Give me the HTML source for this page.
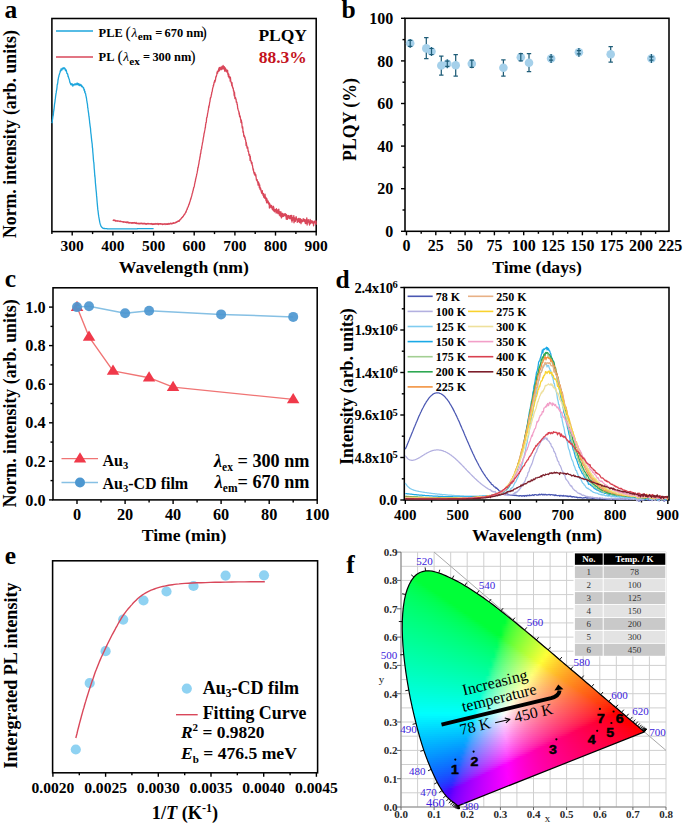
<!DOCTYPE html>
<html><head><meta charset="utf-8"><style>
html,body{margin:0;padding:0;background:#fff}
body{width:685px;height:823px;position:relative;overflow:hidden}
svg{position:absolute;left:0;top:0}
#cie{position:absolute}
#cie div{position:absolute}
</style></head><body>
<svg width="685" height="823" viewBox="0 0 685 823"><line x1="401" y1="552.1" x2="401" y2="807" stroke="#cfcfcf" stroke-width="1"/><line x1="417.6" y1="552.1" x2="417.6" y2="807" stroke="#cfcfcf" stroke-width="1"/><line x1="434.1" y1="552.1" x2="434.1" y2="807" stroke="#cfcfcf" stroke-width="1"/><line x1="450.7" y1="552.1" x2="450.7" y2="807" stroke="#cfcfcf" stroke-width="1"/><line x1="467.2" y1="552.1" x2="467.2" y2="807" stroke="#cfcfcf" stroke-width="1"/><line x1="483.8" y1="552.1" x2="483.8" y2="807" stroke="#cfcfcf" stroke-width="1"/><line x1="500.4" y1="552.1" x2="500.4" y2="807" stroke="#cfcfcf" stroke-width="1"/><line x1="516.9" y1="552.1" x2="516.9" y2="807" stroke="#cfcfcf" stroke-width="1"/><line x1="533.5" y1="552.1" x2="533.5" y2="807" stroke="#cfcfcf" stroke-width="1"/><line x1="550.1" y1="552.1" x2="550.1" y2="807" stroke="#cfcfcf" stroke-width="1"/><line x1="566.6" y1="552.1" x2="566.6" y2="807" stroke="#cfcfcf" stroke-width="1"/><line x1="583.2" y1="552.1" x2="583.2" y2="807" stroke="#cfcfcf" stroke-width="1"/><line x1="599.8" y1="552.1" x2="599.8" y2="807" stroke="#cfcfcf" stroke-width="1"/><line x1="616.3" y1="552.1" x2="616.3" y2="807" stroke="#cfcfcf" stroke-width="1"/><line x1="632.9" y1="552.1" x2="632.9" y2="807" stroke="#cfcfcf" stroke-width="1"/><line x1="649.4" y1="552.1" x2="649.4" y2="807" stroke="#cfcfcf" stroke-width="1"/><line x1="666" y1="552.1" x2="666" y2="807" stroke="#cfcfcf" stroke-width="1"/><line x1="401" y1="807" x2="666" y2="807" stroke="#cfcfcf" stroke-width="1"/><line x1="401" y1="792.8" x2="666" y2="792.8" stroke="#cfcfcf" stroke-width="1"/><line x1="401" y1="778.7" x2="666" y2="778.7" stroke="#cfcfcf" stroke-width="1"/><line x1="401" y1="764.5" x2="666" y2="764.5" stroke="#cfcfcf" stroke-width="1"/><line x1="401" y1="750.4" x2="666" y2="750.4" stroke="#cfcfcf" stroke-width="1"/><line x1="401" y1="736.2" x2="666" y2="736.2" stroke="#cfcfcf" stroke-width="1"/><line x1="401" y1="722" x2="666" y2="722" stroke="#cfcfcf" stroke-width="1"/><line x1="401" y1="707.9" x2="666" y2="707.9" stroke="#cfcfcf" stroke-width="1"/><line x1="401" y1="693.7" x2="666" y2="693.7" stroke="#cfcfcf" stroke-width="1"/><line x1="401" y1="679.6" x2="666" y2="679.6" stroke="#cfcfcf" stroke-width="1"/><line x1="401" y1="665.4" x2="666" y2="665.4" stroke="#cfcfcf" stroke-width="1"/><line x1="401" y1="651.2" x2="666" y2="651.2" stroke="#cfcfcf" stroke-width="1"/><line x1="401" y1="637.1" x2="666" y2="637.1" stroke="#cfcfcf" stroke-width="1"/><line x1="401" y1="622.9" x2="666" y2="622.9" stroke="#cfcfcf" stroke-width="1"/><line x1="401" y1="608.8" x2="666" y2="608.8" stroke="#cfcfcf" stroke-width="1"/><line x1="401" y1="594.6" x2="666" y2="594.6" stroke="#cfcfcf" stroke-width="1"/><line x1="401" y1="580.4" x2="666" y2="580.4" stroke="#cfcfcf" stroke-width="1"/><line x1="401" y1="566.3" x2="666" y2="566.3" stroke="#cfcfcf" stroke-width="1"/><line x1="401" y1="552.1" x2="666" y2="552.1" stroke="#cfcfcf" stroke-width="1"/><line x1="401" y1="552.1" x2="401" y2="807" stroke="#8a8a8a" stroke-width="1.1"/><line x1="401" y1="807" x2="666" y2="807" stroke="#8a8a8a" stroke-width="1.1"/><line x1="397" y1="807" x2="401" y2="807" stroke="#666" stroke-width="1"/><line x1="397" y1="778.7" x2="401" y2="778.7" stroke="#666" stroke-width="1"/><line x1="397" y1="750.4" x2="401" y2="750.4" stroke="#666" stroke-width="1"/><line x1="397" y1="722" x2="401" y2="722" stroke="#666" stroke-width="1"/><line x1="397" y1="693.7" x2="401" y2="693.7" stroke="#666" stroke-width="1"/><line x1="397" y1="665.4" x2="401" y2="665.4" stroke="#666" stroke-width="1"/><line x1="397" y1="637.1" x2="401" y2="637.1" stroke="#666" stroke-width="1"/><line x1="397" y1="608.8" x2="401" y2="608.8" stroke="#666" stroke-width="1"/><line x1="397" y1="580.4" x2="401" y2="580.4" stroke="#666" stroke-width="1"/><line x1="397" y1="552.1" x2="401" y2="552.1" stroke="#666" stroke-width="1"/><line x1="401" y1="807" x2="401" y2="810" stroke="#666" stroke-width="1"/><line x1="434.1" y1="807" x2="434.1" y2="810" stroke="#666" stroke-width="1"/><line x1="467.2" y1="807" x2="467.2" y2="810" stroke="#666" stroke-width="1"/><line x1="500.4" y1="807" x2="500.4" y2="810" stroke="#666" stroke-width="1"/><line x1="533.5" y1="807" x2="533.5" y2="810" stroke="#666" stroke-width="1"/><line x1="566.6" y1="807" x2="566.6" y2="810" stroke="#666" stroke-width="1"/><line x1="599.8" y1="807" x2="599.8" y2="810" stroke="#666" stroke-width="1"/><line x1="632.9" y1="807" x2="632.9" y2="810" stroke="#666" stroke-width="1"/><line x1="666" y1="807" x2="666" y2="810" stroke="#666" stroke-width="1"/><line x1="434.1" y1="552.1" x2="666" y2="750.4" stroke="#a8a8a8" stroke-width="1"/><text x="397.5" y="810.8" font-size="11" text-anchor="end" font-weight="bold" fill="#2a2a2a" font-family='"Liberation Serif", serif'>0.0</text><text x="397.5" y="782.5" font-size="11" text-anchor="end" font-weight="bold" fill="#2a2a2a" font-family='"Liberation Serif", serif'>0.1</text><text x="397.5" y="754.2" font-size="11" text-anchor="end" font-weight="bold" fill="#2a2a2a" font-family='"Liberation Serif", serif'>0.2</text><text x="397.5" y="725.8" font-size="11" text-anchor="end" font-weight="bold" fill="#2a2a2a" font-family='"Liberation Serif", serif'>0.3</text><text x="397.5" y="697.5" font-size="11" text-anchor="end" font-weight="bold" fill="#2a2a2a" font-family='"Liberation Serif", serif'>0.4</text><text x="397.5" y="669.2" font-size="11" text-anchor="end" font-weight="bold" fill="#2a2a2a" font-family='"Liberation Serif", serif'>0.5</text><text x="397.5" y="640.9" font-size="11" text-anchor="end" font-weight="bold" fill="#2a2a2a" font-family='"Liberation Serif", serif'>0.6</text><text x="397.5" y="612.6" font-size="11" text-anchor="end" font-weight="bold" fill="#2a2a2a" font-family='"Liberation Serif", serif'>0.7</text><text x="397.5" y="584.2" font-size="11" text-anchor="end" font-weight="bold" fill="#2a2a2a" font-family='"Liberation Serif", serif'>0.8</text><text x="397.5" y="555.9" font-size="11" text-anchor="end" font-weight="bold" fill="#2a2a2a" font-family='"Liberation Serif", serif'>0.9</text><text x="401" y="818.2" font-size="11" text-anchor="middle" font-weight="bold" fill="#2a2a2a" font-family='"Liberation Serif", serif'>0.0</text><text x="434.1" y="818.2" font-size="11" text-anchor="middle" font-weight="bold" fill="#2a2a2a" font-family='"Liberation Serif", serif'>0.1</text><text x="467.2" y="818.2" font-size="11" text-anchor="middle" font-weight="bold" fill="#2a2a2a" font-family='"Liberation Serif", serif'>0.2</text><text x="500.4" y="818.2" font-size="11" text-anchor="middle" font-weight="bold" fill="#2a2a2a" font-family='"Liberation Serif", serif'>0.3</text><text x="533.5" y="818.2" font-size="11" text-anchor="middle" font-weight="bold" fill="#2a2a2a" font-family='"Liberation Serif", serif'>0.4</text><text x="566.6" y="818.2" font-size="11" text-anchor="middle" font-weight="bold" fill="#2a2a2a" font-family='"Liberation Serif", serif'>0.5</text><text x="599.8" y="818.2" font-size="11" text-anchor="middle" font-weight="bold" fill="#2a2a2a" font-family='"Liberation Serif", serif'>0.6</text><text x="632.9" y="818.2" font-size="11" text-anchor="middle" font-weight="bold" fill="#2a2a2a" font-family='"Liberation Serif", serif'>0.7</text><text x="666" y="818.2" font-size="11" text-anchor="middle" font-weight="bold" fill="#2a2a2a" font-family='"Liberation Serif", serif'>0.8</text><text x="547.5" y="822" font-size="11" text-anchor="middle" font-weight="normal" fill="#222" font-family='"Liberation Serif", serif'>x</text><text x="381.6" y="682.5" font-size="11" text-anchor="middle" font-weight="normal" fill="#222" font-family='"Liberation Serif", serif'>y</text></svg>
<div id="cie" style="left:400px;top:568px;width:247px;height:240px;clip-path:path('M58.67 237.58 L58.67 237.58 L58.66 237.58 L58.65 237.58 L58.64 237.58 L58.62 237.59 L58.61 237.60 L58.59 237.61 L58.57 237.61 L58.56 237.61 L58.54 237.61 L58.52 237.61 L58.50 237.61 L58.48 237.62 L58.46 237.63 L58.43 237.63 L58.41 237.64 L58.38 237.64 L58.36 237.64 L58.33 237.64 L58.31 237.64 L58.28 237.64 L58.24 237.64 L58.21 237.64 L58.17 237.64 L58.14 237.64 L58.10 237.65 L58.05 237.65 L58.01 237.64 L57.96 237.63 L57.90 237.61 L57.85 237.59 L57.78 237.56 L57.70 237.52 L57.61 237.47 L57.51 237.42 L57.41 237.36 L57.31 237.29 L57.20 237.22 L57.08 237.14 L56.95 237.05 L56.80 236.94 L56.64 236.83 L56.47 236.70 L56.29 236.56 L56.10 236.42 L55.90 236.26 L55.69 236.09 L55.46 235.91 L55.21 235.73 L54.95 235.53 L54.67 235.32 L54.36 235.09 L54.03 234.84 L53.67 234.58 L53.28 234.29 L52.87 233.99 L52.45 233.67 L52.00 233.33 L51.52 232.97 L51.02 232.57 L50.48 232.14 L49.92 231.67 L49.33 231.16 L48.70 230.59 L48.05 229.98 L47.38 229.34 L46.67 228.60 L45.88 227.70 L45.03 226.66 L44.12 225.50 L43.15 224.17 L42.11 222.63 L41.01 220.91 L39.85 219.02 L38.62 216.88 L37.31 214.42 L35.91 211.65 L34.44 208.61 L32.89 205.22 L31.24 201.42 L29.48 197.22 L27.60 192.65 L25.68 187.65 L23.76 182.16 L21.83 176.16 L19.88 169.69 L17.94 162.77 L16.04 155.46 L14.14 147.64 L12.25 139.35 L10.43 130.77 L8.78 122.12 L7.28 113.32 L5.89 104.30 L4.68 95.29 L3.72 86.53 L2.99 77.96 L2.48 69.51 L2.23 61.32 L2.29 53.56 L2.67 46.17 L3.34 39.09 L4.32 32.49 L5.60 26.54 L7.24 21.23 L9.22 16.49 L11.46 12.40 L13.89 9.04 L16.54 6.51 L19.44 4.73 L22.49 3.56 L25.61 2.87 L28.81 2.74 L32.11 3.20 L35.48 4.03 L38.83 5.02 L42.19 6.18 L45.57 7.60 L48.94 9.17 L52.24 10.77 L55.47 12.39 L58.65 14.09 L61.79 15.84 L64.90 17.65 L67.98 19.51 L71.02 21.42 L74.04 23.38 L77.06 25.38 L80.07 27.44 L83.07 29.55 L86.06 31.70 L89.05 33.88 L92.02 36.09 L94.99 38.35 L97.95 40.63 L100.90 42.94 L103.86 45.27 L106.82 47.63 L109.77 50.01 L112.73 52.40 L115.69 54.81 L118.66 57.24 L121.63 59.69 L124.59 62.14 L127.54 64.60 L130.49 67.07 L133.44 69.55 L136.38 72.03 L139.32 74.50 L142.26 76.97 L145.19 79.45 L148.11 81.91 L151.01 84.37 L153.89 86.82 L156.76 89.26 L159.60 91.68 L162.43 94.09 L165.23 96.48 L168.02 98.85 L170.77 101.19 L173.49 103.52 L176.18 105.81 L178.85 108.08 L181.46 110.31 L184.05 112.51 L186.60 114.67 L189.10 116.79 L191.54 118.87 L193.92 120.90 L196.25 122.90 L198.52 124.84 L200.71 126.71 L202.81 128.50 L204.84 130.23 L206.79 131.89 L208.69 133.51 L210.54 135.08 L212.34 136.61 L214.07 138.08 L215.72 139.48 L217.28 140.81 L218.77 142.07 L220.19 143.27 L221.55 144.41 L222.83 145.50 L224.04 146.54 L225.19 147.53 L226.28 148.46 L227.31 149.34 L228.28 150.17 L229.19 150.95 L230.06 151.69 L230.88 152.39 L231.65 153.04 L232.38 153.65 L233.07 154.24 L233.73 154.80 L234.34 155.32 L234.93 155.82 L235.49 156.31 L236.03 156.77 L236.55 157.21 L237.04 157.63 L237.51 158.03 L237.96 158.42 L238.38 158.78 L238.79 159.12 L239.17 159.45 L239.53 159.75 L239.87 160.04 L240.19 160.30 L240.49 160.55 L240.77 160.79 L241.03 161.01 L241.26 161.21 L241.49 161.40 L241.70 161.58 L241.90 161.75 L242.08 161.91 L242.25 162.05 L242.41 162.19 L242.56 162.32 L242.69 162.43 L242.81 162.54 L242.92 162.63 L243.01 162.71 L243.10 162.78 L243.18 162.85 L243.26 162.92 L243.33 162.98 L243.41 163.04 L243.48 163.10 L243.54 163.16 L243.60 163.21 L243.65 163.25 L243.71 163.30 L243.77 163.35 L243.82 163.40 L243.88 163.45 L243.94 163.50 L243.99 163.54 L244.04 163.59 L244.09 163.63 L244.14 163.67 L244.18 163.70 L244.21 163.73 L244.24 163.76 L244.27 163.78 L244.29 163.80 L244.31 163.82 L244.32 163.83 L244.34 163.84 L244.35 163.85 L244.36 163.86 L244.36 163.86 L244.37 163.87Z')"><div style="top:0px;left:18px;width:25px;height:2px;background:linear-gradient(90deg,#00ff38 0px,#00ff38 4px,#00ff38 8px,#00ff38 12px,#00ff38 16px,#00ff38 20px,#00ff38 24px)"></div><div style="top:2px;left:14px;width:35px;height:2px;background:linear-gradient(90deg,#00ff38 0px,#00ff38 4px,#00ff38 8px,#00ff38 12px,#00ff38 16px,#00ff38 20px,#00ff38 24px,#00ff38 28px,#00ff38 32px)"></div><div style="top:4px;left:11px;width:43px;height:2px;background:linear-gradient(90deg,#00ff38 0px,#00ff38 4px,#00ff38 8px,#00ff38 12px,#00ff38 16px,#00ff38 20px,#00ff38 24px,#00ff38 28px,#00ff38 32px,#00ff38 36px,#00ff38 40px)"></div><div style="top:6px;left:9px;width:49px;height:2px;background:linear-gradient(90deg,#00ff38 0px,#00ff38 4px,#00ff38 8px,#00ff38 12px,#00ff38 16px,#00ff38 20px,#00ff38 24px,#00ff38 28px,#00ff38 32px,#00ff38 36px,#00ff38 40px,#00ff38 44px,#00ff38 48px)"></div><div style="top:8px;left:7px;width:55px;height:2px;background:linear-gradient(90deg,#00ff43 0px,#00ff3a 4px,#00ff38 8px,#00ff38 12px,#00ff38 16px,#00ff38 20px,#00ff38 24px,#00ff38 28px,#00ff38 32px,#00ff38 36px,#00ff38 40px,#00ff38 44px,#00ff38 48px,#00ff38 52px)"></div><div style="top:10px;left:6px;width:60px;height:2px;background:linear-gradient(90deg,#00ff49 0px,#00ff43 4px,#00ff3a 8px,#00ff38 12px,#00ff38 16px,#00ff38 20px,#00ff38 24px,#00ff38 28px,#00ff38 32px,#00ff38 36px,#00ff38 40px,#00ff38 44px,#00ff38 48px,#00ff38 52px,#00ff38 56px)"></div><div style="top:12px;left:5px;width:65px;height:2px;background:linear-gradient(90deg,#00ff4f 0px,#00ff49 4px,#00ff43 8px,#00ff3a 12px,#00ff38 16px,#00ff38 20px,#00ff38 24px,#00ff38 28px,#00ff38 32px,#00ff38 36px,#00ff38 40px,#00ff38 44px,#00ff38 48px,#00ff38 52px,#00ff38 56px,#00ff38 60px,#00ff38 64px)"></div><div style="top:14px;left:4px;width:69px;height:2px;background:linear-gradient(90deg,#00ff53 0px,#00ff4f 4px,#00ff4a 8px,#00ff43 12px,#00ff3a 16px,#00ff38 20px,#00ff38 24px,#00ff38 28px,#00ff38 32px,#00ff38 36px,#00ff38 40px,#00ff38 44px,#00ff38 48px,#00ff38 52px,#00ff38 56px,#00ff38 60px,#00ff38 64px,#00ff38 68px)"></div><div style="top:16px;left:3px;width:74px;height:2px;background:linear-gradient(90deg,#00ff57 0px,#00ff53 4px,#00ff4f 8px,#00ff4a 12px,#00ff43 16px,#00ff39 20px,#00ff38 24px,#00ff38 28px,#00ff38 32px,#00ff38 36px,#00ff38 40px,#00ff38 44px,#00ff38 48px,#00ff38 52px,#00ff38 56px,#00ff38 60px,#00ff38 64px,#00ff38 68px,#00ff38 72px)"></div><div style="top:18px;left:2px;width:78px;height:2px;background:linear-gradient(90deg,#00ff5b 0px,#00ff58 4px,#00ff54 8px,#00ff4f 12px,#00ff4a 16px,#00ff43 20px,#00ff39 24px,#00ff38 28px,#00ff38 32px,#00ff38 36px,#00ff38 40px,#00ff38 44px,#00ff38 48px,#00ff38 52px,#00ff38 56px,#00ff38 60px,#00ff38 64px,#00ff38 68px,#00ff38 72px,#00ff38 76px)"></div><div style="top:20px;left:1px;width:82px;height:2px;background:linear-gradient(90deg,#00ff5f 0px,#00ff5c 4px,#00ff58 8px,#00ff54 12px,#00ff4f 16px,#00ff4a 20px,#00ff43 24px,#00ff39 28px,#00ff38 32px,#00ff38 36px,#00ff38 40px,#00ff38 44px,#00ff38 48px,#00ff38 52px,#00ff38 56px,#00ff38 60px,#00ff38 64px,#00ff38 68px,#00ff38 72px,#00ff38 76px,#00ff38 80px)"></div><div style="top:22px;left:1px;width:85px;height:2px;background:linear-gradient(90deg,#00ff62 0px,#00ff5e 4px,#00ff5b 8px,#00ff57 12px,#00ff53 16px,#00ff4e 20px,#00ff49 24px,#00ff41 28px,#00ff38 32px,#00ff38 36px,#00ff38 40px,#00ff38 44px,#00ff38 48px,#00ff38 52px,#00ff38 56px,#00ff38 60px,#00ff38 64px,#00ff38 68px,#00ff38 72px,#00ff38 76px,#00ff38 80px,#00ff38 84px)"></div><div style="top:24px;left:0px;width:89px;height:2px;background:linear-gradient(90deg,#00ff65 0px,#00ff62 4px,#00ff5f 8px,#00ff5b 12px,#00ff57 16px,#00ff53 20px,#00ff4e 24px,#00ff49 28px,#00ff41 32px,#00ff38 36px,#00ff38 40px,#00ff38 44px,#00ff38 48px,#00ff38 52px,#00ff38 56px,#00ff38 60px,#00ff38 64px,#00ff38 68px,#00ff38 72px,#00ff38 76px,#00ff38 80px,#00ff38 84px,#00ff38 88px)"></div><div style="top:26px;left:-1px;width:93px;height:2px;background:linear-gradient(90deg,#00ff68 0px,#00ff65 4px,#00ff62 8px,#00ff5f 12px,#00ff5c 16px,#00ff58 20px,#00ff53 24px,#00ff4f 28px,#00ff49 32px,#00ff41 36px,#00ff38 40px,#00ff38 44px,#00ff38 48px,#00ff38 52px,#00ff38 56px,#00ff38 60px,#00ff38 64px,#00ff38 68px,#00ff38 72px,#00ff38 76px,#00ff38 80px,#00ff38 84px,#00ff38 88px,#00ff38 92px)"></div><div style="top:28px;left:-1px;width:95px;height:2px;background:linear-gradient(90deg,#00ff6b 0px,#00ff68 4px,#00ff65 8px,#00ff62 12px,#00ff5f 16px,#00ff5b 20px,#00ff57 24px,#00ff53 28px,#00ff4d 32px,#00ff47 36px,#00ff3f 40px,#00ff38 44px,#00ff38 48px,#00ff38 52px,#00ff38 56px,#00ff38 60px,#00ff38 64px,#00ff38 68px,#00ff38 72px,#00ff38 76px,#00ff38 80px,#00ff38 84px,#00ff38 88px,#00ff38 92px)"></div><div style="top:30px;left:-1px;width:98px;height:2px;background:linear-gradient(90deg,#00ff6d 0px,#00ff6a 4px,#00ff68 8px,#00ff65 12px,#00ff61 16px,#00ff5e 20px,#00ff5a 24px,#00ff56 28px,#00ff52 32px,#00ff4c 36px,#00ff45 40px,#00ff3c 44px,#00ff38 48px,#00ff38 52px,#00ff38 56px,#00ff38 60px,#00ff38 64px,#00ff38 68px,#00ff38 72px,#00ff38 76px,#00ff38 80px,#00ff38 84px,#00ff38 88px,#00ff38 92px,#00ff38 96px)"></div><div style="top:32px;left:-2px;width:102px;height:2px;background:linear-gradient(90deg,#00ff70 0px,#00ff6d 4px,#00ff6b 8px,#00ff68 12px,#00ff65 16px,#00ff62 20px,#00ff5e 24px,#00ff5b 28px,#00ff56 32px,#00ff52 36px,#00ff4c 40px,#00ff46 44px,#00ff3c 48px,#00ff38 52px,#00ff38 56px,#00ff38 60px,#00ff38 64px,#00ff38 68px,#00ff38 72px,#00ff38 76px,#00ff38 80px,#00ff38 84px,#00ff38 88px,#00ff38 92px,#00ff38 96px,#00ff38 100px)"></div><div style="top:34px;left:-2px;width:105px;height:2px;background:linear-gradient(90deg,#00ff72 0px,#00ff70 4px,#00ff6d 8px,#00ff6b 12px,#00ff68 16px,#00ff65 20px,#00ff61 24px,#00ff5e 28px,#00ff5a 32px,#00ff56 36px,#00ff51 40px,#00ff4b 44px,#00ff44 48px,#00ff38 52px,#00ff38 56px,#00ff38 60px,#00ff38 64px,#00ff38 68px,#00ff38 72px,#00ff38 76px,#00ff38 80px,#00ff38 84px,#00ff38 88px,#00ff38 92px,#00ff38 96px,#00ff38 100px,#00ff38 104px)"></div><div style="top:36px;left:-2px;width:107px;height:2px;background:linear-gradient(90deg,#00ff74 0px,#00ff72 4px,#00ff70 8px,#00ff6d 12px,#00ff6a 16px,#00ff67 20px,#00ff64 24px,#00ff61 28px,#00ff5d 32px,#00ff59 36px,#00ff55 40px,#00ff50 44px,#00ff49 48px,#00ff41 52px,#00ff38 56px,#00ff38 60px,#00ff38 64px,#00ff38 68px,#00ff38 72px,#00ff38 76px,#00ff38 80px,#00ff38 84px,#00ff38 88px,#00ff38 92px,#00ff38 96px,#00ff38 100px,#00ff38 104px)"></div><div style="top:38px;left:-3px;width:111px;height:2px;background:linear-gradient(90deg,#00ff77 0px,#00ff75 4px,#00ff73 8px,#00ff70 12px,#00ff6e 16px,#00ff6b 20px,#00ff68 24px,#00ff65 28px,#00ff61 32px,#00ff5e 36px,#00ff5a 40px,#00ff55 44px,#00ff50 48px,#00ff4a 52px,#00ff41 56px,#00ff38 60px,#00ff38 64px,#00ff38 68px,#00ff38 72px,#00ff38 76px,#00ff38 80px,#00ff38 84px,#00ff38 88px,#00ff38 92px,#00ff38 96px,#00ff38 100px,#00ff38 104px,#00ff38 108px)"></div><div style="top:40px;left:-3px;width:113px;height:2px;background:linear-gradient(90deg,#00ff79 0px,#00ff77 4px,#00ff75 8px,#00ff73 12px,#00ff70 16px,#00ff6d 20px,#00ff6b 24px,#00ff68 28px,#00ff64 32px,#00ff61 36px,#00ff5d 40px,#00ff59 44px,#00ff54 48px,#00ff4f 52px,#00ff48 56px,#00ff3e 60px,#00ff38 64px,#00ff38 68px,#00ff38 72px,#00ff38 76px,#00ff38 80px,#00ff38 84px,#00ff38 88px,#00ff38 92px,#00ff38 96px,#00ff38 100px,#00ff38 104px,#00ff38 108px,#00ff38 112px)"></div><div style="top:42px;left:-3px;width:116px;height:2px;background:linear-gradient(90deg,#00ff7c 0px,#00ff7a 4px,#00ff77 8px,#00ff75 12px,#00ff73 16px,#00ff70 20px,#00ff6d 24px,#00ff6a 28px,#00ff67 32px,#00ff64 36px,#00ff60 40px,#00ff5c 44px,#00ff58 48px,#00ff53 52px,#00ff4d 56px,#00ff46 60px,#00ff3b 64px,#00ff38 68px,#00ff38 72px,#00ff38 76px,#00ff38 80px,#00ff38 84px,#00ff38 88px,#00ff38 92px,#00ff38 96px,#00ff38 100px,#00ff38 104px,#00ff38 108px,#02ff38 112px)"></div><div style="top:44px;left:-3px;width:118px;height:2px;background:linear-gradient(90deg,#00ff7e 0px,#00ff7c 4px,#00ff7a 8px,#00ff77 12px,#00ff75 16px,#00ff72 20px,#00ff70 24px,#00ff6d 28px,#00ff6a 32px,#00ff67 36px,#00ff63 40px,#00ff60 44px,#00ff5c 48px,#00ff57 52px,#00ff52 56px,#00ff4c 60px,#00ff44 64px,#00ff38 68px,#00ff38 72px,#00ff38 76px,#00ff38 80px,#00ff38 84px,#00ff38 88px,#00ff38 92px,#00ff38 96px,#00ff38 100px,#00ff38 104px,#00ff38 108px,#0eff38 112px,#30ff38 116px)"></div><div style="top:46px;left:-3px;width:121px;height:2px;background:linear-gradient(90deg,#00ff80 0px,#00ff7e 4px,#00ff7c 8px,#00ff7a 12px,#00ff77 16px,#00ff75 20px,#00ff72 24px,#00ff70 28px,#00ff6d 32px,#00ff6a 36px,#00ff66 40px,#00ff63 44px,#00ff5f 48px,#00ff5b 52px,#00ff56 56px,#00ff51 60px,#00ff4a 64px,#00ff41 68px,#00ff38 72px,#00ff38 76px,#00ff38 80px,#00ff38 84px,#00ff38 88px,#00ff38 92px,#00ff38 96px,#00ff38 100px,#00ff38 104px,#00ff38 108px,#16ff38 112px,#35ff38 116px,#4aff38 120px)"></div><div style="top:48px;left:-3px;width:123px;height:2px;background:linear-gradient(90deg,#00ff82 0px,#00ff80 4px,#00ff7e 8px,#00ff7c 12px,#00ff7a 16px,#00ff77 20px,#00ff75 24px,#00ff72 28px,#00ff70 32px,#00ff6d 36px,#00ff69 40px,#00ff66 44px,#00ff62 48px,#00ff5f 52px,#00ff5a 56px,#00ff55 60px,#00ff4f 64px,#00ff48 68px,#00ff3e 72px,#00ff38 76px,#00ff38 80px,#00ff38 84px,#00ff38 88px,#00ff38 92px,#00ff38 96px,#00ff38 100px,#00ff38 104px,#00ff38 108px,#1cff38 112px,#39ff38 116px,#4eff38 120px)"></div><div style="top:50px;left:-3px;width:126px;height:2px;background:linear-gradient(90deg,#00ff84 0px,#00ff82 4px,#00ff80 8px,#00ff7e 12px,#00ff7c 16px,#00ff7a 20px,#00ff77 24px,#00ff75 28px,#00ff72 32px,#00ff6f 36px,#00ff6c 40px,#00ff69 44px,#00ff66 48px,#00ff62 52px,#00ff5e 56px,#00ff59 60px,#00ff54 64px,#00ff4e 68px,#00ff46 72px,#00ff3a 76px,#00ff38 80px,#00ff38 84px,#00ff38 88px,#00ff38 92px,#00ff38 96px,#00ff38 100px,#00ff38 104px,#00ff38 108px,#22ff38 112px,#3dff38 116px,#52ff38 120px,#63ff38 124px)"></div><div style="top:52px;left:-3px;width:128px;height:2px;background:linear-gradient(90deg,#00ff86 0px,#00ff85 4px,#00ff83 8px,#00ff81 12px,#00ff7e 16px,#00ff7c 20px,#00ff7a 24px,#00ff77 28px,#00ff75 32px,#00ff72 36px,#00ff6f 40px,#00ff6c 44px,#00ff69 48px,#00ff65 52px,#00ff61 56px,#00ff5d 60px,#00ff58 64px,#00ff53 68px,#00ff4c 72px,#00ff44 76px,#00ff38 80px,#00ff38 84px,#00ff38 88px,#00ff38 92px,#00ff38 96px,#00ff38 100px,#00ff38 104px,#00ff38 108px,#28ff38 112px,#41ff38 116px,#55ff38 120px,#66ff38 124px)"></div><div style="top:54px;left:-3px;width:131px;height:2px;background:linear-gradient(90deg,#00ff89 0px,#00ff87 4px,#00ff85 8px,#00ff83 12px,#00ff81 16px,#00ff7f 20px,#00ff7c 24px,#00ff7a 28px,#00ff78 32px,#00ff75 36px,#00ff72 40px,#00ff6f 44px,#00ff6c 48px,#00ff69 52px,#00ff65 56px,#00ff61 60px,#00ff5c 64px,#00ff57 68px,#00ff52 72px,#00ff4b 76px,#00ff41 80px,#00ff38 84px,#00ff38 88px,#00ff38 92px,#00ff38 96px,#00ff38 100px,#00ff38 104px,#01ff38 108px,#2dff38 112px,#45ff38 116px,#59ff38 120px,#6aff38 124px,#79ff38 128px)"></div><div style="top:56px;left:-3px;width:133px;height:2px;background:linear-gradient(90deg,#00ff8b 0px,#00ff89 4px,#00ff87 8px,#00ff85 12px,#00ff83 16px,#00ff81 20px,#00ff7f 24px,#00ff7d 28px,#00ff7a 32px,#00ff78 36px,#00ff75 40px,#00ff72 44px,#00ff6f 48px,#00ff6c 52px,#00ff68 56px,#00ff64 60px,#00ff60 64px,#00ff5c 68px,#00ff56 72px,#00ff50 76px,#00ff49 80px,#00ff3e 84px,#00ff38 88px,#00ff38 92px,#00ff38 96px,#00ff38 100px,#00ff38 104px,#0dff38 108px,#32ff38 112px,#49ff38 116px,#5cff38 120px,#6dff38 124px,#7cff38 128px,#8bff38 132px)"></div><div style="top:58px;left:-3px;width:135px;height:2px;background:linear-gradient(90deg,#00ff8d 0px,#00ff8b 4px,#00ff89 8px,#00ff87 12px,#00ff85 16px,#00ff83 20px,#00ff81 24px,#00ff7f 28px,#00ff7d 32px,#00ff7a 36px,#00ff78 40px,#00ff75 44px,#00ff72 48px,#00ff6f 52px,#00ff6b 56px,#00ff68 60px,#00ff64 64px,#00ff60 68px,#00ff5b 72px,#00ff55 76px,#00ff4f 80px,#00ff47 84px,#00ff3a 88px,#00ff38 92px,#00ff38 96px,#00ff38 100px,#00ff38 104px,#16ff38 108px,#36ff38 112px,#4dff38 116px,#60ff38 120px,#71ff38 124px,#80ff38 128px,#8eff38 132px)"></div><div style="top:60px;left:-3px;width:138px;height:2px;background:linear-gradient(90deg,#00ff8f 0px,#00ff8d 4px,#00ff8c 8px,#00ff8a 12px,#00ff88 16px,#00ff86 20px,#00ff84 24px,#00ff82 28px,#00ff7f 32px,#00ff7d 36px,#00ff7a 40px,#00ff78 44px,#00ff75 48px,#00ff72 52px,#00ff6f 56px,#00ff6b 60px,#00ff67 64px,#00ff63 68px,#00ff5f 72px,#00ff5a 76px,#00ff54 80px,#00ff4d 84px,#00ff44 88px,#00ff38 92px,#00ff38 96px,#00ff38 100px,#00ff38 104px,#1dff38 108px,#3bff38 112px,#51ff38 116px,#63ff38 120px,#74ff38 124px,#83ff38 128px,#91ff38 132px,#9fff38 136px)"></div><div style="top:62px;left:-3px;width:140px;height:2px;background:linear-gradient(90deg,#00ff91 0px,#00ff90 4px,#00ff8e 8px,#00ff8c 12px,#00ff8a 16px,#00ff88 20px,#00ff86 24px,#00ff84 28px,#00ff82 32px,#00ff7f 36px,#00ff7d 40px,#00ff7a 44px,#00ff78 48px,#00ff75 52px,#00ff72 56px,#00ff6e 60px,#00ff6b 64px,#00ff67 68px,#00ff63 72px,#00ff5e 76px,#00ff59 80px,#00ff53 84px,#00ff4c 88px,#00ff41 92px,#00ff38 96px,#00ff38 100px,#00ff38 104px,#23ff38 108px,#3fff38 112px,#55ff38 116px,#67ff38 120px,#77ff38 124px,#87ff38 128px,#95ff38 132px,#a3ff38 136px)"></div><div style="top:64px;left:-3px;width:143px;height:2px;background:linear-gradient(90deg,#00ff93 0px,#00ff92 4px,#00ff90 8px,#00ff8e 12px,#00ff8c 16px,#00ff8b 20px,#00ff89 24px,#00ff86 28px,#00ff84 32px,#00ff82 36px,#00ff80 40px,#00ff7d 44px,#00ff7b 48px,#00ff78 52px,#00ff75 56px,#00ff72 60px,#00ff6e 64px,#00ff6b 68px,#00ff67 72px,#00ff62 76px,#00ff5d 80px,#00ff58 84px,#00ff52 88px,#00ff4a 92px,#00ff3e 96px,#00ff38 100px,#00ff38 104px,#29ff38 108px,#44ff38 112px,#59ff38 116px,#6bff38 120px,#7bff38 124px,#8aff38 128px,#98ff38 132px,#a6ff38 136px,#b3ff38 140px)"></div><div style="top:66px;left:-3px;width:145px;height:2px;background:linear-gradient(90deg,#00ff96 0px,#00ff94 4px,#00ff92 8px,#00ff91 12px,#00ff8f 16px,#00ff8d 20px,#00ff8b 24px,#00ff89 28px,#00ff87 32px,#00ff85 36px,#00ff82 40px,#00ff80 44px,#00ff7d 48px,#00ff7b 52px,#00ff78 56px,#00ff75 60px,#00ff72 64px,#00ff6e 68px,#00ff6a 72px,#00ff66 76px,#00ff62 80px,#00ff5d 84px,#00ff57 88px,#00ff50 92px,#00ff47 96px,#00ff39 100px,#00ff38 104px,#2eff38 108px,#48ff38 112px,#5cff38 116px,#6eff38 120px,#7eff38 124px,#8eff38 128px,#9cff38 132px,#aaff38 136px,#b7ff38 140px,#c4ff38 144px)"></div><div style="top:68px;left:-3px;width:147px;height:2px;background:linear-gradient(90deg,#00ff98 0px,#00ff96 4px,#00ff95 8px,#00ff93 12px,#00ff91 16px,#00ff8f 20px,#00ff8d 24px,#00ff8b 28px,#00ff89 32px,#00ff87 36px,#00ff85 40px,#00ff83 44px,#00ff80 48px,#00ff7e 52px,#00ff7b 56px,#00ff78 60px,#00ff75 64px,#00ff71 68px,#00ff6e 72px,#00ff6a 76px,#00ff66 80px,#00ff61 84px,#00ff5c 88px,#00ff56 92px,#00ff4e 96px,#00ff45 100px,#0cff38 104px,#34ff38 108px,#4cff38 112px,#60ff38 116px,#72ff38 120px,#82ff38 124px,#91ff38 128px,#9fff38 132px,#adff38 136px,#baff38 140px,#c7ff38 144px)"></div><div style="top:70px;left:-3px;width:150px;height:2px;background:linear-gradient(90deg,#00ff9a 0px,#00ff98 4px,#00ff97 8px,#00ff95 12px,#00ff93 16px,#00ff92 20px,#00ff90 24px,#00ff8e 28px,#00ff8c 32px,#00ff8a 36px,#00ff88 40px,#00ff85 44px,#00ff83 48px,#00ff80 52px,#00ff7e 56px,#00ff7b 60px,#00ff78 64px,#00ff75 68px,#00ff71 72px,#00ff6e 76px,#00ff6a 80px,#00ff65 84px,#00ff60 88px,#00ff5b 92px,#00ff54 96px,#00ff4d 100px,#16ff41 104px,#38ff38 108px,#50ff38 112px,#64ff38 116px,#76ff38 120px,#86ff38 124px,#95ff38 128px,#a3ff38 132px,#b1ff38 136px,#beff38 140px,#cbff38 144px,#d8ff38 148px)"></div><div style="top:72px;left:-3px;width:152px;height:2px;background:linear-gradient(90deg,#00ff9c 0px,#00ff9b 4px,#00ff99 8px,#00ff97 12px,#00ff96 16px,#00ff94 20px,#00ff92 24px,#00ff90 28px,#00ff8e 32px,#00ff8c 36px,#00ff8a 40px,#00ff88 44px,#00ff86 48px,#00ff83 52px,#00ff81 56px,#00ff7e 60px,#00ff7b 64px,#00ff78 68px,#00ff75 72px,#00ff71 76px,#00ff6d 80px,#00ff69 84px,#00ff65 88px,#00ff60 92px,#00ff5a 96px,#00ff53 100px,#1dff4a 104px,#3dff3d 108px,#54ff38 112px,#68ff38 116px,#79ff38 120px,#89ff38 124px,#98ff38 128px,#a7ff38 132px,#b5ff38 136px,#c2ff38 140px,#cfff38 144px,#dcff38 148px)"></div><div style="top:74px;left:-3px;width:155px;height:2px;background:linear-gradient(90deg,#00ff9e 0px,#00ff9d 4px,#00ff9b 8px,#00ff9a 12px,#00ff98 16px,#00ff96 20px,#00ff95 24px,#00ff93 28px,#00ff91 32px,#00ff8f 36px,#00ff8d 40px,#00ff8b 44px,#00ff88 48px,#00ff86 52px,#00ff84 56px,#00ff81 60px,#00ff7e 64px,#00ff7b 68px,#00ff78 72px,#00ff75 76px,#00ff71 80px,#00ff6d 84px,#00ff69 88px,#00ff64 92px,#00ff5f 96px,#00ff59 100px,#24ff51 104px,#42ff48 108px,#58ff38 112px,#6cff38 116px,#7dff38 120px,#8dff38 124px,#9cff38 128px,#aaff38 132px,#b8ff38 136px,#c6ff38 140px,#d3ff38 144px,#e0ff38 148px,#edff38 152px)"></div><div style="top:76px;left:-3px;width:157px;height:2px;background:linear-gradient(90deg,#00ffa1 0px,#00ff9f 4px,#00ff9e 8px,#00ff9c 12px,#00ff9a 16px,#00ff99 20px,#00ff97 24px,#00ff95 28px,#00ff93 32px,#00ff92 36px,#00ff90 40px,#00ff8d 44px,#00ff8b 48px,#00ff89 52px,#00ff86 56px,#00ff84 60px,#00ff81 64px,#00ff7e 68px,#00ff7b 72px,#00ff78 76px,#00ff75 80px,#00ff71 84px,#00ff6d 88px,#00ff68 92px,#00ff63 96px,#00ff5e 100px,#2aff57 104px,#47ff50 108px,#5cff45 112px,#6fff38 116px,#81ff38 120px,#91ff38 124px,#a0ff38 128px,#aeff38 132px,#bcff38 136px,#caff38 140px,#d7ff38 144px,#e4ff38 148px,#f1ff38 152px,#feff38 156px)"></div><div style="top:78px;left:-3px;width:159px;height:2px;background:linear-gradient(90deg,#00ffa3 0px,#00ffa1 4px,#00ffa0 8px,#00ff9e 12px,#00ff9d 16px,#00ff9b 20px,#00ff9a 24px,#00ff98 28px,#00ff96 32px,#00ff94 36px,#00ff92 40px,#00ff90 44px,#00ff8e 48px,#00ff8c 52px,#00ff89 56px,#00ff87 60px,#00ff84 64px,#00ff82 68px,#00ff7f 72px,#00ff7c 76px,#00ff78 80px,#00ff75 84px,#00ff71 88px,#00ff6d 92px,#00ff68 96px,#00ff63 100px,#30ff5d 104px,#4bff56 108px,#61ff4e 112px,#73ff42 116px,#84ff38 120px,#94ff38 124px,#a4ff38 128px,#b2ff38 132px,#c0ff38 136px,#ceff38 140px,#dbff38 144px,#e9ff38 148px,#f6ff38 152px,#fffb37 156px)"></div><div style="top:80px;left:-3px;width:162px;height:2px;background:linear-gradient(90deg,#00ffa5 0px,#00ffa4 4px,#00ffa2 8px,#00ffa1 12px,#00ff9f 16px,#00ff9e 20px,#00ff9c 24px,#00ff9a 28px,#00ff99 32px,#00ff97 36px,#00ff95 40px,#00ff93 44px,#00ff91 48px,#00ff8f 52px,#00ff8c 56px,#00ff8a 60px,#00ff87 64px,#00ff85 68px,#00ff82 72px,#00ff7f 76px,#00ff7c 80px,#00ff78 84px,#00ff75 88px,#00ff71 92px,#00ff6c 96px,#0bff67 100px,#35ff62 104px,#4fff5c 108px,#65ff55 112px,#77ff4b 116px,#88ff3d 120px,#98ff38 124px,#a7ff38 128px,#b6ff38 132px,#c4ff38 136px,#d2ff38 140px,#e0ff38 144px,#edff38 148px,#faff38 152px,#fff736 156px,#ffeb34 160px)"></div><div style="top:82px;left:-3px;width:164px;height:2px;background:linear-gradient(90deg,#00ffa7 0px,#00ffa6 4px,#00ffa5 8px,#00ffa3 12px,#00ffa2 16px,#00ffa0 20px,#00ff9f 24px,#00ff9d 28px,#00ff9b 32px,#00ff99 36px,#00ff98 40px,#00ff96 44px,#00ff94 48px,#00ff91 52px,#00ff8f 56px,#00ff8d 60px,#00ff8a 64px,#00ff88 68px,#00ff85 72px,#00ff82 76px,#00ff7f 80px,#00ff7c 84px,#00ff78 88px,#00ff75 92px,#00ff70 96px,#16ff6c 100px,#3bff67 104px,#54ff61 108px,#69ff5b 112px,#7bff53 116px,#8cff49 120px,#9cff38 124px,#abff38 128px,#baff38 132px,#c8ff38 136px,#d6ff38 140px,#e4ff38 144px,#f1ff38 148px,#ffff38 152px,#fff235 156px,#ffe733 160px)"></div><div style="top:84px;left:-2px;width:165px;height:2px;background:linear-gradient(90deg,#00ffa9 0px,#00ffa8 4px,#00ffa7 8px,#00ffa5 12px,#00ffa4 16px,#00ffa2 20px,#00ffa1 24px,#00ff9f 28px,#00ff9d 32px,#00ff9c 36px,#00ff9a 40px,#00ff98 44px,#00ff96 48px,#00ff94 52px,#00ff92 56px,#00ff8f 60px,#00ff8d 64px,#00ff8a 68px,#00ff88 72px,#00ff85 76px,#00ff82 80px,#00ff7f 84px,#00ff7b 88px,#00ff77 92px,#00ff73 96px,#28ff6f 100px,#46ff6a 104px,#5eff65 108px,#72ff5f 112px,#84ff58 116px,#94ff4f 120px,#a4ff42 124px,#b3ff38 128px,#c2ff38 132px,#d0ff38 136px,#deff38 140px,#ecff38 144px,#f9ff38 148px,#fff736 152px,#ffeb34 156px,#ffe031 160px,#ffd62f 164px)"></div><div style="top:86px;left:-2px;width:168px;height:2px;background:linear-gradient(90deg,#00ffab 0px,#00ffaa 4px,#00ffa9 8px,#00ffa8 12px,#00ffa6 16px,#00ffa5 20px,#00ffa3 24px,#00ffa2 28px,#00ffa0 32px,#00ff9e 36px,#00ff9c 40px,#00ff9b 44px,#00ff99 48px,#00ff97 52px,#00ff94 56px,#00ff92 60px,#00ff90 64px,#00ff8d 68px,#00ff8b 72px,#00ff88 76px,#00ff85 80px,#00ff82 84px,#00ff7f 88px,#00ff7b 92px,#00ff78 96px,#2eff73 100px,#4bff6f 104px,#62ff6a 108px,#76ff64 112px,#88ff5e 116px,#98ff56 120px,#a8ff4c 124px,#b7ff3c 128px,#c6ff38 132px,#d4ff38 136px,#e3ff38 140px,#f0ff38 144px,#feff38 148px,#fff335 152px,#ffe733 156px,#ffdc30 160px,#ffd22e 164px)"></div><div style="top:88px;left:-2px;width:170px;height:2px;background:linear-gradient(90deg,#00ffae 0px,#00ffad 4px,#00ffab 8px,#00ffaa 12px,#00ffa9 16px,#00ffa7 20px,#00ffa6 24px,#00ffa4 28px,#00ffa3 32px,#00ffa1 36px,#00ff9f 40px,#00ff9d 44px,#00ff9b 48px,#00ff99 52px,#00ff97 56px,#00ff95 60px,#00ff93 64px,#00ff91 68px,#00ff8e 72px,#00ff8c 76px,#00ff89 80px,#00ff86 84px,#00ff83 88px,#00ff7f 92px,#02ff7c 96px,#34ff78 100px,#50ff73 104px,#66ff6f 108px,#7aff69 112px,#8cff63 116px,#9cff5d 120px,#acff54 124px,#bbff49 128px,#caff38 132px,#d9ff38 136px,#e7ff38 140px,#f5ff38 144px,#fffb37 148px,#ffee34 152px,#ffe232 156px,#ffd82f 160px,#ffce2d 164px,#ffc52b 168px)"></div><div style="top:90px;left:-2px;width:172px;height:2px;background:linear-gradient(90deg,#00ffb0 0px,#00ffaf 4px,#00ffae 8px,#00ffac 12px,#00ffab 16px,#00ffaa 20px,#00ffa8 24px,#00ffa7 28px,#00ffa5 32px,#00ffa4 36px,#00ffa2 40px,#00ffa0 44px,#00ff9e 48px,#00ff9c 52px,#00ff9a 56px,#00ff98 60px,#00ff96 64px,#00ff94 68px,#00ff91 72px,#00ff8f 76px,#00ff8c 80px,#00ff89 84px,#00ff86 88px,#00ff83 92px,#10ff80 96px,#3aff7c 100px,#55ff78 104px,#6bff73 108px,#7eff6e 112px,#90ff69 116px,#a0ff63 120px,#b0ff5b 124px,#c0ff52 128px,#cfff46 132px,#ddff38 136px,#ecff38 140px,#faff38 144px,#fff636 148px,#ffe933 152px,#ffde31 156px,#ffd42f 160px,#ffca2c 164px,#ffc12a 168px)"></div><div style="top:92px;left:-2px;width:175px;height:2px;background:linear-gradient(90deg,#00ffb3 0px,#00ffb1 4px,#00ffb0 8px,#00ffaf 12px,#00ffae 16px,#00ffac 20px,#00ffab 24px,#00ffa9 28px,#00ffa8 32px,#00ffa6 36px,#00ffa5 40px,#00ffa3 44px,#00ffa1 48px,#00ff9f 52px,#00ff9d 56px,#00ff9b 60px,#00ff99 64px,#00ff97 68px,#00ff95 72px,#00ff92 76px,#00ff90 80px,#00ff8d 84px,#00ff8a 88px,#00ff87 92px,#1aff83 96px,#3fff80 100px,#59ff7c 104px,#6fff78 108px,#82ff73 112px,#94ff6e 116px,#a5ff68 120px,#b5ff62 124px,#c4ff5a 128px,#d3ff50 132px,#e2ff42 136px,#f1ff38 140px,#ffff38 144px,#fff135 148px,#ffe532 152px,#ffda30 156px,#ffd02e 160px,#ffc62c 164px,#ffbd2a 168px,#ffb528 172px)"></div><div style="top:94px;left:-1px;width:176px;height:2px;background:linear-gradient(90deg,#00ffb5 0px,#00ffb3 4px,#00ffb2 8px,#00ffb1 12px,#00ffb0 16px,#00ffae 20px,#00ffad 24px,#00ffac 28px,#00ffaa 32px,#00ffa9 36px,#00ffa7 40px,#00ffa5 44px,#00ffa4 48px,#00ffa2 52px,#00ffa0 56px,#00ff9e 60px,#00ff9c 64px,#00ff9a 68px,#00ff97 72px,#00ff95 76px,#00ff92 80px,#00ff90 84px,#00ff8d 88px,#00ff8a 92px,#2dff87 96px,#4cff83 100px,#63ff7f 104px,#78ff7b 108px,#8bff77 112px,#9cff72 116px,#adff6c 120px,#bdff66 124px,#cdff5f 128px,#dcff56 132px,#ebff4a 136px,#f9ff38 140px,#fff636 144px,#ffe933 148px,#ffde31 152px,#ffd32e 156px,#ffc92c 160px,#ffc02a 164px,#ffb828 168px,#ffb027 172px)"></div><div style="top:96px;left:-1px;width:178px;height:2px;background:linear-gradient(90deg,#00ffb7 0px,#00ffb6 4px,#00ffb5 8px,#00ffb4 12px,#00ffb2 16px,#00ffb1 20px,#00ffb0 24px,#00ffae 28px,#00ffad 32px,#00ffab 36px,#00ffaa 40px,#00ffa8 44px,#00ffa7 48px,#00ffa5 52px,#00ffa3 56px,#00ffa1 60px,#00ff9f 64px,#00ff9d 68px,#00ff9b 72px,#00ff98 76px,#00ff96 80px,#00ff93 84px,#00ff91 88px,#00ff8e 92px,#33ff8a 96px,#50ff87 100px,#68ff83 104px,#7dff80 108px,#8fff7b 112px,#a1ff77 116px,#b1ff72 120px,#c2ff6c 124px,#d1ff65 128px,#e0ff5e 132px,#f0ff54 136px,#ffff47 140px,#fff135 144px,#ffe532 148px,#ffd930 152px,#ffcf2d 156px,#ffc52b 160px,#ffbc29 164px,#ffb428 168px,#ffac26 172px,#ffa524 176px)"></div><div style="top:98px;left:-1px;width:181px;height:2px;background:linear-gradient(90deg,#00ffb9 0px,#00ffb8 4px,#00ffb7 8px,#00ffb6 12px,#00ffb5 16px,#00ffb4 20px,#00ffb2 24px,#00ffb1 28px,#00ffb0 32px,#00ffae 36px,#00ffad 40px,#00ffab 44px,#00ffa9 48px,#00ffa8 52px,#00ffa6 56px,#00ffa4 60px,#00ffa2 64px,#00ffa0 68px,#00ff9e 72px,#00ff9c 76px,#00ff99 80px,#00ff97 84px,#00ff94 88px,#09ff91 92px,#39ff8e 96px,#55ff8b 100px,#6dff88 104px,#81ff84 108px,#94ff80 112px,#a5ff7c 116px,#b6ff77 120px,#c6ff71 124px,#d6ff6b 128px,#e5ff64 132px,#f5ff5c 136px,#fffa50 140px,#ffec3d 144px,#ffe031 148px,#ffd52f 152px,#ffcb2d 156px,#ffc12a 160px,#ffb829 164px,#ffb027 168px,#ffa825 172px,#ffa123 176px,#ff9b22 180px)"></div><div style="top:100px;left:-1px;width:183px;height:2px;background:linear-gradient(90deg,#00ffbc 0px,#00ffbb 4px,#00ffba 8px,#00ffb9 12px,#00ffb8 16px,#00ffb6 20px,#00ffb5 24px,#00ffb4 28px,#00ffb2 32px,#00ffb1 36px,#00ffb0 40px,#00ffae 44px,#00ffac 48px,#00ffab 52px,#00ffa9 56px,#00ffa7 60px,#00ffa5 64px,#00ffa3 68px,#00ffa1 72px,#00ff9f 76px,#00ff9d 80px,#00ff9a 84px,#00ff98 88px,#15ff95 92px,#3fff92 96px,#5aff8f 100px,#71ff8c 104px,#85ff88 108px,#98ff85 112px,#aaff80 116px,#bbff7c 120px,#cbff77 124px,#dbff71 128px,#ebff6b 132px,#faff63 136px,#fff557 140px,#ffe848 144px,#ffdb32 148px,#ffd02e 152px,#ffc62c 156px,#ffbd2a 160px,#ffb428 164px,#ffac26 168px,#ffa524 172px,#ff9e23 176px,#ff9721 180px)"></div><div style="top:102px;left:0px;width:185px;height:2px;background:linear-gradient(90deg,#00ffbe 0px,#00ffbd 4px,#00ffbc 8px,#00ffbb 12px,#00ffba 16px,#00ffb9 20px,#00ffb7 24px,#00ffb6 28px,#00ffb5 32px,#00ffb4 36px,#00ffb2 40px,#00ffb1 44px,#00ffaf 48px,#00ffad 52px,#00ffac 56px,#00ffaa 60px,#00ffa8 64px,#00ffa6 68px,#00ffa4 72px,#00ffa2 76px,#00ffa0 80px,#00ff9e 84px,#00ff9b 88px,#2aff98 92px,#4cff96 96px,#65ff93 100px,#7bff8f 104px,#8fff8c 108px,#a1ff88 112px,#b3ff84 116px,#c4ff80 120px,#d4ff7b 124px,#e4ff75 128px,#f4ff6f 132px,#fffb67 136px,#ffec5a 140px,#ffe04c 144px,#ffd43b 148px,#ffca2c 152px,#ffc02a 156px,#ffb728 160px,#ffaf26 164px,#ffa725 168px,#ff9f23 172px,#ff9922 176px,#ff9220 180px,#ff8c1f 184px)"></div><div style="top:104px;left:0px;width:187px;height:2px;background:linear-gradient(90deg,#00ffc1 0px,#00ffc0 4px,#00ffbf 8px,#00ffbe 12px,#00ffbd 16px,#00ffbb 20px,#00ffba 24px,#00ffb9 28px,#00ffb8 32px,#00ffb6 36px,#00ffb5 40px,#00ffb4 44px,#00ffb2 48px,#00ffb1 52px,#00ffaf 56px,#00ffad 60px,#00ffac 64px,#00ffaa 68px,#00ffa8 72px,#00ffa6 76px,#00ffa4 80px,#00ffa1 84px,#00ff9f 88px,#31ff9c 92px,#51ff9a 96px,#6aff97 100px,#80ff94 104px,#93ff90 108px,#a6ff8d 112px,#b7ff89 116px,#c8ff85 120px,#d9ff80 124px,#e9ff7b 128px,#f9ff75 132px,#fff56b 136px,#ffe75f 140px,#ffdb52 144px,#ffd044 148px,#ffc532 152px,#ffbc29 156px,#ffb327 160px,#ffab26 164px,#ffa324 168px,#ff9c22 172px,#ff9521 176px,#ff8f1f 180px,#ff891e 184px)"></div><div style="top:106px;left:0px;width:189px;height:2px;background:linear-gradient(90deg,#00ffc3 0px,#00ffc2 4px,#00ffc1 8px,#00ffc0 12px,#00ffbf 16px,#00ffbe 20px,#00ffbd 24px,#00ffbc 28px,#00ffbb 32px,#00ffb9 36px,#00ffb8 40px,#00ffb7 44px,#00ffb5 48px,#00ffb4 52px,#00ffb2 56px,#00ffb1 60px,#00ffaf 64px,#00ffad 68px,#00ffab 72px,#00ffa9 76px,#00ffa7 80px,#00ffa5 84px,#00ffa3 88px,#38ffa0 92px,#56ff9e 96px,#6fff9b 100px,#84ff98 104px,#98ff95 108px,#abff91 112px,#bcff8e 116px,#cdff8a 120px,#deff85 124px,#efff81 128px,#ffff7b 132px,#fff06f 136px,#ffe263 140px,#ffd657 144px,#ffcb4b 148px,#ffc13d 152px,#ffb829 156px,#ffaf26 160px,#ffa725 164px,#ff9f23 168px,#ff9821 172px,#ff9220 176px,#ff8b1f 180px,#ff851d 184px,#ff7f1c 188px)"></div><div style="top:108px;left:1px;width:191px;height:2px;background:linear-gradient(90deg,#00ffc6 0px,#00ffc5 4px,#00ffc4 8px,#00ffc3 12px,#00ffc2 16px,#00ffc1 20px,#00ffc0 24px,#00ffbe 28px,#00ffbd 32px,#00ffbc 36px,#00ffbb 40px,#00ffb9 44px,#00ffb8 48px,#00ffb7 52px,#00ffb5 56px,#00ffb4 60px,#00ffb2 64px,#00ffb0 68px,#00ffae 72px,#00ffac 76px,#00ffaa 80px,#00ffa8 84px,#1fffa6 88px,#46ffa4 92px,#62ffa1 96px,#79ff9e 100px,#8eff9c 104px,#a2ff98 108px,#b4ff95 112px,#c6ff92 116px,#d7ff8e 120px,#e8ff8a 124px,#f8ff85 128px,#fff67c 132px,#ffe770 136px,#ffda64 140px,#ffcf59 144px,#ffc44d 148px,#ffba41 152px,#ffb132 156px,#ffa925 160px,#ffa123 164px,#ff9a22 168px,#ff9320 172px,#ff8c1f 176px,#ff861e 180px,#ff801c 184px,#ff7b1b 188px)"></div><div style="top:110px;left:1px;width:193px;height:2px;background:linear-gradient(90deg,#00ffc8 0px,#00ffc7 4px,#00ffc7 8px,#00ffc6 12px,#00ffc5 16px,#00ffc4 20px,#00ffc3 24px,#00ffc1 28px,#00ffc0 32px,#00ffbf 36px,#00ffbe 40px,#00ffbd 44px,#00ffbb 48px,#00ffba 52px,#00ffb8 56px,#00ffb7 60px,#00ffb5 64px,#00ffb4 68px,#00ffb2 72px,#00ffb0 76px,#00ffae 80px,#00ffac 84px,#28ffaa 88px,#4cffa8 92px,#67ffa5 96px,#7effa3 100px,#93ffa0 104px,#a7ff9d 108px,#b9ff9a 112px,#cbff96 116px,#dcff93 120px,#edff8f 124px,#feff8a 128px,#fff07f 132px,#ffe273 136px,#ffd568 140px,#ffca5d 144px,#ffc052 148px,#ffb647 152px,#ffad3a 156px,#ffa52a 160px,#ff9d23 164px,#ff9621 168px,#ff8f20 172px,#ff891e 176px,#ff831d 180px,#ff7d1b 184px,#ff771a 188px,#ff7219 192px)"></div><div style="top:112px;left:1px;width:195px;height:2px;background:linear-gradient(90deg,#00ffcb 0px,#00ffca 4px,#00ffc9 8px,#00ffc8 12px,#00ffc7 16px,#00ffc6 20px,#00ffc5 24px,#00ffc4 28px,#00ffc3 32px,#00ffc2 36px,#00ffc1 40px,#00ffc0 44px,#00ffbf 48px,#00ffbd 52px,#00ffbc 56px,#00ffba 60px,#00ffb9 64px,#00ffb7 68px,#00ffb6 72px,#00ffb4 76px,#00ffb2 80px,#00ffb0 84px,#30ffae 88px,#52ffac 92px,#6cffa9 96px,#83ffa7 100px,#98ffa4 104px,#acffa2 108px,#beff9f 112px,#d0ff9b 116px,#e2ff98 120px,#f3ff94 124px,#fffa8e 128px,#ffeb82 132px,#ffdd76 136px,#ffd16c 140px,#ffc561 144px,#ffbb57 148px,#ffb24c 152px,#ffa941 156px,#ffa134 160px,#ff9922 164px,#ff9220 168px,#ff8c1f 172px,#ff851d 176px,#ff7f1c 180px,#ff791b 184px,#ff7419 188px,#ff6e18 192px)"></div><div style="top:114px;left:2px;width:197px;height:2px;background:linear-gradient(90deg,#00ffce 0px,#00ffcd 4px,#00ffcc 8px,#00ffcb 12px,#00ffca 16px,#00ffc9 20px,#00ffc8 24px,#00ffc7 28px,#00ffc6 32px,#00ffc5 36px,#00ffc4 40px,#00ffc3 44px,#00ffc2 48px,#00ffc0 52px,#00ffbf 56px,#00ffbe 60px,#00ffbc 64px,#00ffba 68px,#00ffb9 72px,#00ffb7 76px,#00ffb5 80px,#0fffb3 84px,#40ffb2 88px,#5effaf 92px,#77ffad 96px,#8effab 100px,#a2ffa8 104px,#b5ffa6 108px,#c8ffa3 112px,#daffa0 116px,#ecff9c 120px,#fdff99 124px,#fff08d 128px,#ffe282 132px,#ffd577 136px,#ffc96c 140px,#ffbe62 144px,#ffb458 148px,#ffab4e 152px,#ffa343 156px,#ff9b38 160px,#ff9429 164px,#ff8d1f 168px,#ff861e 172px,#ff801c 176px,#ff7a1b 180px,#ff741a 184px,#ff6f18 188px,#ff6a17 192px,#ff6516 196px)"></div><div style="top:116px;left:2px;width:199px;height:2px;background:linear-gradient(90deg,#00ffd0 0px,#00ffd0 4px,#00ffcf 8px,#00ffce 12px,#00ffcd 16px,#00ffcc 20px,#00ffcb 24px,#00ffca 28px,#00ffc9 32px,#00ffc8 36px,#00ffc7 40px,#00ffc6 44px,#00ffc5 48px,#00ffc4 52px,#00ffc2 56px,#00ffc1 60px,#00ffc0 64px,#00ffbe 68px,#00ffbd 72px,#00ffbb 76px,#00ffb9 80px,#1bffb8 84px,#46ffb6 88px,#64ffb4 92px,#7dffb2 96px,#93ffaf 100px,#a7ffad 104px,#bbffaa 108px,#ceffa8 112px,#e0ffa5 116px,#f2ffa1 120px,#fffb9c 124px,#ffeb90 128px,#ffdc84 132px,#ffd07a 136px,#ffc46f 140px,#ffba65 144px,#ffb05c 148px,#ffa752 152px,#ff9f48 156px,#ff973e 160px,#ff9032 164px,#ff8922 168px,#ff831d 172px,#ff7c1b 176px,#ff771a 180px,#ff7119 184px,#ff6b18 188px,#ff6616 192px,#ff6115 196px)"></div><div style="top:118px;left:2px;width:201px;height:2px;background:linear-gradient(90deg,#00ffd3 0px,#00ffd2 4px,#00ffd2 8px,#00ffd1 12px,#00ffd0 16px,#00ffcf 20px,#00ffce 24px,#00ffcd 28px,#00ffcd 32px,#00ffcc 36px,#00ffcb 40px,#00ffc9 44px,#00ffc8 48px,#00ffc7 52px,#00ffc6 56px,#00ffc5 60px,#00ffc3 64px,#00ffc2 68px,#00ffc1 72px,#00ffbf 76px,#00ffbd 80px,#25ffbc 84px,#4dffba 88px,#69ffb8 92px,#82ffb6 96px,#98ffb4 100px,#adffb2 104px,#c0ffaf 108px,#d3ffad 112px,#e6ffaa 116px,#f8ffa7 120px,#fff49e 124px,#ffe592 128px,#ffd787 132px,#ffcb7c 136px,#ffbf72 140px,#ffb569 144px,#ffac5f 148px,#ffa356 152px,#ff9b4c 156px,#ff9343 160px,#ff8c38 164px,#ff852c 168px,#ff7f1c 172px,#ff791b 176px,#ff7319 180px,#ff6d18 184px,#ff6817 188px,#ff6316 192px,#ff5e15 196px,#ff5914 200px)"></div><div style="top:120px;left:3px;width:203px;height:2px;background:linear-gradient(90deg,#00ffd6 0px,#00ffd5 4px,#00ffd4 8px,#00ffd4 12px,#00ffd3 16px,#00ffd2 20px,#00ffd1 24px,#00ffd0 28px,#00ffd0 32px,#00ffcf 36px,#00ffce 40px,#00ffcd 44px,#00ffcc 48px,#00ffca 52px,#00ffc9 56px,#00ffc8 60px,#00ffc7 64px,#00ffc6 68px,#00ffc4 72px,#00ffc3 76px,#00ffc1 80px,#38ffc0 84px,#5affbe 88px,#75ffbc 92px,#8dffba 96px,#a3ffb8 100px,#b7ffb6 104px,#cbffb3 108px,#deffb1 112px,#f0ffae 116px,#fffba9 120px,#ffea9d 124px,#ffdc91 128px,#ffcf86 132px,#ffc37c 136px,#ffb872 140px,#ffae69 144px,#ffa560 148px,#ff9d57 152px,#ff954e 156px,#ff8d45 160px,#ff863b 164px,#ff8030 168px,#ff7a22 172px,#ff7419 176px,#ff6e18 180px,#ff6817 184px,#ff6316 188px,#ff5e15 192px,#ff5914 196px,#ff5412 200px)"></div><div style="top:122px;left:3px;width:205px;height:2px;background:linear-gradient(90deg,#00ffd9 0px,#00ffd8 4px,#00ffd7 8px,#00ffd7 12px,#00ffd6 16px,#00ffd5 20px,#00ffd5 24px,#00ffd4 28px,#00ffd3 32px,#00ffd2 36px,#00ffd1 40px,#00ffd0 44px,#00ffcf 48px,#00ffce 52px,#00ffcd 56px,#00ffcc 60px,#00ffcb 64px,#00ffca 68px,#00ffc8 72px,#00ffc7 76px,#04ffc5 80px,#3fffc4 84px,#60ffc2 88px,#7bffc1 92px,#92ffbf 96px,#a8ffbd 100px,#bdffbb 104px,#d1ffb9 108px,#e4ffb6 112px,#f7ffb4 116px,#fff5ab 120px,#ffe59f 124px,#ffd693 128px,#ffc989 132px,#ffbe7f 136px,#ffb375 140px,#ffaa6c 144px,#ffa163 148px,#ff985a 152px,#ff9151 156px,#ff8949 160px,#ff833f 164px,#ff7c36 168px,#ff762b 172px,#ff701b 176px,#ff6a17 180px,#ff6516 184px,#ff5f15 188px,#ff5a14 192px,#ff5513 196px,#ff5012 200px,#ff4b11 204px)"></div><div style="top:124px;left:3px;width:207px;height:2px;background:linear-gradient(90deg,#00ffdc 0px,#00ffdb 4px,#00ffdb 8px,#00ffda 12px,#00ffd9 16px,#00ffd9 20px,#00ffd8 24px,#00ffd7 28px,#00ffd6 32px,#00ffd5 36px,#00ffd5 40px,#00ffd4 44px,#00ffd3 48px,#00ffd2 52px,#00ffd1 56px,#00ffd0 60px,#00ffcf 64px,#00ffce 68px,#00ffcc 72px,#00ffcb 76px,#15ffca 80px,#46ffc8 84px,#66ffc7 88px,#80ffc5 92px,#98ffc3 96px,#aeffc2 100px,#c3ffc0 104px,#d7ffbe 108px,#eaffbc 112px,#fdffb9 116px,#ffeead 120px,#ffdfa1 124px,#ffd195 128px,#ffc48b 132px,#ffb981 136px,#ffaf77 140px,#ffa56e 144px,#ff9c66 148px,#ff945d 152px,#ff8d55 156px,#ff854c 160px,#ff7f43 164px,#ff783a 168px,#ff7231 172px,#ff6c25 176px,#ff6617 180px,#ff6115 184px,#ff5c14 188px,#ff5613 192px,#ff5112 196px,#ff4c11 200px,#ff4810 204px)"></div><div style="top:126px;left:4px;width:209px;height:2px;background:linear-gradient(90deg,#00ffdf 0px,#00ffde 4px,#00ffde 8px,#00ffdd 12px,#00ffdc 16px,#00ffdc 20px,#00ffdb 24px,#00ffda 28px,#00ffda 32px,#00ffd9 36px,#00ffd8 40px,#00ffd7 44px,#00ffd6 48px,#00ffd5 52px,#00ffd5 56px,#00ffd4 60px,#00ffd3 64px,#00ffd1 68px,#00ffd0 72px,#00ffcf 76px,#2fffce 80px,#55ffcc 84px,#73ffcb 88px,#8cffca 92px,#a3ffc8 96px,#b9ffc6 100px,#ceffc4 104px,#e2ffc3 108px,#f6ffc0 112px,#fff5b8 116px,#ffe4ab 120px,#ffd5a0 124px,#ffc895 128px,#ffbc8a 132px,#ffb181 136px,#ffa877 140px,#ff9e6f 144px,#ff9666 148px,#ff8e5e 152px,#ff8756 156px,#ff804d 160px,#ff7945 164px,#ff733c 168px,#ff6d33 172px,#ff6729 176px,#ff611c 180px,#ff5c14 184px,#ff5613 188px,#ff5112 192px,#ff4c11 196px,#ff4710 200px,#ff420f 204px,#ff3d0e 208px)"></div><div style="top:128px;left:4px;width:211px;height:2px;background:linear-gradient(90deg,#00ffe2 0px,#00ffe1 4px,#00ffe1 8px,#00ffe0 12px,#00ffe0 16px,#00ffdf 20px,#00ffde 24px,#00ffde 28px,#00ffdd 32px,#00ffdc 36px,#00ffdc 40px,#00ffdb 44px,#00ffda 48px,#00ffd9 52px,#00ffd9 56px,#00ffd8 60px,#00ffd7 64px,#00ffd6 68px,#00ffd5 72px,#00ffd4 76px,#37ffd2 80px,#5cffd1 84px,#79ffd0 88px,#92ffcf 92px,#a9ffcd 96px,#bfffcb 100px,#d4ffca 104px,#e8ffc8 108px,#fdffc6 112px,#ffefba 116px,#ffdead 120px,#ffd0a1 124px,#ffc396 128px,#ffb78c 132px,#ffad83 136px,#ffa37a 140px,#ff9a71 144px,#ff9269 148px,#ff8a60 152px,#ff8258 156px,#ff7c50 160px,#ff7548 164px,#ff6f40 168px,#ff6938 172px,#ff632e 176px,#ff5d24 180px,#ff5815 184px,#ff5212 188px,#ff4d11 192px,#ff4810 196px,#ff430f 200px,#ff3e0e 204px,#ff390d 208px)"></div><div style="top:130px;left:4px;width:213px;height:2px;background:linear-gradient(90deg,#00ffe5 0px,#00ffe4 4px,#00ffe4 8px,#00ffe3 12px,#00ffe3 16px,#00ffe2 20px,#00ffe2 24px,#00ffe1 28px,#00ffe1 32px,#00ffe0 36px,#00ffdf 40px,#00ffdf 44px,#00ffde 48px,#00ffdd 52px,#00ffdd 56px,#00ffdc 60px,#00ffdb 64px,#00ffda 68px,#00ffd9 72px,#00ffd8 76px,#3fffd7 80px,#62ffd6 84px,#7fffd5 88px,#98ffd4 92px,#afffd2 96px,#c5ffd1 100px,#daffcf 104px,#efffce 108px,#fffac9 112px,#ffe8bb 116px,#ffd8af 120px,#ffcaa3 124px,#ffbd98 128px,#ffb28e 132px,#ffa885 136px,#ff9e7c 140px,#ff9573 144px,#ff8d6b 148px,#ff8563 152px,#ff7e5b 156px,#ff7753 160px,#ff714b 164px,#ff6b44 168px,#ff653b 172px,#ff5f33 176px,#ff592a 180px,#ff541f 184px,#ff4e11 188px,#ff4910 192px,#ff440f 196px,#ff3f0e 200px,#ff3a0d 204px,#ff350c 208px,#ff300a 212px)"></div><div style="top:132px;left:5px;width:215px;height:2px;background:linear-gradient(90deg,#00ffe8 0px,#00ffe8 4px,#00ffe7 8px,#00ffe7 12px,#00ffe6 16px,#00ffe6 20px,#00ffe5 24px,#00ffe5 28px,#00ffe4 32px,#00ffe4 36px,#00ffe3 40px,#00ffe3 44px,#00ffe2 48px,#00ffe1 52px,#00ffe1 56px,#00ffe0 60px,#00ffdf 64px,#00ffde 68px,#00ffde 72px,#22ffdd 76px,#50ffdc 80px,#70ffdb 84px,#8bffda 88px,#a4ffd9 92px,#bbffd7 96px,#d1ffd6 100px,#e6ffd5 104px,#fcffd3 108px,#ffefc7 112px,#ffdeb9 116px,#ffcfad 120px,#ffc1a2 124px,#ffb597 128px,#ffaa8e 132px,#ffa084 136px,#ff977c 140px,#ff8f73 144px,#ff876b 148px,#ff7f63 152px,#ff785c 156px,#ff7254 160px,#ff6b4c 164px,#ff6545 168px,#ff5f3d 172px,#ff5935 176px,#ff542c 180px,#ff4e22 184px,#ff4915 188px,#ff440f 192px,#ff3f0e 196px,#ff390d 200px,#ff340b 204px,#ff2f0a 208px,#ff2909 212px)"></div><div style="top:134px;left:5px;width:217px;height:2px;background:linear-gradient(90deg,#00ffeb 0px,#00ffeb 4px,#00ffeb 8px,#00ffea 12px,#00ffea 16px,#00ffe9 20px,#00ffe9 24px,#00ffe9 28px,#00ffe8 32px,#00ffe8 36px,#00ffe7 40px,#00ffe7 44px,#00ffe6 48px,#00ffe6 52px,#00ffe5 56px,#00ffe4 60px,#00ffe4 64px,#00ffe3 68px,#00ffe2 72px,#2cffe2 76px,#57ffe1 80px,#76ffe0 84px,#91ffdf 88px,#aaffde 92px,#c1ffdd 96px,#d8ffdc 100px,#eeffdb 104px,#fffbd7 108px,#ffe8c8 112px,#ffd7bb 116px,#ffc9af 120px,#ffbca3 124px,#ffb099 128px,#ffa58f 132px,#ff9c86 136px,#ff937e 140px,#ff8a75 144px,#ff826d 148px,#ff7b65 152px,#ff745e 156px,#ff6d56 160px,#ff674f 164px,#ff6148 168px,#ff5b40 172px,#ff5538 176px,#ff5030 180px,#ff4a27 184px,#ff451d 188px,#ff3f0f 192px,#ff3a0d 196px,#ff350c 200px,#ff2f0a 204px,#ff2a09 208px,#ff2408 212px,#ff1e07 216px)"></div><div style="top:136px;left:6px;width:218px;height:2px;background:linear-gradient(90deg,#00ffef 0px,#00ffee 4px,#00ffee 8px,#00ffee 12px,#00ffed 16px,#00ffed 20px,#00ffed 24px,#00ffec 28px,#00ffec 32px,#00ffec 36px,#00ffeb 40px,#00ffeb 44px,#00ffea 48px,#00ffea 52px,#00ffe9 56px,#00ffe9 60px,#00ffe8 64px,#00ffe8 68px,#00ffe7 72px,#41ffe6 76px,#66ffe6 80px,#84ffe5 84px,#9effe4 88px,#b7ffe3 92px,#ceffe2 96px,#e4ffe2 100px,#faffe0 104px,#ffefd4 108px,#ffddc6 112px,#ffcdb9 116px,#ffc0ad 120px,#ffb3a2 124px,#ffa898 128px,#ff9e8f 132px,#ff9486 136px,#ff8c7d 140px,#ff8475 144px,#ff7c6d 148px,#ff7566 152px,#ff6e5e 156px,#ff6757 160px,#ff6150 164px,#ff5b49 168px,#ff5541 172px,#ff4f3a 176px,#ff4a32 180px,#ff442a 184px,#ff3f20 188px,#ff3915 192px,#ff340b 196px,#ff2e0a 200px,#ff2909 204px,#ff2308 208px,#ff1d06 212px,#ff1605 216px)"></div><div style="top:138px;left:6px;width:221px;height:2px;background:linear-gradient(90deg,#00fff2 0px,#00fff2 4px,#00fff2 8px,#00fff1 12px,#00fff1 16px,#00fff1 20px,#00fff1 24px,#00fff0 28px,#00fff0 32px,#00fff0 36px,#00ffef 40px,#00ffef 44px,#00ffef 48px,#00ffee 52px,#00ffee 56px,#00ffed 60px,#00ffed 64px,#00ffed 68px,#0cffec 72px,#49ffec 76px,#6dffeb 80px,#8affea 84px,#a5ffea 88px,#bdffe9 92px,#d5ffe8 96px,#ecffe8 100px,#fffce5 104px,#ffe8d5 108px,#ffd6c7 112px,#ffc7ba 116px,#ffbaaf 120px,#ffaea4 124px,#ffa39a 128px,#ff9990 132px,#ff9088 136px,#ff877f 140px,#ff7f77 144px,#ff776f 148px,#ff7068 152px,#ff6960 156px,#ff6359 160px,#ff5d52 164px,#ff574b 168px,#ff5144 172px,#ff4b3d 176px,#ff4535 180px,#ff402d 184px,#ff3a25 188px,#ff351b 192px,#ff2f0e 196px,#ff2909 200px,#ff2308 204px,#ff1d06 208px,#ff1605 212px,#ff0d03 216px,#ff0200 220px)"></div><div style="top:140px;left:7px;width:222px;height:2px;background:linear-gradient(90deg,#00fff6 0px,#00fff5 4px,#00fff5 8px,#00fff5 12px,#00fff5 16px,#00fff5 20px,#00fff5 24px,#00fff4 28px,#00fff4 32px,#00fff4 36px,#00fff4 40px,#00fff3 44px,#00fff3 48px,#00fff3 52px,#00fff3 56px,#00fff2 60px,#00fff2 64px,#00fff2 68px,#2dfff1 72px,#5afff1 76px,#7bfff0 80px,#98fff0 84px,#b2fff0 88px,#caffef 92px,#e2ffef 96px,#f9ffee 100px,#ffefe1 104px,#ffdcd2 108px,#ffccc5 112px,#ffbeb9 116px,#ffb1ad 120px,#ffa6a3 124px,#ff9b99 128px,#ff9190 132px,#ff8987 136px,#ff807f 140px,#ff7877 144px,#ff716f 148px,#ff6a68 152px,#ff6361 156px,#ff5d5a 160px,#ff5753 164px,#ff514c 168px,#ff4b45 172px,#ff453e 176px,#ff3f36 180px,#ff3a2f 184px,#ff3427 188px,#ff2e1e 192px,#ff2813 196px,#ff2207 200px,#ff1b06 204px,#ff1404 208px,#ff0b02 212px,#ff0000 216px,#ff0000 220px)"></div><div style="top:142px;left:7px;width:225px;height:2px;background:linear-gradient(90deg,#00fff9 0px,#00fff9 4px,#00fff9 8px,#00fff9 12px,#00fff9 16px,#00fff9 20px,#00fff9 24px,#00fff8 28px,#00fff8 32px,#00fff8 36px,#00fff8 40px,#00fff8 44px,#00fff8 48px,#00fff8 52px,#00fff7 56px,#00fff7 60px,#00fff7 64px,#00fff7 68px,#37fff7 72px,#61fff7 76px,#82fff6 80px,#9ffff6 84px,#b9fff6 88px,#d2fff5 92px,#eafff5 96px,#fffdf3 100px,#ffe7e2 104px,#ffd5d3 108px,#ffc6c6 112px,#ffb8ba 116px,#ffabaf 120px,#ffa0a4 124px,#ff969a 128px,#ff8c91 132px,#ff8489 136px,#ff7b81 140px,#ff7479 144px,#ff6c71 148px,#ff656a 152px,#ff5f63 156px,#ff585c 160px,#ff5255 164px,#ff4c4e 168px,#ff4647 172px,#ff4040 176px,#ff3a39 180px,#ff3432 184px,#ff2e2a 188px,#ff2822 192px,#ff2219 196px,#ff1b0d 200px,#ff1404 204px,#ff0a02 208px,#ff0000 212px,#ff0000 216px,#ff0000 220px,#ff0000 224px)"></div><div style="top:144px;left:7px;width:227px;height:2px;background:linear-gradient(90deg,#00fffd 0px,#00fffd 4px,#00fffd 8px,#00fffd 12px,#00fffd 16px,#00fffd 20px,#00fffd 24px,#00fffd 28px,#00fffd 32px,#00fffd 36px,#00fffd 40px,#00fffd 44px,#00fffd 48px,#00fffd 52px,#00fffd 56px,#00fffd 60px,#00fffc 64px,#00fffc 68px,#40fffc 72px,#69fffc 76px,#89fffc 80px,#a6fffc 84px,#c0fffc 88px,#d9fffc 92px,#f2fffc 96px,#fff4f4 100px,#ffe0e3 104px,#ffced4 108px,#ffbfc7 112px,#ffb2bb 116px,#ffa6b0 120px,#ff9ba6 124px,#ff919c 128px,#ff8793 132px,#ff7f8a 136px,#ff7782 140px,#ff6f7a 144px,#ff6873 148px,#ff616c 152px,#ff5a64 156px,#ff545e 160px,#ff4d57 164px,#ff4750 168px,#ff4149 172px,#ff3b43 176px,#ff353c 180px,#ff2f35 184px,#ff292d 188px,#ff2226 192px,#ff1b1d 196px,#ff1313 200px,#ff0a05 204px,#ff0000 208px,#ff0000 212px,#ff0000 216px,#ff0000 220px,#ff0000 224px)"></div><div style="top:146px;left:8px;width:228px;height:2px;background:linear-gradient(90deg,#00fdff 0px,#00fdff 4px,#00fdff 8px,#00fcff 12px,#00fcff 16px,#00fcff 20px,#00fcff 24px,#00fcff 28px,#00fcff 32px,#00fcff 36px,#00fcff 40px,#00fcff 44px,#00fcff 48px,#00fcff 52px,#00fbff 56px,#00fbff 60px,#00fbff 64px,#1cfbff 68px,#52fbff 72px,#76fbff 76px,#95faff 80px,#b0faff 84px,#cafaff 88px,#e3faff 92px,#fbfaff 96px,#ffe7f0 100px,#ffd4e0 104px,#ffc4d2 108px,#ffb5c5 112px,#ffa9b9 116px,#ff9dae 120px,#ff93a4 124px,#ff899b 128px,#ff8092 132px,#ff788a 136px,#ff7082 140px,#ff687a 144px,#ff6173 148px,#ff5a6b 152px,#ff5465 156px,#ff4d5e 160px,#ff4757 164px,#ff4150 168px,#ff3a4a 172px,#ff3443 176px,#ff2e3c 180px,#ff2835 184px,#ff212e 188px,#ff1927 192px,#ff111e 196px,#ff0614 200px,#ff0009 204px,#ff0000 208px,#ff0000 212px,#ff0000 216px,#ff0000 220px,#ff0000 224px)"></div><div style="top:148px;left:8px;width:231px;height:2px;background:linear-gradient(90deg,#00f8ff 0px,#00f8ff 4px,#00f8ff 8px,#00f7ff 12px,#00f7ff 16px,#00f7ff 20px,#00f7ff 24px,#00f7ff 28px,#00f6ff 32px,#00f6ff 36px,#00f6ff 40px,#00f6ff 44px,#00f5ff 48px,#00f5ff 52px,#00f5ff 56px,#00f4ff 60px,#00f4ff 64px,#28f4ff 68px,#58f3ff 72px,#7af3ff 76px,#97f3ff 80px,#b2f2ff 84px,#cbf2ff 88px,#e3f1ff 92px,#fbf1ff 96px,#ffdff1 100px,#ffcde1 104px,#ffbdd3 108px,#ffafc6 112px,#ffa3ba 116px,#ff97b0 120px,#ff8da6 124px,#ff849c 128px,#ff7b93 132px,#ff728b 136px,#ff6b83 140px,#ff637c 144px,#ff5c74 148px,#ff556d 152px,#ff4f66 156px,#ff485f 160px,#ff4259 164px,#ff3b52 168px,#ff354c 172px,#ff2f45 176px,#ff283e 180px,#ff2138 184px,#ff1930 188px,#ff1129 192px,#ff0520 196px,#ff0018 200px,#ff0010 204px,#ff0006 208px,#ff0000 212px,#ff0000 216px,#ff0000 220px,#ff0000 224px,#ff0000 228px)"></div><div style="top:150px;left:9px;width:232px;height:2px;background:linear-gradient(90deg,#00f3ff 0px,#00f3ff 4px,#00f2ff 8px,#00f2ff 12px,#00f2ff 16px,#00f2ff 20px,#00f1ff 24px,#00f1ff 28px,#00f1ff 32px,#00f0ff 36px,#00f0ff 40px,#00efff 44px,#00efff 48px,#00efff 52px,#00eeff 56px,#00eeff 60px,#00edff 64px,#3eecff 68px,#65ecff 72px,#84ebff 76px,#a0ebff 80px,#b9eaff 84px,#d1e9ff 88px,#e9e8ff 92px,#ffe7fe 96px,#ffd3ed 100px,#ffc2de 104px,#ffb3d1 108px,#ffa6c4 112px,#ff9ab9 116px,#ff8fae 120px,#ff85a5 124px,#ff7c9b 128px,#ff7393 132px,#ff6b8a 136px,#ff6483 140px,#ff5c7b 144px,#ff5574 148px,#ff4e6d 152px,#ff4866 156px,#ff415f 160px,#ff3b59 164px,#ff3452 168px,#ff2d4c 172px,#ff2745 176px,#ff1f3f 180px,#ff1738 184px,#ff0e30 188px,#ff0128 192px,#ff0022 196px,#ff001b 200px,#ff0014 204px,#ff000b 208px,#ff0000 212px,#ff0000 216px,#ff0000 220px,#ff0000 224px,#ff0000 228px)"></div><div style="top:152px;left:9px;width:234px;height:2px;background:linear-gradient(90deg,#00eeff 0px,#00eeff 4px,#00edff 8px,#00edff 12px,#00edff 16px,#00ecff 20px,#00ecff 24px,#00ebff 28px,#00ebff 32px,#00eaff 36px,#00eaff 40px,#00e9ff 44px,#00e9ff 48px,#00e8ff 52px,#00e8ff 56px,#00e7ff 60px,#00e6ff 64px,#44e5ff 68px,#69e5ff 72px,#87e4ff 76px,#a2e3ff 80px,#bae2ff 84px,#d2e1ff 88px,#e9e0ff 92px,#ffdfff 96px,#ffcbee 100px,#ffbbdf 104px,#ffacd1 108px,#ffa0c5 112px,#ff94ba 116px,#ff89af 120px,#ff80a6 124px,#ff779d 128px,#ff6e94 132px,#ff668c 136px,#ff5e84 140px,#ff577d 144px,#ff5075 148px,#ff496e 152px,#ff4268 156px,#ff3c61 160px,#ff355a 164px,#ff2e54 168px,#ff274d 172px,#ff2047 176px,#ff1740 180px,#ff0e39 184px,#ff0031 188px,#ff002c 192px,#ff0026 196px,#ff0020 200px,#ff0019 204px,#ff0012 208px,#ff0008 212px,#ff0000 216px,#ff0000 220px,#ff0000 224px,#ff0000 228px,#ff0000 232px)"></div><div style="top:154px;left:10px;width:236px;height:2px;background:linear-gradient(90deg,#00e9ff 0px,#00e9ff 4px,#00e8ff 8px,#00e8ff 12px,#00e7ff 16px,#00e7ff 20px,#00e6ff 24px,#00e6ff 28px,#00e5ff 32px,#00e5ff 36px,#00e4ff 40px,#00e3ff 44px,#00e2ff 48px,#00e2ff 52px,#00e1ff 56px,#00e0ff 60px,#25dfff 64px,#53deff 68px,#74ddff 72px,#90dcff 76px,#a9dbff 80px,#c1daff 84px,#d8d9ff 88px,#eed7ff 92px,#ffd2fb 96px,#ffc0eb 100px,#ffb0dc 104px,#ffa3cf 108px,#ff96c3 112px,#ff8bb8 116px,#ff81ae 120px,#ff78a5 124px,#ff6f9c 128px,#ff6793 132px,#ff5f8b 136px,#ff5783 140px,#ff507c 144px,#ff4975 148px,#ff426e 152px,#ff3b67 156px,#ff3461 160px,#ff2d5a 164px,#ff2654 168px,#ff1e4d 172px,#ff1546 176px,#ff0a3f 180px,#ff0038 184px,#ff0033 188px,#ff002d 192px,#ff0028 196px,#ff0022 200px,#ff001c 204px,#ff0015 208px,#ff000d 212px,#ff0002 216px,#ff0000 220px,#ff0000 224px,#ff0000 228px,#ff0000 232px)"></div><div style="top:156px;left:10px;width:238px;height:2px;background:linear-gradient(90deg,#00e5ff 0px,#00e4ff 4px,#00e4ff 8px,#00e3ff 12px,#00e2ff 16px,#00e2ff 20px,#00e1ff 24px,#00e0ff 28px,#00e0ff 32px,#00dfff 36px,#00deff 40px,#00ddff 44px,#00dcff 48px,#00dbff 52px,#00dbff 56px,#00d9ff 60px,#2ed8ff 64px,#58d7ff 68px,#77d6ff 72px,#92d5ff 76px,#abd3ff 80px,#c2d2ff 84px,#d8d0ff 88px,#eecfff 92px,#ffcafc 96px,#ffb8eb 100px,#ffa9dd 104px,#ff9cd0 108px,#ff90c4 112px,#ff85b9 116px,#ff7baf 120px,#ff72a6 124px,#ff699d 128px,#ff6194 132px,#ff598c 136px,#ff5185 140px,#ff4a7d 144px,#ff4376 148px,#ff3c6f 152px,#ff3569 156px,#ff2d62 160px,#ff265b 164px,#ff1e55 168px,#ff154e 172px,#ff0a47 176px,#ff0040 180px,#ff003b 184px,#ff0036 188px,#ff0031 192px,#ff002b 196px,#ff0026 200px,#ff0020 204px,#ff001a 208px,#ff0013 212px,#ff000a 216px,#ff0000 220px,#ff0000 224px,#ff0000 228px,#ff0000 232px,#ff0000 236px)"></div><div style="top:158px;left:11px;width:239px;height:2px;background:linear-gradient(90deg,#00e0ff 0px,#00dfff 4px,#00dfff 8px,#00deff 12px,#00ddff 16px,#00dcff 20px,#00dcff 24px,#00dbff 28px,#00daff 32px,#00d9ff 36px,#00d8ff 40px,#00d7ff 44px,#00d6ff 48px,#00d5ff 52px,#00d4ff 56px,#00d3ff 60px,#41d1ff 64px,#64d0ff 68px,#81cfff 72px,#9bcdff 76px,#b2ccff 80px,#c8caff 84px,#dec8ff 88px,#f3c6ff 92px,#ffbdf8 96px,#ffade8 100px,#ff9fdb 104px,#ff93ce 108px,#ff87c2 112px,#ff7db8 116px,#ff73ae 120px,#ff6aa5 124px,#ff619c 128px,#ff5993 132px,#ff518c 136px,#ff4a84 140px,#ff427d 144px,#ff3b76 148px,#ff346f 152px,#ff2c68 156px,#ff2462 160px,#ff1c5b 164px,#ff1254 168px,#ff054d 172px,#ff0047 176px,#ff0042 180px,#ff003d 184px,#ff0037 188px,#ff0032 192px,#ff002d 196px,#ff0028 200px,#ff0022 204px,#ff001c 208px,#ff0016 212px,#ff000e 216px,#ff0005 220px,#ff0000 224px,#ff0000 228px,#ff0000 232px,#ff0000 236px)"></div><div style="top:160px;left:11px;width:242px;height:2px;background:linear-gradient(90deg,#00dbff 0px,#00daff 4px,#00daff 8px,#00d9ff 12px,#00d8ff 16px,#00d7ff 20px,#00d6ff 24px,#00d5ff 28px,#00d4ff 32px,#00d3ff 36px,#00d2ff 40px,#00d1ff 44px,#00d0ff 48px,#01cfff 52px,#01ceff 56px,#10ccff 60px,#47cbff 64px,#68c9ff 68px,#84c8ff 72px,#9cc6ff 76px,#b3c4ff 80px,#c9c2ff 84px,#dec0ff 88px,#f3beff 92px,#ffb6f8 96px,#ffa6e9 100px,#ff98db 104px,#ff8ccf 108px,#ff81c3 112px,#ff76b9 116px,#ff6daf 120px,#ff64a6 124px,#ff5b9d 128px,#ff5395 132px,#ff4b8d 136px,#ff4485 140px,#ff3c7e 144px,#ff3577 148px,#ff2d70 152px,#ff2569 156px,#ff1c63 160px,#ff125c 164px,#ff0554 168px,#ff004e 172px,#ff0049 176px,#ff0044 180px,#ff003f 184px,#ff003a 188px,#ff0035 192px,#ff0030 196px,#ff002b 200px,#ff0026 204px,#ff0020 208px,#ff001a 212px,#ff0014 216px,#ff000c 220px,#ff0001 224px,#ff0000 228px,#ff0000 232px,#ff0000 236px,#ff0000 240px)"></div><div style="top:162px;left:12px;width:243px;height:2px;background:linear-gradient(90deg,#00d6ff 0px,#00d6ff 4px,#00d5ff 8px,#00d4ff 12px,#00d3ff 16px,#00d2ff 20px,#00d1ff 24px,#00d0ff 28px,#01cfff 32px,#01ceff 36px,#01ccff 40px,#01cbff 44px,#01caff 48px,#01c8ff 52px,#01c7ff 56px,#2cc5ff 60px,#55c4ff 64px,#73c2ff 68px,#8dc0ff 72px,#a4beff 76px,#babcff 80px,#cfbaff 84px,#e3b8ff 88px,#f7b5ff 92px,#ffaaf5 96px,#ff9be6 100px,#ff8ed9 104px,#ff83cd 108px,#ff78c1 112px,#ff6eb7 116px,#ff64ad 120px,#ff5ca4 124px,#ff539c 128px,#ff4b94 132px,#ff438c 136px,#ff3b84 140px,#ff337d 144px,#ff2b76 148px,#ff236f 152px,#ff1a68 156px,#ff0f61 160px,#ff005a 164px,#ff0055 168px,#ff004f 172px,#ff004a 176px,#ff0045 180px,#ff0041 184px,#ff003c 188px,#ff0037 192px,#ff0032 196px,#ff002d 200px,#ff0028 204px,#ff0022 208px,#ff001d 212px,#ff0017 216px,#ff0010 220px,#ff0007 224px,#ff0000 228px,#ff0000 232px,#ff0000 236px,#ff0000 240px)"></div><div style="top:164px;left:12px;width:243px;height:2px;background:linear-gradient(90deg,#00d2ff 0px,#00d1ff 4px,#00d0ff 8px,#01cfff 12px,#01ceff 16px,#01cdff 20px,#01ccff 24px,#01cbff 28px,#01c9ff 32px,#01c8ff 36px,#01c7ff 40px,#01c5ff 44px,#01c4ff 48px,#01c2ff 52px,#01c1ff 56px,#34bfff 60px,#59bdff 64px,#76bbff 68px,#8fb9ff 72px,#a6b7ff 76px,#bbb5ff 80px,#d0b2ff 84px,#e4b0ff 88px,#f7adff 92px,#ffa2f6 96px,#ff94e7 100px,#ff87da 104px,#ff7ccd 108px,#ff71c2 112px,#ff67b8 116px,#ff5eae 120px,#ff55a5 124px,#ff4d9d 128px,#ff4595 132px,#ff3c8d 136px,#ff3485 140px,#ff2c7e 144px,#ff2377 148px,#ff1a70 152px,#ff0f69 156px,#ff0061 160px,#ff005c 164px,#ff0057 168px,#ff0052 172px,#ff004d 176px,#ff0048 180px,#ff0043 184px,#ff003e 188px,#ff0039 192px,#ff0035 196px,#ff0030 200px,#ff002b 204px,#ff0026 208px,#ff0020 212px,#ff001b 216px,#ff0014 220px,#ff000d 224px,#ff0004 228px,#ff0000 232px,#ff0000 236px,#ff0000 240px)"></div><div style="top:166px;left:13px;width:239px;height:2px;background:linear-gradient(90deg,#01cdff 0px,#01ccff 4px,#01cbff 8px,#01caff 12px,#01c9ff 16px,#01c8ff 20px,#01c6ff 24px,#01c5ff 28px,#01c4ff 32px,#01c2ff 36px,#01c1ff 40px,#01bfff 44px,#01beff 48px,#01bcff 52px,#0fbaff 56px,#44b8ff 60px,#65b6ff 64px,#7fb4ff 68px,#97b2ff 72px,#adafff 76px,#c1adff 80px,#d5aaff 84px,#e8a7ff 88px,#fba4ff 92px,#ff97f2 96px,#ff8ae4 100px,#ff7ed7 104px,#ff72cb 108px,#ff68c1 112px,#ff5eb6 116px,#ff55ad 120px,#ff4da4 124px,#ff449c 128px,#ff3c94 132px,#ff338c 136px,#ff2a84 140px,#ff217d 144px,#ff1776 148px,#ff0b6f 152px,#ff0068 156px,#ff0062 160px,#ff005d 164px,#ff0058 168px,#ff0053 172px,#ff004e 176px,#ff0049 180px,#ff0044 184px,#ff003f 188px,#ff003b 192px,#ff0036 196px,#ff0031 200px,#ff002c 204px,#ff0028 208px,#ff0022 212px,#ff001d 216px,#ff0017 220px,#ff0011 224px,#ff0009 228px,#ff0000 232px,#ff0000 236px)"></div><div style="top:168px;left:14px;width:233px;height:2px;background:linear-gradient(90deg,#01c8ff 0px,#01c7ff 4px,#01c6ff 8px,#01c5ff 12px,#01c3ff 16px,#01c2ff 20px,#01c1ff 24px,#01bfff 28px,#01beff 32px,#01bcff 36px,#01bbff 40px,#02b9ff 44px,#02b7ff 48px,#02b5ff 52px,#2bb3ff 56px,#52b1ff 60px,#6fafff 64px,#88adff 68px,#9eaaff 72px,#b3a8ff 76px,#c7a5ff 80px,#daa2ff 84px,#ed9eff 88px,#ff9bfe 92px,#ff8cef 96px,#ff7fe1 100px,#ff74d5 104px,#ff69c9 108px,#ff5fbf 112px,#ff55b5 116px,#ff4cac 120px,#ff43a3 124px,#ff3b9b 128px,#ff3293 132px,#ff298b 136px,#ff1f83 140px,#ff147c 144px,#ff0574 148px,#ff006e 152px,#ff0068 156px,#ff0063 160px,#ff005e 164px,#ff0058 168px,#ff0054 172px,#ff004f 176px,#ff004a 180px,#ff0045 184px,#ff0041 188px,#ff003c 192px,#ff0037 196px,#ff0033 200px,#ff002e 204px,#ff0029 208px,#ff0024 212px,#ff001f 216px,#ff001a 220px,#ff0014 224px,#ff000d 228px,#ff0003 232px)"></div><div style="top:170px;left:14px;width:228px;height:2px;background:linear-gradient(90deg,#01c4ff 0px,#01c2ff 4px,#01c1ff 8px,#01c0ff 12px,#01bfff 16px,#01bdff 20px,#01bcff 24px,#02baff 28px,#02b9ff 32px,#02b7ff 36px,#02b5ff 40px,#02b3ff 44px,#02b1ff 48px,#02afff 52px,#32adff 56px,#56abff 60px,#72a8ff 64px,#8aa6ff 68px,#a0a3ff 72px,#b4a0ff 76px,#c89dff 80px,#db9aff 84px,#ed96ff 88px,#ff93ff 92px,#ff85f0 96px,#ff78e2 100px,#ff6cd6 104px,#ff62ca 108px,#ff58c0 112px,#ff4eb6 116px,#ff45ac 120px,#ff3ca4 124px,#ff339b 128px,#ff2993 132px,#ff1f8c 136px,#ff1484 140px,#ff047c 144px,#ff0075 148px,#ff0070 152px,#ff006a 156px,#ff0065 160px,#ff005f 164px,#ff005a 168px,#ff0056 172px,#ff0051 176px,#ff004c 180px,#ff0048 184px,#ff0043 188px,#ff003e 192px,#ff003a 196px,#ff0035 200px,#ff0031 204px,#ff002c 208px,#ff0027 212px,#ff0023 216px,#ff001d 220px,#ff0018 224px)"></div><div style="top:172px;left:15px;width:221px;height:2px;background:linear-gradient(90deg,#01bfff 0px,#01bdff 4px,#01bcff 8px,#01bbff 12px,#02b9ff 16px,#02b8ff 20px,#02b6ff 24px,#02b4ff 28px,#02b3ff 32px,#02b1ff 36px,#02afff 40px,#03adff 44px,#03abff 48px,#0ea9ff 52px,#43a6ff 56px,#62a4ff 60px,#7ba1ff 64px,#929eff 68px,#a79bff 72px,#ba98ff 76px,#cd95ff 80px,#e091ff 84px,#f18dff 88px,#ff87fb 92px,#ff7aed 96px,#ff6ddf 100px,#ff62d3 104px,#ff58c8 108px,#ff4ebe 112px,#ff44b4 116px,#ff3bab 120px,#ff31a2 124px,#ff289a 128px,#ff1d92 132px,#ff118a 136px,#ff0082 140px,#ff007c 144px,#ff0076 148px,#ff0070 152px,#ff006a 156px,#ff0065 160px,#ff0060 164px,#ff005b 168px,#ff0056 172px,#ff0052 176px,#ff004d 180px,#ff0049 184px,#ff0044 188px,#ff0040 192px,#ff003b 196px,#ff0037 200px,#ff0032 204px,#ff002e 208px,#ff0029 212px,#ff0024 216px,#ff001f 220px)"></div><div style="top:174px;left:15px;width:216px;height:2px;background:linear-gradient(90deg,#02baff 0px,#02b9ff 4px,#02b7ff 8px,#02b6ff 12px,#02b4ff 16px,#02b3ff 20px,#02b1ff 24px,#02afff 28px,#03adff 32px,#03abff 36px,#03a9ff 40px,#03a7ff 44px,#03a5ff 48px,#1ca3ff 52px,#48a0ff 56px,#659dff 60px,#7e9bff 64px,#9498ff 68px,#a894ff 72px,#bc91ff 76px,#ce8dff 80px,#e089ff 84px,#f185ff 88px,#ff7ffc 92px,#ff72ed 96px,#ff66e0 100px,#ff5bd4 104px,#ff50c9 108px,#ff46bf 112px,#ff3cb5 116px,#ff32ac 120px,#ff28a3 124px,#ff1d9b 128px,#ff1092 132px,#ff008a 136px,#ff0083 140px,#ff007d 144px,#ff0077 148px,#ff0072 152px,#ff006c 156px,#ff0067 160px,#ff0062 164px,#ff005d 168px,#ff0058 172px,#ff0054 176px,#ff004f 180px,#ff004b 184px,#ff0046 188px,#ff0042 192px,#ff003e 196px,#ff0039 200px,#ff0035 204px,#ff0030 208px,#ff002c 212px)"></div><div style="top:176px;left:16px;width:210px;height:2px;background:linear-gradient(90deg,#02b5ff 0px,#02b4ff 4px,#02b2ff 8px,#02b1ff 12px,#02afff 16px,#03adff 20px,#03abff 24px,#03aaff 28px,#03a8ff 32px,#03a5ff 36px,#04a3ff 40px,#04a1ff 44px,#049eff 48px,#329cff 52px,#5599ff 56px,#6f96ff 60px,#8693ff 64px,#9b90ff 68px,#af8cff 72px,#c189ff 76px,#d385ff 80px,#e580ff 84px,#f57cff 88px,#ff73f9 92px,#ff67ea 96px,#ff5bde 100px,#ff50d2 104px,#ff45c7 108px,#ff3bbd 112px,#ff31b3 116px,#ff26aa 120px,#ff1aa1 124px,#ff0c99 128px,#ff0090 132px,#ff008a 136px,#ff0083 140px,#ff007d 144px,#ff0078 148px,#ff0072 152px,#ff006d 156px,#ff0068 160px,#ff0063 164px,#ff005e 168px,#ff0059 172px,#ff0054 176px,#ff0050 180px,#ff004c 184px,#ff0047 188px,#ff0043 192px,#ff003f 196px,#ff003a 200px,#ff0036 204px,#ff0032 208px)"></div><div style="top:178px;left:17px;width:204px;height:2px;background:linear-gradient(90deg,#02b0ff 0px,#02afff 4px,#03adff 8px,#03abff 12px,#03aaff 16px,#03a8ff 20px,#03a6ff 24px,#04a4ff 28px,#04a2ff 32px,#049fff 36px,#049dff 40px,#059bff 44px,#0f98ff 48px,#4295ff 52px,#6092ff 56px,#788fff 60px,#8e8cff 64px,#a288ff 68px,#b584ff 72px,#c780ff 76px,#d87cff 80px,#e977ff 84px,#f972ff 88px,#ff67f5 92px,#ff5be8 96px,#ff50db 100px,#ff45d0 104px,#ff3ac5 108px,#ff2fbb 112px,#ff24b1 116px,#ff17a8 120px,#ff059f 124px,#ff0097 128px,#ff0090 132px,#ff008a 136px,#ff0083 140px,#ff007e 144px,#ff0078 148px,#ff0072 152px,#ff006d 156px,#ff0068 160px,#ff0063 164px,#ff005e 168px,#ff005a 172px,#ff0055 176px,#ff0051 180px,#ff004d 184px,#ff0048 188px,#ff0044 192px,#ff0040 196px,#ff003c 200px)"></div><div style="top:180px;left:17px;width:199px;height:2px;background:linear-gradient(90deg,#03acff 0px,#03aaff 4px,#03a8ff 8px,#03a7ff 12px,#03a5ff 16px,#04a3ff 20px,#04a1ff 24px,#049fff 28px,#049cff 32px,#059aff 36px,#0597ff 40px,#0695ff 44px,#1c92ff 48px,#478fff 52px,#648cff 56px,#7b88ff 60px,#9185ff 64px,#a481ff 68px,#b67dff 72px,#c879ff 76px,#d974ff 80px,#e96fff 84px,#f969ff 88px,#ff5ff6 92px,#ff52e8 96px,#ff47dc 100px,#ff3cd0 104px,#ff30c6 108px,#ff24bb 112px,#ff17b2 116px,#ff04a8 120px,#ff00a0 124px,#ff0099 128px,#ff0092 132px,#ff008b 136px,#ff0085 140px,#ff007f 144px,#ff0079 148px,#ff0074 152px,#ff006f 156px,#ff006a 160px,#ff0065 164px,#ff0060 168px,#ff005c 172px,#ff0057 176px,#ff0053 180px,#ff004e 184px,#ff004a 188px,#ff0046 192px,#ff0042 196px)"></div><div style="top:182px;left:18px;width:193px;height:2px;background:linear-gradient(90deg,#03a7ff 0px,#03a5ff 4px,#04a3ff 8px,#04a1ff 12px,#049fff 16px,#049dff 20px,#059bff 24px,#0599ff 28px,#0596ff 32px,#0694ff 36px,#0691ff 40px,#078eff 44px,#328bff 48px,#5488ff 52px,#6d84ff 56px,#8481ff 60px,#987dff 64px,#aa79ff 68px,#bc74ff 72px,#cd6fff 76px,#dd6aff 80px,#ed64ff 84px,#fd5eff 88px,#ff52f3 92px,#ff46e6 96px,#ff3ad9 100px,#ff2ece 104px,#ff22c3 108px,#ff13b9 112px,#ff00af 116px,#ff00a7 120px,#ff009f 124px,#ff0098 128px,#ff0092 132px,#ff008b 136px,#ff0085 140px,#ff007f 144px,#ff007a 148px,#ff0074 152px,#ff006f 156px,#ff006a 160px,#ff0065 164px,#ff0061 168px,#ff005c 172px,#ff0058 176px,#ff0054 180px,#ff004f 184px,#ff004b 188px,#ff0047 192px)"></div><div style="top:184px;left:19px;width:187px;height:2px;background:linear-gradient(90deg,#04a2ff 0px,#04a0ff 4px,#049eff 8px,#049cff 12px,#059aff 16px,#0598ff 20px,#0595ff 24px,#0693ff 28px,#0690ff 32px,#078dff 36px,#078aff 40px,#1087ff 44px,#4284ff 48px,#5f81ff 52px,#777dff 56px,#8b79ff 60px,#9f75ff 64px,#b170ff 68px,#c26bff 72px,#d266ff 76px,#e260ff 80px,#f15aff 84px,#ff52fe 88px,#ff45f0 92px,#ff39e3 96px,#ff2cd7 100px,#ff1fcc 104px,#ff0ec1 108px,#ff00b7 112px,#ff00ae 116px,#ff00a6 120px,#ff009f 124px,#ff0098 128px,#ff0091 132px,#ff008b 136px,#ff0085 140px,#ff007f 144px,#ff007a 148px,#ff0075 152px,#ff0070 156px,#ff006b 160px,#ff0066 164px,#ff0061 168px,#ff005d 172px,#ff0059 176px,#ff0054 180px,#ff0050 184px)"></div><div style="top:186px;left:19px;width:182px;height:2px;background:linear-gradient(90deg,#049dff 0px,#059bff 4px,#0599ff 8px,#0597ff 12px,#0695ff 16px,#0692ff 20px,#0690ff 24px,#078dff 28px,#078bff 32px,#0888ff 36px,#0885ff 40px,#1d81ff 44px,#477eff 48px,#637aff 52px,#7a76ff 56px,#8e72ff 60px,#a16dff 64px,#b269ff 68px,#c363ff 72px,#d35eff 76px,#e257ff 80px,#f150ff 84px,#ff48fe 88px,#ff3bf0 92px,#ff2de3 96px,#ff1fd7 100px,#ff0dcc 104px,#ff00c1 108px,#ff00b8 112px,#ff00b0 116px,#ff00a8 120px,#ff00a0 124px,#ff0099 128px,#ff0093 132px,#ff008c 136px,#ff0087 140px,#ff0081 144px,#ff007b 148px,#ff0076 152px,#ff0071 156px,#ff006c 160px,#ff0068 164px,#ff0063 168px,#ff005f 172px,#ff005a 176px,#ff0056 180px)"></div><div style="top:188px;left:20px;width:176px;height:2px;background:linear-gradient(90deg,#0598ff 0px,#0596ff 4px,#0694ff 8px,#0692ff 12px,#068fff 16px,#078dff 20px,#078aff 24px,#0887ff 28px,#0984ff 32px,#0981ff 36px,#0a7eff 40px,#337aff 44px,#5477ff 48px,#6d73ff 52px,#826eff 56px,#956aff 60px,#a765ff 64px,#b85fff 68px,#c859ff 72px,#d853ff 76px,#e74cff 80px,#f544ff 84px,#ff39fb 88px,#ff2bed 92px,#ff1be1 96px,#ff05d5 100px,#ff00ca 104px,#ff00c0 108px,#ff00b7 112px,#ff00af 116px,#ff00a7 120px,#ff00a0 124px,#ff0099 128px,#ff0092 132px,#ff008c 136px,#ff0086 140px,#ff0081 144px,#ff007c 148px,#ff0076 152px,#ff0071 156px,#ff006d 160px,#ff0068 164px,#ff0064 168px,#ff005f 172px)"></div><div style="top:190px;left:21px;width:170px;height:2px;background:linear-gradient(90deg,#0693ff 0px,#0691ff 4px,#078eff 8px,#078cff 12px,#0789ff 16px,#0887ff 20px,#0984ff 24px,#0981ff 28px,#0a7eff 32px,#0b7aff 36px,#1277ff 40px,#4373ff 44px,#5f6fff 48px,#766bff 52px,#8a66ff 56px,#9c61ff 60px,#ae5cff 64px,#be56ff 68px,#cd4fff 72px,#dc48ff 76px,#eb3fff 80px,#f835ff 84px,#ff28f8 88px,#ff17ea 92px,#ff00de 96px,#ff00d3 100px,#ff00c8 104px,#ff00bf 108px,#ff00b6 112px,#ff00ae 116px,#ff00a6 120px,#ff009f 124px,#ff0099 128px,#ff0092 132px,#ff008c 136px,#ff0086 140px,#ff0081 144px,#ff007c 148px,#ff0077 152px,#ff0072 156px,#ff006d 160px,#ff0068 164px,#ff0064 168px)"></div><div style="top:192px;left:22px;width:164px;height:2px;background:linear-gradient(90deg,#078eff 0px,#078bff 4px,#0889ff 8px,#0886ff 12px,#0984ff 16px,#0981ff 20px,#0a7eff 24px,#0b7aff 28px,#0c77ff 32px,#0d73ff 36px,#2d70ff 40px,#506cff 44px,#6967ff 48px,#7e62ff 52px,#915dff 56px,#a358ff 60px,#b452ff 64px,#c34bff 68px,#d243ff 72px,#e13bff 76px,#ee31ff 80px,#fb24ff 84px,#ff11f5 88px,#ff00e8 92px,#ff00dc 96px,#ff00d1 100px,#ff00c7 104px,#ff00be 108px,#ff00b5 112px,#ff00ad 116px,#ff00a6 120px,#ff009f 124px,#ff0098 128px,#ff0092 132px,#ff008c 136px,#ff0086 140px,#ff0081 144px,#ff007c 148px,#ff0077 152px,#ff0072 156px,#ff006d 160px)"></div><div style="top:194px;left:22px;width:159px;height:2px;background:linear-gradient(90deg,#0889ff 0px,#0887ff 4px,#0984ff 8px,#0981ff 12px,#0a7eff 16px,#0b7bff 20px,#0b78ff 24px,#0c75ff 28px,#0d71ff 32px,#0e6dff 36px,#3569ff 40px,#5565ff 44px,#6d60ff 48px,#825bff 52px,#9456ff 56px,#a650ff 60px,#b649ff 64px,#c541ff 68px,#d439ff 72px,#e22fff 76px,#ef22ff 80px,#fb10ff 84px,#ff00f5 88px,#ff00e8 92px,#ff00dc 96px,#ff00d2 100px,#ff00c8 104px,#ff00bf 108px,#ff00b6 112px,#ff00ae 116px,#ff00a7 120px,#ff00a0 124px,#ff009a 128px,#ff0093 132px,#ff008d 136px,#ff0088 140px,#ff0082 144px,#ff007d 148px,#ff0078 152px,#ff0074 156px)"></div><div style="top:196px;left:23px;width:153px;height:2px;background:linear-gradient(90deg,#0984ff 0px,#0981ff 4px,#0a7eff 8px,#0b7bff 12px,#0b78ff 16px,#0c75ff 20px,#0d72ff 24px,#0e6eff 28px,#0f6aff 32px,#1566ff 36px,#4562ff 40px,#605dff 44px,#7658ff 48px,#8a52ff 52px,#9c4cff 56px,#ac45ff 60px,#bc3eff 64px,#cb35ff 68px,#d92aff 72px,#e71dff 76px,#f307ff 80px,#fe00ff 84px,#ff00f2 88px,#ff00e6 92px,#ff00da 96px,#ff00d0 100px,#ff00c6 104px,#ff00be 108px,#ff00b5 112px,#ff00ae 116px,#ff00a6 120px,#ff00a0 124px,#ff0099 128px,#ff0093 132px,#ff008d 136px,#ff0088 140px,#ff0083 144px,#ff007d 148px,#ff0079 152px)"></div><div style="top:198px;left:24px;width:147px;height:2px;background:linear-gradient(90deg,#0a7eff 0px,#0a7bff 4px,#0b79ff 8px,#0c75ff 12px,#0d72ff 16px,#0e6fff 20px,#0f6bff 24px,#1067ff 28px,#1263ff 32px,#305eff 36px,#525aff 40px,#6b54ff 44px,#7f4fff 48px,#9249ff 52px,#a342ff 56px,#b33aff 60px,#c231ff 64px,#d125ff 68px,#df17ff 72px,#ec00ff 76px,#f600ff 80px,#ff00fd 84px,#ff00f0 88px,#ff00e4 92px,#ff00d9 96px,#ff00ce 100px,#ff00c5 104px,#ff00bd 108px,#ff00b5 112px,#ff00ad 116px,#ff00a6 120px,#ff009f 124px,#ff0099 128px,#ff0093 132px,#ff008d 136px,#ff0088 140px,#ff0083 144px)"></div><div style="top:200px;left:25px;width:141px;height:2px;background:linear-gradient(90deg,#0b79ff 0px,#0c76ff 4px,#0d73ff 8px,#0e6fff 12px,#0f6cff 16px,#1068ff 20px,#1164ff 24px,#1360ff 28px,#145bff 32px,#4256ff 36px,#5e51ff 40px,#744bff 44px,#8845ff 48px,#9a3eff 52px,#aa36ff 56px,#ba2cff 60px,#c921ff 64px,#d710ff 68px,#e400ff 72px,#ee00ff 76px,#f800ff 80px,#ff00fa 84px,#ff00ed 88px,#ff00e1 92px,#ff00d7 96px,#ff00cd 100px,#ff00c4 104px,#ff00bb 108px,#ff00b4 112px,#ff00ac 116px,#ff00a5 120px,#ff009f 124px,#ff0099 128px,#ff0093 132px,#ff008d 136px,#ff0088 140px)"></div><div style="top:202px;left:26px;width:135px;height:2px;background:linear-gradient(90deg,#0d73ff 0px,#0e70ff 4px,#0f6cff 8px,#1069ff 12px,#1165ff 16px,#1261ff 20px,#145dff 24px,#1558ff 28px,#2b53ff 32px,#504eff 36px,#6948ff 40px,#7e42ff 44px,#903aff 48px,#a132ff 52px,#b228ff 56px,#c11bff 60px,#d108ff 64px,#dd00ff 68px,#e700ff 72px,#f100ff 76px,#fb00ff 80px,#ff00f7 84px,#ff00eb 88px,#ff00df 92px,#ff00d5 96px,#ff00cc 100px,#ff00c3 104px,#ff00ba 108px,#ff00b3 112px,#ff00ac 116px,#ff00a5 120px,#ff009e 124px,#ff0098 128px,#ff0093 132px)"></div><div style="top:204px;left:27px;width:129px;height:2px;background:linear-gradient(90deg,#0e6dff 0px,#0f6aff 4px,#1066ff 8px,#1262ff 12px,#135eff 16px,#155aff 20px,#1755ff 24px,#1950ff 28px,#3f4bff 32px,#5d45ff 36px,#733eff 40px,#8737ff 44px,#992eff 48px,#aa24ff 52px,#ba16ff 56px,#cb00ff 60px,#d600ff 64px,#e000ff 68px,#ea00ff 72px,#f300ff 76px,#fd00ff 80px,#ff00f5 84px,#ff00e8 88px,#ff00de 92px,#ff00d3 96px,#ff00ca 100px,#ff00c2 104px,#ff00ba 108px,#ff00b2 112px,#ff00ab 116px,#ff00a4 120px,#ff009e 124px,#ff0098 128px)"></div><div style="top:206px;left:27px;width:124px;height:2px;background:linear-gradient(90deg,#1068ff 0px,#1164ff 4px,#1261ff 8px,#145dff 12px,#1558ff 16px,#1754ff 20px,#194fff 24px,#1c49ff 28px,#4743ff 32px,#633dff 36px,#7935ff 40px,#8c2dff 44px,#9e22ff 48px,#af15ff 52px,#c100ff 56px,#cc00ff 60px,#d600ff 64px,#e000ff 68px,#ea00ff 72px,#f300ff 76px,#fd00ff 80px,#ff00f5 84px,#ff00e9 88px,#ff00de 92px,#ff00d4 96px,#ff00cb 100px,#ff00c2 104px,#ff00ba 108px,#ff00b3 112px,#ff00ac 116px,#ff00a5 120px)"></div><div style="top:208px;left:28px;width:118px;height:2px;background:linear-gradient(90deg,#1262ff 0px,#135eff 4px,#155aff 8px,#1655ff 12px,#1851ff 16px,#1b4cff 20px,#1d46ff 24px,#3240ff 28px,#5639ff 32px,#6e32ff 36px,#8329ff 40px,#961eff 44px,#a90eff 48px,#ba00ff 52px,#c400ff 56px,#cf00ff 60px,#d900ff 64px,#e200ff 68px,#ec00ff 72px,#f500ff 76px,#ff00ff 80px,#ff00f2 84px,#ff00e7 88px,#ff00dc 92px,#ff00d3 96px,#ff00ca 100px,#ff00c1 104px,#ff00ba 108px,#ff00b2 112px,#ff00ab 116px)"></div><div style="top:210px;left:29px;width:112px;height:2px;background:linear-gradient(90deg,#145bff 0px,#1657ff 4px,#1853ff 8px,#1a4eff 12px,#1c49ff 16px,#1f43ff 20px,#223dff 24px,#4736ff 28px,#642eff 32px,#7a25ff 36px,#8f19ff 40px,#a407ff 44px,#b200ff 48px,#bd00ff 52px,#c800ff 56px,#d200ff 60px,#db00ff 64px,#e500ff 68px,#ee00ff 72px,#f800ff 76px,#ff00fc 80px,#ff00f0 84px,#ff00e5 88px,#ff00db 92px,#ff00d1 96px,#ff00c8 100px,#ff00c0 104px,#ff00b9 108px)"></div><div style="top:212px;left:30px;width:106px;height:2px;background:linear-gradient(90deg,#1754ff 0px,#1950ff 4px,#1b4bff 8px,#1d46ff 12px,#2040ff 16px,#233aff 20px,#2e33ff 24px,#572bff 28px,#7121ff 32px,#8814ff 36px,#9f00ff 40px,#ab00ff 44px,#b600ff 48px,#c100ff 52px,#cb00ff 56px,#d400ff 60px,#de00ff 64px,#e700ff 68px,#f100ff 72px,#fa00ff 76px,#ff00fa 80px,#ff00ee 84px,#ff00e3 88px,#ff00d9 92px,#ff00d0 96px,#ff00c7 100px,#ff00bf 104px)"></div><div style="top:214px;left:31px;width:100px;height:2px;background:linear-gradient(90deg,#1a4dff 0px,#1c48ff 4px,#1f43ff 8px,#213dff 12px,#2537ff 16px,#2930ff 20px,#4827ff 24px,#671dff 28px,#810fff 32px,#9700ff 36px,#a300ff 40px,#af00ff 44px,#b900ff 48px,#c400ff 52px,#ce00ff 56px,#d700ff 60px,#e100ff 64px,#ea00ff 68px,#f300ff 72px,#fc00ff 76px,#ff00f7 80px,#ff00eb 84px,#ff00e1 88px,#ff00d7 92px,#ff00ce 96px)"></div><div style="top:216px;left:32px;width:94px;height:2px;background:linear-gradient(90deg,#1d46ff 0px,#2040ff 4px,#233bff 8px,#2734ff 12px,#2b2cff 16px,#3124ff 20px,#5c19ff 24px,#7b08ff 28px,#8e00ff 32px,#9c00ff 36px,#a700ff 40px,#b200ff 44px,#bd00ff 48px,#c700ff 52px,#d000ff 56px,#da00ff 60px,#e300ff 64px,#ec00ff 68px,#f500ff 72px,#fe00ff 76px,#ff00f4 80px,#ff00e9 84px,#ff00df 88px,#ff00d6 92px)"></div><div style="top:218px;left:33px;width:88px;height:2px;background:linear-gradient(90deg,#213eff 0px,#2538ff 4px,#2831ff 8px,#2d29ff 12px,#3320ff 16px,#4d14ff 20px,#7500ff 24px,#8600ff 28px,#9300ff 32px,#a000ff 36px,#ab00ff 40px,#b600ff 44px,#c000ff 48px,#ca00ff 52px,#d300ff 56px,#dc00ff 60px,#e500ff 64px,#ee00ff 68px,#f700ff 72px,#ff00fe 76px,#ff00f2 80px,#ff00e7 84px)"></div><div style="top:220px;left:35px;width:81px;height:2px;background:linear-gradient(90deg,#2733ff 0px,#2b2cff 4px,#3124ff 8px,#3819ff 12px,#440aff 16px,#6e00ff 20px,#8000ff 24px,#8e00ff 28px,#9b00ff 32px,#a700ff 36px,#b100ff 40px,#bc00ff 44px,#c500ff 48px,#cf00ff 52px,#d800ff 56px,#e100ff 60px,#ea00ff 64px,#f300ff 68px,#fb00ff 72px,#ff00f8 76px,#ff00ed 80px)"></div><div style="top:222px;left:36px;width:75px;height:2px;background:linear-gradient(90deg,#2d29ff 0px,#3320ff 4px,#3b15ff 8px,#4a03ff 12px,#5f00ff 16px,#7600ff 20px,#8600ff 24px,#9300ff 28px,#9f00ff 32px,#aa00ff 36px,#b500ff 40px,#bf00ff 44px,#c800ff 48px,#d200ff 52px,#db00ff 56px,#e300ff 60px,#ec00ff 64px,#f500ff 68px,#fd00ff 72px)"></div><div style="top:224px;left:37px;width:69px;height:2px;background:linear-gradient(90deg,#361cff 0px,#3f10ff 4px,#4c00ff 8px,#4c00ff 12px,#6900ff 16px,#7c00ff 20px,#8b00ff 24px,#9800ff 28px,#a300ff 32px,#ae00ff 36px,#b800ff 40px,#c200ff 44px,#cb00ff 48px,#d400ff 52px,#dd00ff 56px,#e600ff 60px,#ee00ff 64px,#f700ff 68px)"></div><div style="top:226px;left:39px;width:61px;height:2px;background:linear-gradient(90deg,#4806ff 0px,#4c00ff 4px,#4c00ff 8px,#6100ff 12px,#7600ff 16px,#8600ff 20px,#9300ff 24px,#9f00ff 28px,#aa00ff 32px,#b400ff 36px,#be00ff 40px,#c700ff 44px,#d000ff 48px,#d900ff 52px,#e100ff 56px,#ea00ff 60px)"></div><div style="top:228px;left:40px;width:55px;height:2px;background:linear-gradient(90deg,#4c00ff 0px,#4c00ff 4px,#4c00ff 8px,#6b00ff 12px,#7d00ff 16px,#8b00ff 20px,#9800ff 24px,#a300ff 28px,#ad00ff 32px,#b700ff 36px,#c100ff 40px,#ca00ff 44px,#d300ff 48px,#db00ff 52px)"></div><div style="top:230px;left:42px;width:48px;height:2px;background:linear-gradient(90deg,#4c00ff 0px,#4c00ff 4px,#6200ff 8px,#7700ff 12px,#8600ff 16px,#9300ff 20px,#9e00ff 24px,#a900ff 28px,#b300ff 32px,#bd00ff 36px,#c600ff 40px,#cf00ff 44px)"></div><div style="top:232px;left:44px;width:41px;height:2px;background:linear-gradient(90deg,#4c00ff 0px,#5700ff 4px,#7100ff 8px,#8100ff 12px,#8e00ff 16px,#9a00ff 20px,#a500ff 24px,#af00ff 28px,#b900ff 32px,#c200ff 36px,#cb00ff 40px)"></div><div style="top:234px;left:46px;width:34px;height:2px;background:linear-gradient(90deg,#4c00ff 0px,#6a00ff 4px,#7b00ff 8px,#8a00ff 12px,#9600ff 16px,#a100ff 20px,#ab00ff 24px,#b500ff 28px,#be00ff 32px)"></div><div style="top:236px;left:49px;width:26px;height:2px;background:linear-gradient(90deg,#6700ff 0px,#7a00ff 4px,#8800ff 8px,#9400ff 12px,#9f00ff 16px,#a900ff 20px,#b300ff 24px)"></div><div style="top:238px;left:52px;width:18px;height:2px;background:linear-gradient(90deg,#7800ff 0px,#8600ff 4px,#9300ff 8px,#9e00ff 12px,#a800ff 16px)"></div></div>
<svg width="685" height="823" viewBox="0 0 685 823"><rect x="51.9" y="18.5" width="264.3" height="213.1" fill="none" stroke="#000" stroke-width="1.55"/><line x1="51.9" y1="231.6" x2="51.9" y2="234.1" stroke="#000" stroke-width="1.4" /><line x1="72.2" y1="231.6" x2="72.2" y2="235.6" stroke="#000" stroke-width="1.4" /><line x1="92.6" y1="231.6" x2="92.6" y2="234.1" stroke="#000" stroke-width="1.4" /><line x1="112.9" y1="231.6" x2="112.9" y2="235.6" stroke="#000" stroke-width="1.4" /><line x1="133.2" y1="231.6" x2="133.2" y2="234.1" stroke="#000" stroke-width="1.4" /><line x1="153.6" y1="231.6" x2="153.6" y2="235.6" stroke="#000" stroke-width="1.4" /><line x1="173.9" y1="231.6" x2="173.9" y2="234.1" stroke="#000" stroke-width="1.4" /><line x1="194.2" y1="231.6" x2="194.2" y2="235.6" stroke="#000" stroke-width="1.4" /><line x1="214.5" y1="231.6" x2="214.5" y2="234.1" stroke="#000" stroke-width="1.4" /><line x1="234.9" y1="231.6" x2="234.9" y2="235.6" stroke="#000" stroke-width="1.4" /><line x1="255.2" y1="231.6" x2="255.2" y2="234.1" stroke="#000" stroke-width="1.4" /><line x1="275.5" y1="231.6" x2="275.5" y2="235.6" stroke="#000" stroke-width="1.4" /><line x1="295.9" y1="231.6" x2="295.9" y2="234.1" stroke="#000" stroke-width="1.4" /><line x1="316.2" y1="231.6" x2="316.2" y2="235.6" stroke="#000" stroke-width="1.4" /><text x="72.2" y="251" font-size="15.5" text-anchor="middle" font-weight="bold" fill="#000" font-family='"Liberation Serif", serif' >300</text><text x="112.9" y="251" font-size="15.5" text-anchor="middle" font-weight="bold" fill="#000" font-family='"Liberation Serif", serif' >400</text><text x="153.6" y="251" font-size="15.5" text-anchor="middle" font-weight="bold" fill="#000" font-family='"Liberation Serif", serif' >500</text><text x="194.2" y="251" font-size="15.5" text-anchor="middle" font-weight="bold" fill="#000" font-family='"Liberation Serif", serif' >600</text><text x="234.9" y="251" font-size="15.5" text-anchor="middle" font-weight="bold" fill="#000" font-family='"Liberation Serif", serif' >700</text><text x="275.5" y="251" font-size="15.5" text-anchor="middle" font-weight="bold" fill="#000" font-family='"Liberation Serif", serif' >800</text><text x="316.2" y="251" font-size="15.5" text-anchor="middle" font-weight="bold" fill="#000" font-family='"Liberation Serif", serif' >900</text><text x="183.9" y="273" font-size="17.7" text-anchor="middle" font-weight="bold" fill="#000" font-family='"Liberation Serif", serif' >Wavelength (nm)</text><text x="0" y="0" font-size="17.8" text-anchor="middle" font-weight="bold" fill="#000" font-family='"Liberation Serif", serif' transform="translate(16.3,134.1) rotate(-90)">Norm. intensity (arb. units)</text><text x="4.5" y="18" font-size="25.5" text-anchor="start" font-weight="bold" fill="#000" font-family='"Liberation Serif", serif' >a</text><line x1="56" y1="31" x2="93" y2="31" stroke="#1ea6dc" stroke-width="1.5" /><line x1="56" y1="57" x2="93" y2="57" stroke="#d9475a" stroke-width="1.5" /><text x="98.6" y="36.6" font-size="12.4" font-style="normal" font-weight="bold" font-family='"Liberation Serif", serif'>PLE</text><text x="125.6" y="37.800000000000004" font-size="16" font-style="normal" font-weight="normal" font-family='"Liberation Serif", serif'>(</text><text x="131.6" y="36.6" font-size="13.5" font-style="italic" font-weight="normal" font-family='"Liberation Serif", serif'>λ</text><text x="137.8" y="39.9" font-size="11.2" font-style="normal" font-weight="bold" font-family='"Liberation Serif", serif'>em</text><text x="155.2" y="36.6" font-size="12.4" font-style="normal" font-weight="bold" font-family='"Liberation Serif", serif'>=</text><text x="164.6" y="36.6" font-size="12.4" font-style="normal" font-weight="bold" font-family='"Liberation Serif", serif'>670 nm</text><text x="201.5" y="37.800000000000004" font-size="16" font-style="normal" font-weight="normal" font-family='"Liberation Serif", serif'>)</text><text x="98.6" y="61.2" font-size="12.4" font-style="normal" font-weight="bold" font-family='"Liberation Serif", serif'>PL</text><text x="117.6" y="62.400000000000006" font-size="16" font-style="normal" font-weight="normal" font-family='"Liberation Serif", serif'>(</text><text x="123.2" y="61.2" font-size="13.5" font-style="italic" font-weight="normal" font-family='"Liberation Serif", serif'>λ</text><text x="129.2" y="64.5" font-size="11.2" font-style="normal" font-weight="bold" font-family='"Liberation Serif", serif'>ex</text><text x="143.0" y="61.2" font-size="12.4" font-style="normal" font-weight="bold" font-family='"Liberation Serif", serif'>=</text><text x="152.4" y="61.2" font-size="12.4" font-style="normal" font-weight="bold" font-family='"Liberation Serif", serif'>300 nm</text><text x="190.3" y="62.400000000000006" font-size="16" font-style="normal" font-weight="normal" font-family='"Liberation Serif", serif'>)</text><text x="282.7" y="41" font-size="17.5" text-anchor="middle" font-weight="bold" fill="#000" font-family='"Liberation Serif", serif' >PLQY</text><text x="282.7" y="62.5" font-size="17.5" text-anchor="middle" font-weight="bold" fill="#c4121c" font-family='"Liberation Serif", serif' >88.3%</text><path d="M51.9 123.2 52.1 122.5 52.3 121.1 52.5 119.4 52.7 118.2 52.9 116.6 53.1 115.8 53.3 115.1 53.5 112.6 53.7 111.0 53.9 110.0 54.1 108.3 54.3 106.6 54.5 104.4 54.7 103.2 54.9 102.1 55.2 99.4 55.4 98.4 55.6 96.2 55.8 95.1 56.0 93.4 56.2 92.9 56.4 90.9 56.6 90.3 56.8 88.9 57.0 87.3 57.2 84.7 57.4 84.5 57.6 83.5 57.8 82.3 58.0 80.2 58.2 79.5 58.4 78.0 58.6 76.9 58.8 77.0 59.0 75.1 59.2 74.8 59.4 74.7 59.6 73.3 59.8 72.9 60.0 72.5 60.2 71.8 60.4 70.5 60.6 70.7 60.8 71.0 61.0 69.0 61.3 70.1 61.5 69.5 61.7 68.9 61.9 70.2 62.1 69.3 62.3 68.1 62.5 68.6 62.7 68.8 62.9 68.2 63.1 68.7 63.3 68.2 63.5 68.5 63.7 68.8 63.9 67.7 64.1 68.2 64.3 68.0 64.5 68.5 64.7 68.0 64.9 68.6 65.1 69.1 65.3 70.0 65.5 70.4 65.7 69.4 65.9 70.0 66.1 71.2 66.3 70.2 66.5 71.5 66.7 72.1 66.9 73.3 67.1 73.5 67.4 73.5 67.6 74.0 67.8 74.7 68.0 76.4 68.2 76.0 68.4 76.8 68.6 77.8 68.8 78.2 69.0 78.9 69.2 79.0 69.4 80.2 69.6 80.6 69.8 82.1 70.0 82.5 70.2 82.7 70.4 83.6 70.6 83.5 70.8 84.6 71.0 84.2 71.2 84.7 71.4 83.8 71.6 84.8 71.8 83.8 72.0 83.7 72.2 84.7 72.4 84.4 72.6 85.0 72.8 86.1 73.0 84.4 73.2 84.4 73.5 84.9 73.7 85.0 73.9 84.6 74.1 84.5 74.3 85.0 74.5 84.8 74.7 83.9 74.9 84.4 75.1 84.5 75.3 83.9 75.5 84.6 75.7 83.9 75.9 84.9 76.1 84.5 76.3 84.4 76.5 84.0 76.7 84.2 76.9 83.2 77.1 83.7 77.3 84.5 77.5 83.1 77.7 84.7 77.9 83.3 78.1 84.7 78.3 83.9 78.5 84.8 78.7 84.5 78.9 83.7 79.1 85.3 79.3 85.5 79.5 84.7 79.8 84.6 80.0 84.8 80.2 84.4 80.4 85.7 80.6 84.9 80.8 85.3 81.0 85.0 81.2 85.3 81.4 85.0 81.6 86.6 81.8 86.0 82.0 86.7 82.2 86.4 82.4 86.2 82.6 86.7 82.8 86.9 83.0 87.6 83.2 87.7 83.4 88.1 83.6 87.8 83.8 88.5 84.0 90.2 84.2 89.4 84.4 89.7 84.6 91.0 84.8 92.3 85.0 91.5 85.2 92.9 85.4 93.4 85.6 93.5 85.9 95.8 86.1 96.3 86.3 97.5 86.5 98.3 86.7 100.3 86.9 101.1 87.1 102.6 87.3 103.4 87.5 104.7 87.7 107.6 87.9 108.0 88.1 109.9 88.3 111.3 88.5 112.6 88.7 114.1 88.9 116.2 89.1 117.2 89.3 118.9 89.5 120.5 89.7 122.8 89.9 124.2 90.1 125.8 90.3 127.1 90.5 128.4 90.7 131.5 90.9 133.3 91.1 134.5 91.3 136.6 91.5 138.6 91.7 140.6 92.0 142.8 92.2 144.2 92.4 147.5 92.6 148.3 92.8 151.7 93.0 153.7 93.2 156.3 93.4 159.2 93.6 161.4 93.8 162.4 94.0 164.6 94.2 168.5 94.4 170.0 94.6 173.1 94.8 176.0 95.0 177.0 95.2 179.1 95.4 182.7 95.6 184.8 95.8 186.9 96.0 189.3 96.2 191.1 96.4 192.9 96.6 195.9 96.8 197.7 97.0 200.5 97.2 202.7 97.4 204.9 97.6 207.2 97.8 209.4 98.1 211.4 98.3 213.2 98.5 214.8 98.7 216.2 98.9 217.3 99.1 218.5 99.3 219.6 99.5 220.7 99.7 221.8 99.9 222.7 100.1 223.5 100.3 224.2 100.5 224.8 100.7 225.4 100.9 225.9 101.1 226.3 101.3 226.7 101.5 227.0 101.7 227.1 101.9 227.3 102.1 227.5 102.3 227.7 102.5 227.9 102.7 228.0 102.9 228.2 103.1 228.3 103.3 228.4 103.5 228.4 103.7 228.5 103.9 228.5 104.2 228.5 104.4 228.5 104.6 228.5 104.8 228.5 105.0 228.6 105.2 228.6 105.4 228.6 105.6 228.6 105.8 228.6 106.0 228.7 106.2 228.7 106.4 228.7 106.6 228.7 106.8 228.7 107.0 228.7 107.2 228.8 107.4 228.8 107.6 228.8 107.8 228.8 108.0 228.8 108.2 228.8 108.4 228.9 108.6 228.9 108.8 228.9 109.0 228.9 109.2 228.9 109.4 228.9 109.6 228.9 109.8 228.9 110.0 228.9 110.2 228.9 110.5 228.9 110.7 228.9 110.9 228.9 111.1 228.9 111.3 228.9 111.5 228.9 111.7 228.9 111.9 228.9 112.1 228.9 112.3 228.9 112.5 228.9 112.7 228.9 112.9 228.9 113.1 228.9 113.3 228.9 113.5 228.9 113.7 228.9 113.9 228.9 114.1 228.9 114.3 228.9 114.5 228.9 114.7 228.9 114.9 228.9 115.1 228.9 115.3 228.9 115.5 228.9 115.7 228.9 115.9 228.9 116.1 228.9 116.3 228.9 116.6 228.9 116.8 228.9 117.0 228.9 117.2 228.9 117.4 228.9 117.6 228.9 117.8 228.9 118.0 228.9 118.2 228.9 118.4 228.9 118.6 228.9 118.8 228.9 119.0 228.9 119.2 228.9 119.4 228.9 119.6 228.9 119.8 228.9 120.0 228.9 120.2 228.9 120.4 228.9 120.6 228.9 120.8 228.9 121.0 228.9 121.2 228.9 121.4 228.9 121.6 228.9 121.8 228.9 122.0 228.9 122.2 228.9 122.4 228.9 122.7 228.9 122.9 228.9 123.1 228.9 123.3 228.9 123.5 228.9 123.7 228.9 123.9 228.9 124.1 228.9 124.3 228.9 124.5 228.9 124.7 228.9 124.9 228.9 125.1 228.9 125.3 228.9 125.5 228.9 125.7 228.9 125.9 228.9 126.1 228.9 126.3 228.9 126.5 228.8 126.7 228.8 126.9 228.8 127.1 228.8 127.3 228.8 127.5 228.8 127.7 228.8 127.9 228.8 128.1 228.8 128.3 228.8 128.5 228.8 128.8 228.8 129.0 228.8 129.2 228.8 129.4 228.8 129.6 228.8 129.8 228.8 130.0 228.8 130.2 228.8 130.4 228.8 130.6 228.8 130.8 228.8 131.0 228.8 131.2 228.8 131.4 228.8 131.6 228.8 131.8 228.8 132.0 228.8 132.2 228.8 132.4 228.8 132.6 228.8 132.8 228.8 133.0 228.8 133.2 228.8 133.4 228.8 133.6 228.8 133.8 228.8 134.0 228.8 134.2 228.8 134.4 228.8 134.6 228.8 134.8 228.8 135.1 228.8 135.3 228.8 135.5 228.8 135.7 228.8 135.9 228.8 136.1 228.8 136.3 228.8 136.5 228.8 136.7 228.8 136.9 228.8 137.1 228.8 137.3 228.8 137.5 228.7 137.7 228.7 137.9 228.7 138.1 228.7 138.3 228.7 138.5 228.7 138.7 228.7 138.9 228.7 139.1 228.7 139.3 228.7 139.5 228.7 139.7 228.7 139.9 228.7 140.1 228.7 140.3 228.7 140.5 228.7 140.7 228.7 140.9 228.7 141.2 228.7 141.4 228.7 141.6 228.7 141.8 228.7 142.0 228.7 142.2 228.7 142.4 228.7 142.6 228.7 142.8 228.7 143.0 228.7 143.2 228.7 143.4 228.7 143.6 228.7 143.8 228.7 144.0 228.7 144.2 228.7 144.4 228.7 144.6 228.7 144.8 228.7 145.0 228.7 145.2 228.7 145.4 228.7 145.6 228.7 145.8 228.7 146.0 228.7 146.2 228.7 146.4 228.7 146.6 228.7 146.8 228.7 147.0 228.7 147.3 228.7 147.5 228.7 147.7 228.7 147.9 228.7 148.1 228.7 148.3 228.6 148.5 228.6 148.7 228.6 148.9 228.6 149.1 228.6 149.3 228.6 149.5 228.6 149.7 228.6 149.9 228.6 150.1 228.6 150.3 228.6 150.5 228.6 150.7 228.6 150.9 228.6 151.1 228.6 151.3 228.6 151.5 228.6 151.7 228.6 151.9 228.6 152.1 228.6 152.3 228.6 152.5 228.6 152.7 228.6 152.9 228.6 153.1 228.6 153.4 228.6 153.6 228.6" fill="none" stroke="#1ea6dc" stroke-width="1.3" stroke-linejoin="round" /><path d="M112.9 219.7 113.1 219.9 113.3 220.5 113.5 220.4 113.7 220.2 113.9 220.1 114.1 219.9 114.3 220.3 114.5 220.5 114.7 220.5 114.9 220.5 115.1 220.3 115.3 220.6 115.5 220.7 115.7 221.0 115.9 221.2 116.1 220.8 116.3 220.6 116.6 220.9 116.8 220.8 117.0 220.8 117.2 221.0 117.4 220.8 117.6 221.2 117.8 221.1 118.0 221.2 118.2 221.1 118.4 221.0 118.6 221.0 118.8 221.2 119.0 221.2 119.2 221.4 119.4 221.4 119.6 221.1 119.8 221.5 120.0 221.1 120.2 221.4 120.4 221.5 120.6 221.1 120.8 221.6 121.0 221.7 121.2 221.6 121.4 221.6 121.6 221.6 121.8 221.5 122.0 221.7 122.2 221.7 122.4 221.9 122.7 221.6 122.9 222.0 123.1 222.0 123.3 221.9 123.5 221.9 123.7 222.2 123.9 221.6 124.1 222.2 124.3 222.2 124.5 222.2 124.7 222.2 124.9 222.0 125.1 222.1 125.3 222.4 125.5 222.3 125.7 222.3 125.9 221.9 126.1 222.4 126.3 222.6 126.5 222.6 126.7 222.4 126.9 222.0 127.1 222.7 127.3 222.4 127.5 221.8 127.7 222.6 127.9 222.1 128.1 222.2 128.3 222.4 128.5 222.9 128.8 222.5 129.0 222.7 129.2 223.1 129.4 223.1 129.6 222.6 129.8 222.6 130.0 222.4 130.2 222.6 130.4 222.9 130.6 222.9 130.8 222.8 131.0 223.0 131.2 222.6 131.4 222.8 131.6 223.0 131.8 223.0 132.0 223.2 132.2 223.0 132.4 222.8 132.6 223.0 132.8 222.7 133.0 222.6 133.2 223.1 133.4 223.0 133.6 223.1 133.8 222.6 134.0 223.0 134.2 222.9 134.4 222.9 134.6 222.5 134.8 223.0 135.1 223.3 135.3 223.2 135.5 223.0 135.7 223.2 135.9 223.4 136.1 222.5 136.3 223.2 136.5 223.4 136.7 223.4 136.9 223.7 137.1 223.5 137.3 223.3 137.5 223.4 137.7 223.5 137.9 223.2 138.1 223.3 138.3 223.6 138.5 223.8 138.7 223.3 138.9 223.4 139.1 223.4 139.3 223.7 139.5 223.4 139.7 223.8 139.9 223.2 140.1 223.4 140.3 223.4 140.5 223.6 140.7 223.7 140.9 223.1 141.2 223.3 141.4 223.6 141.6 223.3 141.8 223.1 142.0 223.8 142.2 223.7 142.4 223.7 142.6 223.4 142.8 223.8 143.0 223.5 143.2 223.9 143.4 223.4 143.6 223.4 143.8 223.7 144.0 223.4 144.2 223.8 144.4 223.7 144.6 223.4 144.8 223.7 145.0 223.6 145.2 223.9 145.4 223.5 145.6 223.6 145.8 224.0 146.0 224.3 146.2 224.2 146.4 223.7 146.6 223.8 146.8 224.1 147.0 223.7 147.3 223.5 147.5 223.8 147.7 223.9 147.9 223.6 148.1 223.4 148.3 223.4 148.5 224.0 148.7 223.6 148.9 223.8 149.1 223.9 149.3 224.0 149.5 223.7 149.7 223.9 149.9 223.6 150.1 223.7 150.3 223.6 150.5 224.1 150.7 223.8 150.9 223.7 151.1 223.8 151.3 223.8 151.5 224.1 151.7 223.5 151.9 223.6 152.1 223.8 152.3 224.5 152.5 224.1 152.7 223.9 152.9 224.1 153.1 224.4 153.4 223.9 153.6 223.8 153.8 224.2 154.0 224.1 154.2 224.1 154.4 223.8 154.6 224.4 154.8 224.4 155.0 224.1 155.2 224.1 155.4 223.5 155.6 224.1 155.8 223.9 156.0 224.1 156.2 224.2 156.4 223.9 156.6 223.6 156.8 224.1 157.0 223.8 157.2 223.9 157.4 223.9 157.6 223.9 157.8 223.4 158.0 224.3 158.2 224.1 158.4 224.3 158.6 224.5 158.8 224.0 159.0 223.6 159.2 223.8 159.4 223.7 159.7 223.9 159.9 224.1 160.1 223.6 160.3 224.1 160.5 223.7 160.7 224.1 160.9 224.0 161.1 224.0 161.3 224.1 161.5 223.9 161.7 223.9 161.9 223.7 162.1 224.1 162.3 224.5 162.5 224.6 162.7 224.4 162.9 224.3 163.1 223.9 163.3 224.4 163.5 224.1 163.7 224.1 163.9 224.0 164.1 224.1 164.3 224.0 164.5 224.0 164.7 223.8 164.9 224.0 165.1 224.6 165.3 224.0 165.5 224.0 165.8 224.2 166.0 224.2 166.2 223.8 166.4 224.0 166.6 224.3 166.8 224.1 167.0 224.0 167.2 224.4 167.4 223.8 167.6 224.0 167.8 223.8 168.0 224.3 168.2 223.5 168.4 223.8 168.6 223.8 168.8 224.1 169.0 224.1 169.2 224.2 169.4 223.5 169.6 224.0 169.8 223.8 170.0 223.6 170.2 223.9 170.4 223.5 170.6 223.2 170.8 223.6 171.0 223.3 171.2 223.5 171.4 223.7 171.6 223.7 171.9 224.0 172.1 223.5 172.3 223.1 172.5 223.3 172.7 223.2 172.9 223.1 173.1 223.4 173.3 223.1 173.5 222.7 173.7 223.4 173.9 223.1 174.1 223.2 174.3 223.0 174.5 223.1 174.7 222.9 174.9 223.1 175.1 222.9 175.3 222.8 175.5 222.7 175.7 222.1 175.9 222.4 176.1 222.3 176.3 222.3 176.5 221.8 176.7 222.5 176.9 222.0 177.1 221.6 177.3 221.3 177.5 221.6 177.7 221.5 178.0 221.2 178.2 221.3 178.4 221.0 178.6 221.2 178.8 220.7 179.0 220.7 179.2 220.8 179.4 221.1 179.6 220.0 179.8 220.0 180.0 219.7 180.2 219.9 180.4 219.2 180.6 219.2 180.8 219.2 181.0 218.7 181.2 218.5 181.4 218.4 181.6 217.7 181.8 217.7 182.0 217.7 182.2 217.6 182.4 217.3 182.6 216.6 182.8 216.7 183.0 216.8 183.2 216.4 183.4 215.9 183.6 215.4 183.8 215.5 184.1 214.9 184.3 214.4 184.5 214.1 184.7 214.4 184.9 213.7 185.1 213.6 185.3 212.8 185.5 212.8 185.7 212.0 185.9 211.7 186.1 212.1 186.3 211.1 186.5 210.3 186.7 210.0 186.9 209.7 187.1 209.5 187.3 208.5 187.5 207.6 187.7 207.6 187.9 207.2 188.1 206.7 188.3 206.5 188.5 205.7 188.7 205.3 188.9 204.1 189.1 204.2 189.3 204.0 189.5 203.0 189.7 202.2 189.9 201.6 190.1 201.5 190.4 199.9 190.6 199.5 190.8 199.1 191.0 198.5 191.2 197.4 191.4 197.0 191.6 196.0 191.8 195.5 192.0 194.6 192.2 193.5 192.4 193.2 192.6 192.7 192.8 191.3 193.0 190.7 193.2 190.3 193.4 188.8 193.6 188.4 193.8 187.1 194.0 187.1 194.2 186.7 194.4 185.7 194.6 184.0 194.8 183.5 195.0 182.3 195.2 181.4 195.4 181.1 195.6 178.9 195.8 179.0 196.0 177.5 196.2 177.2 196.5 175.7 196.7 174.3 196.9 173.7 197.1 172.9 197.3 171.6 197.5 170.8 197.7 169.3 197.9 167.5 198.1 167.9 198.3 166.7 198.5 165.4 198.7 164.3 198.9 163.6 199.1 161.8 199.3 160.6 199.5 159.8 199.7 159.3 199.9 156.9 200.1 157.1 200.3 155.0 200.5 153.7 200.7 153.7 200.9 151.9 201.1 150.1 201.3 149.4 201.5 149.0 201.7 148.0 201.9 145.9 202.1 145.2 202.3 144.2 202.6 142.3 202.8 141.7 203.0 140.3 203.2 138.8 203.4 137.6 203.6 136.8 203.8 135.6 204.0 134.0 204.2 133.0 204.4 132.7 204.6 131.0 204.8 130.2 205.0 129.2 205.2 127.7 205.4 127.6 205.6 124.5 205.8 124.3 206.0 122.4 206.2 122.7 206.4 121.4 206.6 117.9 206.8 117.4 207.0 117.3 207.2 116.3 207.4 115.1 207.6 113.5 207.8 112.7 208.0 111.8 208.2 110.2 208.4 109.8 208.7 106.5 208.9 107.4 209.1 105.2 209.3 105.5 209.5 103.6 209.7 102.1 209.9 102.0 210.1 100.0 210.3 99.0 210.5 97.5 210.7 97.7 210.9 97.1 211.1 96.5 211.3 94.7 211.5 94.7 211.7 93.0 211.9 92.0 212.1 91.6 212.3 91.1 212.5 89.1 212.7 88.3 212.9 87.6 213.1 86.9 213.3 85.3 213.5 86.1 213.7 84.1 213.9 84.1 214.1 82.2 214.3 82.5 214.5 81.8 214.7 80.4 215.0 81.9 215.2 79.8 215.4 80.4 215.6 79.0 215.8 76.9 216.0 76.6 216.2 76.8 216.4 75.8 216.6 75.3 216.8 74.4 217.0 72.5 217.2 73.5 217.4 71.1 217.6 73.1 217.8 71.6 218.0 71.2 218.2 71.3 218.4 71.4 218.6 69.3 218.8 68.7 219.0 69.0 219.2 67.7 219.4 68.5 219.6 70.8 219.8 67.9 220.0 69.4 220.2 67.1 220.4 68.6 220.6 67.8 220.8 67.9 221.1 68.4 221.3 69.6 221.5 67.8 221.7 67.7 221.9 66.4 222.1 68.0 222.3 67.1 222.5 68.3 222.7 67.4 222.9 69.3 223.1 65.3 223.3 67.2 223.5 68.6 223.7 67.3 223.9 67.0 224.1 67.7 224.3 66.6 224.5 68.4 224.7 71.2 224.9 70.0 225.1 67.7 225.3 68.2 225.5 68.9 225.7 70.8 225.9 69.0 226.1 69.5 226.3 71.6 226.5 71.9 226.7 70.8 226.9 70.3 227.2 70.2 227.4 71.6 227.6 70.3 227.8 74.1 228.0 72.9 228.2 74.7 228.4 76.7 228.6 76.4 228.8 74.2 229.0 77.1 229.2 77.9 229.4 76.3 229.6 76.6 229.8 78.1 230.0 76.9 230.2 81.1 230.4 77.2 230.6 79.3 230.8 80.9 231.0 81.6 231.2 82.7 231.4 83.4 231.6 83.5 231.8 85.8 232.0 82.6 232.2 85.8 232.4 85.7 232.6 87.4 232.8 88.2 233.0 87.6 233.3 88.6 233.5 91.1 233.7 91.3 233.9 90.8 234.1 94.8 234.3 95.9 234.5 92.2 234.7 95.1 234.9 98.5 235.1 97.3 235.3 97.4 235.5 97.7 235.7 98.1 235.9 99.3 236.1 99.8 236.3 102.1 236.5 101.6 236.7 102.4 236.9 102.3 237.1 104.5 237.3 104.4 237.5 106.1 237.7 108.4 237.9 108.5 238.1 109.5 238.3 110.2 238.5 110.7 238.7 111.3 238.9 112.0 239.1 114.1 239.3 112.8 239.6 116.6 239.8 115.9 240.0 115.8 240.2 117.0 240.4 117.7 240.6 119.6 240.8 119.4 241.0 122.5 241.2 121.1 241.4 120.2 241.6 122.9 241.8 122.2 242.0 125.5 242.2 127.7 242.4 128.1 242.6 126.6 242.8 128.1 243.0 132.1 243.2 131.2 243.4 131.7 243.6 133.8 243.8 136.3 244.0 135.8 244.2 135.3 244.4 136.4 244.6 137.6 244.8 136.9 245.0 137.2 245.2 139.4 245.4 139.0 245.7 141.0 245.9 142.0 246.1 145.5 246.3 142.5 246.5 144.2 246.7 145.0 246.9 146.5 247.1 148.1 247.3 147.0 247.5 147.4 247.7 147.2 247.9 148.9 248.1 151.4 248.3 151.6 248.5 151.1 248.7 152.7 248.9 153.9 249.1 155.3 249.3 154.7 249.5 155.9 249.7 154.7 249.9 156.2 250.1 160.4 250.3 156.4 250.5 159.4 250.7 160.9 250.9 160.8 251.1 161.0 251.3 162.7 251.5 163.4 251.8 164.0 252.0 162.5 252.2 165.3 252.4 165.1 252.6 166.2 252.8 167.8 253.0 169.0 253.2 170.0 253.4 168.9 253.6 171.3 253.8 172.3 254.0 172.8 254.2 173.8 254.4 172.5 254.6 173.1 254.8 174.9 255.0 172.8 255.2 175.4 255.4 175.0 255.6 175.8 255.8 174.7 256.0 176.3 256.2 178.0 256.4 179.7 256.6 180.4 256.8 179.6 257.0 180.0 257.2 179.8 257.4 181.9 257.6 181.6 257.9 183.2 258.1 185.2 258.3 183.4 258.5 182.0 258.7 183.3 258.9 183.1 259.1 183.9 259.3 187.6 259.5 186.7 259.7 184.9 259.9 188.2 260.1 189.5 260.3 187.8 260.5 187.9 260.7 188.7 260.9 190.0 261.1 190.9 261.3 192.0 261.5 192.5 261.7 192.9 261.9 193.6 262.1 193.1 262.3 190.6 262.5 192.8 262.7 193.8 262.9 193.3 263.1 195.4 263.3 194.1 263.5 193.7 263.7 197.2 263.9 196.6 264.2 196.3 264.4 197.6 264.6 198.2 264.8 197.6 265.0 194.2 265.2 196.9 265.4 197.5 265.6 197.1 265.8 199.1 266.0 200.7 266.2 198.8 266.4 198.2 266.6 202.8 266.8 199.8 267.0 199.0 267.2 201.3 267.4 201.9 267.6 200.6 267.8 202.9 268.0 201.5 268.2 201.1 268.4 202.9 268.6 204.0 268.8 202.4 269.0 204.0 269.2 203.6 269.4 208.0 269.6 203.3 269.8 206.5 270.0 204.7 270.3 204.8 270.5 206.3 270.7 206.7 270.9 207.5 271.1 206.4 271.3 205.4 271.5 205.7 271.7 207.3 271.9 207.7 272.1 209.0 272.3 207.9 272.5 209.0 272.7 209.8 272.9 208.1 273.1 206.1 273.3 206.7 273.5 206.5 273.7 210.9 273.9 207.7 274.1 210.8 274.3 210.0 274.5 211.8 274.7 211.0 274.9 209.6 275.1 209.7 275.3 210.2 275.5 210.5 275.7 209.7 275.9 210.6 276.1 213.0 276.4 208.6 276.6 211.5 276.8 210.0 277.0 211.7 277.2 212.7 277.4 211.6 277.6 212.9 277.8 209.8 278.0 213.7 278.2 211.5 278.4 213.3 278.6 212.8 278.8 209.2 279.0 211.8 279.2 213.3 279.4 215.2 279.6 213.6 279.8 213.7 280.0 211.6 280.2 215.5 280.4 216.2 280.6 213.9 280.8 213.7 281.0 211.9 281.2 215.4 281.4 217.9 281.6 215.4 281.8 216.2 282.0 215.4 282.2 213.4 282.5 216.6 282.7 213.3 282.9 214.8 283.1 215.5 283.3 216.4 283.5 215.9 283.7 216.0 283.9 214.5 284.1 213.9 284.3 215.8 284.5 214.9 284.7 214.1 284.9 214.3 285.1 215.4 285.3 213.7 285.5 214.4 285.7 214.1 285.9 216.7 286.1 217.1 286.3 219.3 286.5 214.7 286.7 215.8 286.9 218.0 287.1 216.6 287.3 216.5 287.5 219.3 287.7 216.7 287.9 215.7 288.1 215.5 288.3 217.8 288.6 217.8 288.8 215.7 289.0 216.2 289.2 218.3 289.4 218.5 289.6 216.9 289.8 218.7 290.0 218.7 290.2 215.6 290.4 217.6 290.6 218.6 290.8 217.4 291.0 215.3 291.2 217.9 291.4 219.3 291.6 220.5 291.8 215.5 292.0 222.0 292.2 217.1 292.4 219.9 292.6 220.3 292.8 220.1 293.0 219.0 293.2 217.3 293.4 219.7 293.6 218.0 293.8 215.6 294.0 222.8 294.2 220.1 294.4 221.6 294.6 218.0 294.9 221.2 295.1 221.4 295.3 221.4 295.5 219.4 295.7 217.9 295.9 219.3 296.1 216.6 296.3 217.3 296.5 219.8 296.7 218.4 296.9 219.5 297.1 219.6 297.3 222.4 297.5 221.6 297.7 219.8 297.9 221.6 298.1 219.0 298.3 219.6 298.5 221.3 298.7 218.5 298.9 219.8 299.1 218.4 299.3 220.4 299.5 222.5 299.7 219.3 299.9 220.7 300.1 219.2 300.3 218.9 300.5 218.8 300.7 222.4 301.0 223.7 301.2 221.2 301.4 219.7 301.6 221.6 301.8 220.2 302.0 221.8 302.2 221.1 302.4 221.2 302.6 221.6 302.8 220.1 303.0 220.4 303.2 218.6 303.4 220.4 303.6 219.1 303.8 220.8 304.0 219.8 304.2 221.2 304.4 221.7 304.6 219.3 304.8 220.1 305.0 220.0 305.2 222.2 305.4 223.6 305.6 222.4 305.8 220.9 306.0 223.3 306.2 219.4 306.4 223.4 306.6 220.6 306.8 217.8 307.1 225.0 307.3 223.6 307.5 220.2 307.7 221.8 307.9 221.3 308.1 221.8 308.3 219.7 308.5 220.8 308.7 222.4 308.9 222.1 309.1 223.4 309.3 221.9 309.5 225.0 309.7 220.9 309.9 222.2 310.1 219.4 310.3 220.3 310.5 223.7 310.7 220.7 310.9 222.7 311.1 221.9 311.3 220.7 311.5 221.6 311.7 221.4 311.9 221.5 312.1 223.1 312.3 223.0 312.5 221.4 312.7 221.0 312.9 222.6 313.2 222.1 313.4 223.6 313.6 225.8 313.8 223.4 314.0 222.3 314.2 222.1 314.4 221.2 314.6 221.2 314.8 221.1 315.0 221.9 315.2 221.9 315.4 223.5 315.6 222.0 315.8 222.3 316.0 220.9 316.2 224.7" fill="none" stroke="#d9475a" stroke-width="1.3" stroke-linejoin="round" /><rect x="405" y="18.3" width="264" height="213" fill="none" stroke="#000" stroke-width="1.55"/><line x1="401" y1="231.3" x2="405" y2="231.3" stroke="#000" stroke-width="1.4" /><line x1="402.5" y1="210" x2="405" y2="210" stroke="#000" stroke-width="1.4" /><line x1="401" y1="188.7" x2="405" y2="188.7" stroke="#000" stroke-width="1.4" /><line x1="402.5" y1="167.4" x2="405" y2="167.4" stroke="#000" stroke-width="1.4" /><line x1="401" y1="146.1" x2="405" y2="146.1" stroke="#000" stroke-width="1.4" /><line x1="402.5" y1="124.8" x2="405" y2="124.8" stroke="#000" stroke-width="1.4" /><line x1="401" y1="103.5" x2="405" y2="103.5" stroke="#000" stroke-width="1.4" /><line x1="402.5" y1="82.2" x2="405" y2="82.2" stroke="#000" stroke-width="1.4" /><line x1="401" y1="60.9" x2="405" y2="60.9" stroke="#000" stroke-width="1.4" /><line x1="402.5" y1="39.6" x2="405" y2="39.6" stroke="#000" stroke-width="1.4" /><line x1="401" y1="18.3" x2="405" y2="18.3" stroke="#000" stroke-width="1.4" /><text x="393.2" y="236.9" font-size="16" text-anchor="end" font-weight="bold" fill="#000" font-family='"Liberation Serif", serif' >0</text><text x="393.2" y="194.3" font-size="16" text-anchor="end" font-weight="bold" fill="#000" font-family='"Liberation Serif", serif' >20</text><text x="393.2" y="151.7" font-size="16" text-anchor="end" font-weight="bold" fill="#000" font-family='"Liberation Serif", serif' >40</text><text x="393.2" y="109.1" font-size="16" text-anchor="end" font-weight="bold" fill="#000" font-family='"Liberation Serif", serif' >60</text><text x="393.2" y="66.5" font-size="16" text-anchor="end" font-weight="bold" fill="#000" font-family='"Liberation Serif", serif' >80</text><text x="393.2" y="23.9" font-size="16" text-anchor="end" font-weight="bold" fill="#000" font-family='"Liberation Serif", serif' >100</text><line x1="406.5" y1="231.3" x2="406.5" y2="235.3" stroke="#000" stroke-width="1.4" /><line x1="421.2" y1="231.3" x2="421.2" y2="233.8" stroke="#000" stroke-width="1.4" /><line x1="435.8" y1="231.3" x2="435.8" y2="235.3" stroke="#000" stroke-width="1.4" /><line x1="450.5" y1="231.3" x2="450.5" y2="233.8" stroke="#000" stroke-width="1.4" /><line x1="465.1" y1="231.3" x2="465.1" y2="235.3" stroke="#000" stroke-width="1.4" /><line x1="479.8" y1="231.3" x2="479.8" y2="233.8" stroke="#000" stroke-width="1.4" /><line x1="494.4" y1="231.3" x2="494.4" y2="235.3" stroke="#000" stroke-width="1.4" /><line x1="509.1" y1="231.3" x2="509.1" y2="233.8" stroke="#000" stroke-width="1.4" /><line x1="523.7" y1="231.3" x2="523.7" y2="235.3" stroke="#000" stroke-width="1.4" /><line x1="538.4" y1="231.3" x2="538.4" y2="233.8" stroke="#000" stroke-width="1.4" /><line x1="553.1" y1="231.3" x2="553.1" y2="235.3" stroke="#000" stroke-width="1.4" /><line x1="567.7" y1="231.3" x2="567.7" y2="233.8" stroke="#000" stroke-width="1.4" /><line x1="582.4" y1="231.3" x2="582.4" y2="235.3" stroke="#000" stroke-width="1.4" /><line x1="597" y1="231.3" x2="597" y2="233.8" stroke="#000" stroke-width="1.4" /><line x1="611.7" y1="231.3" x2="611.7" y2="235.3" stroke="#000" stroke-width="1.4" /><line x1="626.3" y1="231.3" x2="626.3" y2="233.8" stroke="#000" stroke-width="1.4" /><line x1="641" y1="231.3" x2="641" y2="235.3" stroke="#000" stroke-width="1.4" /><line x1="655.6" y1="231.3" x2="655.6" y2="233.8" stroke="#000" stroke-width="1.4" /><text x="406.5" y="251.3" font-size="16" text-anchor="middle" font-weight="bold" fill="#000" font-family='"Liberation Serif", serif' >0</text><text x="435.8" y="251.3" font-size="16" text-anchor="middle" font-weight="bold" fill="#000" font-family='"Liberation Serif", serif' >25</text><text x="465.1" y="251.3" font-size="16" text-anchor="middle" font-weight="bold" fill="#000" font-family='"Liberation Serif", serif' >50</text><text x="494.4" y="251.3" font-size="16" text-anchor="middle" font-weight="bold" fill="#000" font-family='"Liberation Serif", serif' >75</text><text x="523.7" y="251.3" font-size="16" text-anchor="middle" font-weight="bold" fill="#000" font-family='"Liberation Serif", serif' >100</text><text x="553.1" y="251.3" font-size="16" text-anchor="middle" font-weight="bold" fill="#000" font-family='"Liberation Serif", serif' >125</text><text x="582.4" y="251.3" font-size="16" text-anchor="middle" font-weight="bold" fill="#000" font-family='"Liberation Serif", serif' >150</text><text x="611.7" y="251.3" font-size="16" text-anchor="middle" font-weight="bold" fill="#000" font-family='"Liberation Serif", serif' >175</text><text x="641" y="251.3" font-size="16" text-anchor="middle" font-weight="bold" fill="#000" font-family='"Liberation Serif", serif' >200</text><text x="670.3" y="251.3" font-size="16" text-anchor="middle" font-weight="bold" fill="#000" font-family='"Liberation Serif", serif' >225</text><text x="537" y="273" font-size="17.7" text-anchor="middle" font-weight="bold" fill="#000" font-family='"Liberation Serif", serif' >Time (days)</text><text x="0" y="0" font-size="17.8" text-anchor="middle" font-weight="bold" fill="#000" font-family='"Liberation Serif", serif' transform="translate(356.3,119.5) rotate(-90)">PLQY (%)</text><text x="341.5" y="17.5" font-size="25.5" text-anchor="start" font-weight="bold" fill="#000" font-family='"Liberation Serif", serif' >b</text><path d="M410.2 39V47.6" stroke="#1f5d78" stroke-width="1.2"/><path d="M426.3 37.5V58.5M424.1 37.5H428.5M424.1 58.5H428.5" stroke="#1f5d78" stroke-width="1.25" fill="none"/><path d="M431.5 47.2V55.8" stroke="#1f5d78" stroke-width="1.2"/><path d="M441.3 56V75.2M439.1 56H443.5M439.1 75.2H443.5" stroke="#1f5d78" stroke-width="1.25" fill="none"/><path d="M447.3 59.5V68.1" stroke="#1f5d78" stroke-width="1.2"/><path d="M455.7 54.5V76M453.5 54.5H457.9M453.5 76H457.9" stroke="#1f5d78" stroke-width="1.25" fill="none"/><path d="M471.8 59.5V68.1" stroke="#1f5d78" stroke-width="1.2"/><path d="M503.4 59.8V76M501.2 59.8H505.6M501.2 76H505.6" stroke="#1f5d78" stroke-width="1.25" fill="none"/><path d="M520.8 52.9V61.5" stroke="#1f5d78" stroke-width="1.2"/><path d="M529 53.5V71.6M526.8 53.5H531.2M526.8 71.6H531.2" stroke="#1f5d78" stroke-width="1.25" fill="none"/><path d="M551.1 54.2V62.8" stroke="#1f5d78" stroke-width="1.2"/><path d="M578.9 48V56.6" stroke="#1f5d78" stroke-width="1.2"/><path d="M610.7 46.5V62.2M608.5 46.5H612.9M608.5 62.2H612.9" stroke="#1f5d78" stroke-width="1.25" fill="none"/><path d="M651.4 54.2V62.8" stroke="#1f5d78" stroke-width="1.2"/><circle cx="410.2" cy="43.3" r="4.3" fill="#a5d0ea"/><circle cx="426.3" cy="48.4" r="4.3" fill="#a5d0ea"/><circle cx="431.5" cy="51.5" r="4.3" fill="#a5d0ea"/><circle cx="441.3" cy="65.5" r="4.3" fill="#a5d0ea"/><circle cx="447.3" cy="63.8" r="4.3" fill="#a5d0ea"/><circle cx="455.7" cy="65.2" r="4.3" fill="#a5d0ea"/><circle cx="471.8" cy="63.8" r="4.3" fill="#a5d0ea"/><circle cx="503.4" cy="67.7" r="4.3" fill="#a5d0ea"/><circle cx="520.8" cy="57.2" r="4.3" fill="#a5d0ea"/><circle cx="529" cy="62.7" r="4.3" fill="#a5d0ea"/><circle cx="551.1" cy="58.5" r="4.3" fill="#a5d0ea"/><circle cx="578.9" cy="52.3" r="4.3" fill="#a5d0ea"/><circle cx="610.7" cy="54.2" r="4.3" fill="#a5d0ea"/><circle cx="651.4" cy="58.5" r="4.3" fill="#a5d0ea"/><path d="M410.2 38.9V47.7M408.1 40.3H412.3M408.1 46.3H412.3" stroke="#1f5d78" stroke-width="1.2" fill="none"/><path d="M431.5 47.1V55.9M429.4 48.5H433.6M429.4 54.5H433.6" stroke="#1f5d78" stroke-width="1.2" fill="none"/><path d="M447.3 59.4V68.2M445.2 61.2H449.4M445.2 66.4H449.4" stroke="#1f5d78" stroke-width="1.2" fill="none"/><path d="M471.8 59.4V68.2M469.7 60.2H473.9M469.7 67.4H473.9" stroke="#1f5d78" stroke-width="1.2" fill="none"/><path d="M520.8 52.8V61.6M518.7 53.6H522.9M518.7 60.8H522.9" stroke="#1f5d78" stroke-width="1.2" fill="none"/><path d="M551.1 54.1V62.9M549 56.9H553.2M549 60.1H553.2" stroke="#1f5d78" stroke-width="1.2" fill="none"/><path d="M578.9 47.9V56.7M576.8 50.7H581M576.8 53.9H581" stroke="#1f5d78" stroke-width="1.2" fill="none"/><path d="M651.4 54.1V62.9M649.3 56.9H653.5M649.3 60.1H653.5" stroke="#1f5d78" stroke-width="1.2" fill="none"/><rect x="53" y="287.8" width="264.2" height="212.1" fill="none" stroke="#000" stroke-width="1.55"/><line x1="49" y1="499.9" x2="53" y2="499.9" stroke="#000" stroke-width="1.4" /><line x1="50.5" y1="480.6" x2="53" y2="480.6" stroke="#000" stroke-width="1.4" /><line x1="49" y1="461.3" x2="53" y2="461.3" stroke="#000" stroke-width="1.4" /><line x1="50.5" y1="442.1" x2="53" y2="442.1" stroke="#000" stroke-width="1.4" /><line x1="49" y1="422.8" x2="53" y2="422.8" stroke="#000" stroke-width="1.4" /><line x1="50.5" y1="403.5" x2="53" y2="403.5" stroke="#000" stroke-width="1.4" /><line x1="49" y1="384.2" x2="53" y2="384.2" stroke="#000" stroke-width="1.4" /><line x1="50.5" y1="364.9" x2="53" y2="364.9" stroke="#000" stroke-width="1.4" /><line x1="49" y1="345.6" x2="53" y2="345.6" stroke="#000" stroke-width="1.4" /><line x1="50.5" y1="326.4" x2="53" y2="326.4" stroke="#000" stroke-width="1.4" /><line x1="49" y1="307.1" x2="53" y2="307.1" stroke="#000" stroke-width="1.4" /><text x="45.6" y="505.5" font-size="16.3" text-anchor="end" font-weight="bold" fill="#000" font-family='"Liberation Serif", serif' >0.0</text><text x="45.6" y="466.9" font-size="16.3" text-anchor="end" font-weight="bold" fill="#000" font-family='"Liberation Serif", serif' >0.2</text><text x="45.6" y="428.4" font-size="16.3" text-anchor="end" font-weight="bold" fill="#000" font-family='"Liberation Serif", serif' >0.4</text><text x="45.6" y="389.8" font-size="16.3" text-anchor="end" font-weight="bold" fill="#000" font-family='"Liberation Serif", serif' >0.6</text><text x="45.6" y="351.2" font-size="16.3" text-anchor="end" font-weight="bold" fill="#000" font-family='"Liberation Serif", serif' >0.8</text><text x="45.6" y="312.7" font-size="16.3" text-anchor="end" font-weight="bold" fill="#000" font-family='"Liberation Serif", serif' >1.0</text><line x1="77" y1="499.9" x2="77" y2="503.9" stroke="#000" stroke-width="1.4" /><line x1="101" y1="499.9" x2="101" y2="502.4" stroke="#000" stroke-width="1.4" /><line x1="125.1" y1="499.9" x2="125.1" y2="503.9" stroke="#000" stroke-width="1.4" /><line x1="149.1" y1="499.9" x2="149.1" y2="502.4" stroke="#000" stroke-width="1.4" /><line x1="173.1" y1="499.9" x2="173.1" y2="503.9" stroke="#000" stroke-width="1.4" /><line x1="197.1" y1="499.9" x2="197.1" y2="502.4" stroke="#000" stroke-width="1.4" /><line x1="221.1" y1="499.9" x2="221.1" y2="503.9" stroke="#000" stroke-width="1.4" /><line x1="245.1" y1="499.9" x2="245.1" y2="502.4" stroke="#000" stroke-width="1.4" /><line x1="269.2" y1="499.9" x2="269.2" y2="503.9" stroke="#000" stroke-width="1.4" /><line x1="293.2" y1="499.9" x2="293.2" y2="502.4" stroke="#000" stroke-width="1.4" /><line x1="317.2" y1="499.9" x2="317.2" y2="503.9" stroke="#000" stroke-width="1.4" /><text x="77" y="520" font-size="16.3" text-anchor="middle" font-weight="bold" fill="#000" font-family='"Liberation Serif", serif' >0</text><text x="125.1" y="520" font-size="16.3" text-anchor="middle" font-weight="bold" fill="#000" font-family='"Liberation Serif", serif' >20</text><text x="173.1" y="520" font-size="16.3" text-anchor="middle" font-weight="bold" fill="#000" font-family='"Liberation Serif", serif' >40</text><text x="221.1" y="520" font-size="16.3" text-anchor="middle" font-weight="bold" fill="#000" font-family='"Liberation Serif", serif' >60</text><text x="269.2" y="520" font-size="16.3" text-anchor="middle" font-weight="bold" fill="#000" font-family='"Liberation Serif", serif' >80</text><text x="317.2" y="520" font-size="16.3" text-anchor="middle" font-weight="bold" fill="#000" font-family='"Liberation Serif", serif' >100</text><text x="184" y="541" font-size="17.7" text-anchor="middle" font-weight="bold" fill="#000" font-family='"Liberation Serif", serif' >Time (min)</text><text x="0" y="0" font-size="17.8" text-anchor="middle" font-weight="bold" fill="#000" font-family='"Liberation Serif", serif' transform="translate(16.3,403.3) rotate(-90)">Norm. intensity (arb. units)</text><text x="4.8" y="287.2" font-size="25.5" text-anchor="start" font-weight="bold" fill="#000" font-family='"Liberation Serif", serif' >c</text><path d="M77 307.1 L89 336.8 L113 370.9 L149.1 377.7 L173.1 387.1 L293.2 399.4" fill="none" stroke="#f07474" stroke-width="1.4" stroke-linejoin="round" /><path d="M77 300.7L83.3 311L70.8 311Z" fill="#f0394a"/><path d="M89 330.4L95.3 340.7L82.8 340.7Z" fill="#f0394a"/><path d="M113 364.5L119.3 374.8L106.8 374.8Z" fill="#f0394a"/><path d="M149.1 371.3L155.3 381.5L142.8 381.5Z" fill="#f0394a"/><path d="M173.1 380.7L179.3 391L166.8 391Z" fill="#f0394a"/><path d="M293.2 393.1L299.4 403.3L286.9 403.3Z" fill="#f0394a"/><path d="M77 307.1 L89 306.3 L125.1 313.3 L149.1 310.7 L221.1 314.4 L293.2 316.9" fill="none" stroke="#86c0e4" stroke-width="1.5" stroke-linejoin="round" /><circle cx="77" cy="307.1" r="5" fill="#4d97d0" fill-opacity="0.92"/><circle cx="89" cy="306.3" r="5" fill="#4d97d0" fill-opacity="0.92"/><circle cx="125.1" cy="313.3" r="5" fill="#4d97d0" fill-opacity="0.92"/><circle cx="149.1" cy="310.7" r="5" fill="#4d97d0" fill-opacity="0.92"/><circle cx="221.1" cy="314.4" r="5" fill="#4d97d0" fill-opacity="0.92"/><circle cx="293.2" cy="316.9" r="5" fill="#4d97d0" fill-opacity="0.92"/><line x1="61.5" y1="458.6" x2="98" y2="458.6" stroke="#f07474" stroke-width="1.4" /><path d="M80 452.2L86.2 462.5L73.8 462.5Z" fill="#f0394a"/><line x1="61.5" y1="482.5" x2="98" y2="482.5" stroke="#86c0e4" stroke-width="1.5" /><circle cx="80" cy="482.5" r="5" fill="#4d97d0"/><text x="102.5" y="465.6" font-size="16" text-anchor="start" font-weight="bold" fill="#000" font-family='"Liberation Serif", serif' >Au<tspan font-size="10.5" dy="3">3</tspan></text><text x="102.5" y="488.6" font-size="16" text-anchor="start" font-weight="bold" fill="#000" font-family='"Liberation Serif", serif' >Au<tspan font-size="10.5" dy="3">3</tspan><tspan dy="-3">-CD film</tspan></text><text x="309.5" y="467" font-size="18.2" text-anchor="end" font-weight="bold" fill="#000" font-family='"Liberation Serif", serif' ><tspan font-style="italic">λ</tspan><tspan font-size="11.5" dy="3.5">ex</tspan><tspan dy="-3.5"> = 300 nm</tspan></text><text x="309.5" y="488" font-size="18.2" text-anchor="end" font-weight="bold" fill="#000" font-family='"Liberation Serif", serif' ><tspan font-style="italic">λ</tspan><tspan font-size="11.5" dy="3.5">em</tspan><tspan dy="-3.5">= 670 nm</tspan></text><rect x="404.3" y="287.5" width="264.7" height="212.5" fill="none" stroke="#000" stroke-width="1.55"/><line x1="400.3" y1="500" x2="404.3" y2="500" stroke="#000" stroke-width="1.4" /><line x1="401.8" y1="478.8" x2="404.3" y2="478.8" stroke="#000" stroke-width="1.4" /><line x1="400.3" y1="457.5" x2="404.3" y2="457.5" stroke="#000" stroke-width="1.4" /><line x1="401.8" y1="436.2" x2="404.3" y2="436.2" stroke="#000" stroke-width="1.4" /><line x1="400.3" y1="415" x2="404.3" y2="415" stroke="#000" stroke-width="1.4" /><line x1="401.8" y1="393.8" x2="404.3" y2="393.8" stroke="#000" stroke-width="1.4" /><line x1="400.3" y1="372.5" x2="404.3" y2="372.5" stroke="#000" stroke-width="1.4" /><line x1="401.8" y1="351.2" x2="404.3" y2="351.2" stroke="#000" stroke-width="1.4" /><line x1="400.3" y1="330" x2="404.3" y2="330" stroke="#000" stroke-width="1.4" /><line x1="401.8" y1="308.8" x2="404.3" y2="308.8" stroke="#000" stroke-width="1.4" /><line x1="400.3" y1="287.5" x2="404.3" y2="287.5" stroke="#000" stroke-width="1.4" /><text x="397.5" y="505" font-size="14.8" text-anchor="end" font-weight="bold" fill="#000" font-family='"Liberation Serif", serif' >0.0</text><text x="397.5" y="462.8" font-size="14.6" text-anchor="end" font-weight="bold" fill="#000" font-family='"Liberation Serif", serif' letter-spacing="-0.35">4.8x10<tspan font-size="10.5" dy="-4.5">5</tspan></text><text x="397.5" y="420.3" font-size="14.6" text-anchor="end" font-weight="bold" fill="#000" font-family='"Liberation Serif", serif' letter-spacing="-0.35">9.6x10<tspan font-size="10.5" dy="-4.5">5</tspan></text><text x="397.5" y="377.8" font-size="14.6" text-anchor="end" font-weight="bold" fill="#000" font-family='"Liberation Serif", serif' letter-spacing="-0.35">1.4x10<tspan font-size="10.5" dy="-4.5">6</tspan></text><text x="397.5" y="335.3" font-size="14.6" text-anchor="end" font-weight="bold" fill="#000" font-family='"Liberation Serif", serif' letter-spacing="-0.35">1.9x10<tspan font-size="10.5" dy="-4.5">6</tspan></text><text x="397.5" y="292.8" font-size="14.6" text-anchor="end" font-weight="bold" fill="#000" font-family='"Liberation Serif", serif' letter-spacing="-0.35">2.4x10<tspan font-size="10.5" dy="-4.5">6</tspan></text><line x1="405.3" y1="500" x2="405.3" y2="504" stroke="#000" stroke-width="1.4" /><line x1="431.6" y1="500" x2="431.6" y2="502.5" stroke="#000" stroke-width="1.4" /><line x1="457.8" y1="500" x2="457.8" y2="504" stroke="#000" stroke-width="1.4" /><line x1="484.1" y1="500" x2="484.1" y2="502.5" stroke="#000" stroke-width="1.4" /><line x1="510.3" y1="500" x2="510.3" y2="504" stroke="#000" stroke-width="1.4" /><line x1="536.5" y1="500" x2="536.5" y2="502.5" stroke="#000" stroke-width="1.4" /><line x1="562.8" y1="500" x2="562.8" y2="504" stroke="#000" stroke-width="1.4" /><line x1="589" y1="500" x2="589" y2="502.5" stroke="#000" stroke-width="1.4" /><line x1="615.3" y1="500" x2="615.3" y2="504" stroke="#000" stroke-width="1.4" /><line x1="641.5" y1="500" x2="641.5" y2="502.5" stroke="#000" stroke-width="1.4" /><line x1="667.8" y1="500" x2="667.8" y2="504" stroke="#000" stroke-width="1.4" /><text x="405.3" y="519.5" font-size="15" text-anchor="middle" font-weight="bold" fill="#000" font-family='"Liberation Serif", serif' >400</text><text x="457.8" y="519.5" font-size="15" text-anchor="middle" font-weight="bold" fill="#000" font-family='"Liberation Serif", serif' >500</text><text x="510.3" y="519.5" font-size="15" text-anchor="middle" font-weight="bold" fill="#000" font-family='"Liberation Serif", serif' >600</text><text x="562.8" y="519.5" font-size="15" text-anchor="middle" font-weight="bold" fill="#000" font-family='"Liberation Serif", serif' >700</text><text x="615.3" y="519.5" font-size="15" text-anchor="middle" font-weight="bold" fill="#000" font-family='"Liberation Serif", serif' >800</text><text x="667.8" y="519.5" font-size="15" text-anchor="middle" font-weight="bold" fill="#000" font-family='"Liberation Serif", serif' >900</text><text x="537" y="541" font-size="17.7" text-anchor="middle" font-weight="bold" fill="#000" font-family='"Liberation Serif", serif' >Wavelength (nm)</text><text x="0" y="0" font-size="17.8" text-anchor="middle" font-weight="bold" fill="#000" font-family='"Liberation Serif", serif' transform="translate(352.8,386.5) rotate(-90)">Intensity (arb. units)</text><text x="335.5" y="288" font-size="25.5" text-anchor="start" font-weight="bold" fill="#000" font-family='"Liberation Serif", serif' >d</text><path d="M405.3 449.2 405.8 448.0 406.4 446.7 406.9 445.5 407.4 444.2 407.9 443.0 408.4 441.7 409.0 440.4 409.5 439.1 410.0 437.8 410.6 436.5 411.1 435.2 411.6 433.9 412.1 432.7 412.7 431.4 413.2 430.1 413.7 428.8 414.2 427.5 414.8 426.2 415.3 424.9 415.8 423.7 416.3 422.4 416.9 421.2 417.4 419.9 417.9 418.7 418.4 417.5 418.9 416.3 419.5 415.1 420.0 414.0 420.5 412.8 421.1 411.7 421.6 410.6 422.1 409.5 422.6 408.5 423.2 407.5 423.7 406.5 424.2 405.5 424.7 404.6 425.2 403.7 425.8 402.8 426.3 401.9 426.8 401.1 427.4 400.3 427.9 399.6 428.4 398.9 428.9 398.2 429.4 397.5 430.0 396.9 430.5 396.4 431.0 395.8 431.6 395.4 432.1 394.9 432.6 394.5 433.1 394.1 433.6 393.8 434.2 393.5 434.7 393.3 435.2 393.1 435.8 393.0 436.3 392.9 436.8 392.8 437.3 392.8 437.9 392.8 438.4 392.9 438.9 393.0 439.4 393.1 439.9 393.3 440.5 393.5 441.0 393.8 441.5 394.1 442.1 394.4 442.6 394.8 443.1 395.2 443.6 395.6 444.1 396.1 444.7 396.6 445.2 397.2 445.7 397.8 446.2 398.4 446.8 399.0 447.3 399.7 447.8 400.4 448.4 401.2 448.9 401.9 449.4 402.7 449.9 403.6 450.4 404.4 451.0 405.3 451.5 406.2 452.0 407.2 452.6 408.1 453.1 409.1 453.6 410.1 454.1 411.1 454.6 412.2 455.2 413.2 455.7 414.3 456.2 415.4 456.8 416.5 457.3 417.7 457.8 418.8 458.3 420.0 458.9 421.1 459.4 422.3 459.9 423.5 460.4 424.7 460.9 425.9 461.5 427.1 462.0 428.4 462.5 429.6 463.1 430.8 463.6 432.0 464.1 433.3 464.6 434.5 465.1 435.7 465.7 437.0 466.2 438.2 466.7 439.4 467.2 440.6 467.8 441.9 468.3 443.1 468.8 444.3 469.4 445.5 469.9 446.7 470.4 447.9 470.9 449.0 471.4 450.2 472.0 451.4 472.5 452.5 473.0 453.7 473.6 454.8 474.1 455.9 474.6 457.0 475.1 458.1 475.6 459.1 476.2 460.2 476.7 461.2 477.2 462.3 477.8 463.3 478.3 464.3 478.8 465.3 479.3 466.2 479.9 467.2 480.4 468.1 480.9 469.0 481.4 469.9 481.9 470.8 482.5 471.7 483.0 472.5 483.5 473.3 484.1 474.2 484.6 474.9 485.1 475.7 485.6 476.5 486.1 477.2 486.7 477.9 487.2 478.6 487.7 479.3 488.2 480.0 488.8 480.7 489.3 481.3 489.8 482.0 490.4 482.6 490.9 482.9 491.4 484.2 491.9 484.6 492.4 484.6 493.0 485.2 493.5 485.9 494.0 486.5 494.6 487.0 495.1 487.2 495.6 487.2 496.1 488.4 496.6 487.9 497.2 488.6 497.7 489.4 498.2 489.4 498.8 490.5 499.3 490.9 499.8 491.1 500.3 491.1 500.9 491.4 501.4 491.7 501.9 491.8 502.4 492.8 502.9 492.2 503.5 493.0 504.0 493.0 504.5 493.2 505.1 493.6 505.6 493.9 506.1 494.0 506.6 493.8 507.1 493.8 507.7 494.0 508.2 494.6 508.7 494.7 509.2 494.9 509.8 494.6 510.3 495.4 510.8 494.6 511.3 495.2 511.9 495.4 512.4 495.1 512.9 495.0 513.5 495.3 514.0 495.2 514.5 495.5 515.0 495.2 515.5 495.3 516.1 495.7 516.6 495.3 517.1 495.7 517.6 495.7 518.2 496.0 518.7 495.8 519.2 495.6 519.8 496.1 520.3 495.6 520.8 495.7 521.3 495.7 521.9 496.4 522.4 495.8 522.9 495.6 523.4 495.9 524.0 495.7 524.5 496.3 525.0 495.5 525.5 495.8 526.0 495.4 526.6 496.1 527.1 495.4 527.6 495.6 528.1 495.3 528.7 495.7 529.2 495.6 529.7 494.8 530.2 495.6 530.8 495.5 531.3 495.3 531.8 495.5 532.4 494.8 532.9 494.7 533.4 495.3 533.9 495.5 534.5 494.7 535.0 494.7 535.5 494.7 536.0 494.6 536.5 495.1 537.1 494.9 537.6 495.2 538.1 495.2 538.6 494.5 539.2 494.9 539.7 494.1 540.2 494.7 540.8 494.9 541.3 494.4 541.8 494.1 542.3 494.5 542.9 495.0 543.4 494.5 543.9 494.2 544.4 494.8 545.0 494.8 545.5 494.3 546.0 494.6 546.5 495.0 547.0 494.8 547.6 494.9 548.1 494.6 548.6 494.7 549.1 494.4 549.7 494.5 550.2 495.2 550.7 494.7 551.2 494.6 551.8 494.7 552.3 494.6 552.8 495.1 553.4 495.2 553.9 494.7 554.4 495.3 554.9 495.7 555.5 494.8 556.0 495.3 556.5 495.3 557.0 495.6 557.5 495.6 558.1 495.6 558.6 495.5 559.1 495.3 559.6 496.1 560.2 495.3 560.7 495.9 561.2 495.9 561.8 495.5 562.3 495.8 562.8 496.2 563.3 495.4 563.9 496.1 564.4 495.9 564.9 496.0 565.4 495.7 566.0 496.2 566.5 495.9 567.0 496.4 567.5 496.0 568.0 496.5 568.6 496.5 569.1 496.0 569.6 496.4 570.1 496.5 570.7 496.0 571.2 496.6 571.7 496.9 572.2 496.6 572.8 497.1 573.3 496.6 573.8 496.6 574.4 497.1 574.9 497.2 575.4 497.0 575.9 497.1 576.5 497.4 577.0 497.1 577.5 497.8 578.0 497.4 578.5 497.5 579.1 497.5 579.6 497.4 580.1 497.8 580.6 497.4 581.2 497.6 581.7 497.8 582.2 498.0 582.8 498.0 583.3 497.7 583.8 498.0 584.3 497.8 584.9 497.6 585.4 497.7 585.9 497.6 586.4 498.0 587.0 498.3 587.5 497.8 588.0 498.0 588.5 497.9 589.0 498.1 589.6 497.9 590.1 498.0 590.6 498.1 591.1 498.2 591.7 498.2 592.2 498.3 592.7 498.3 593.2 498.2 593.8 498.5 594.3 498.1 594.8 498.5 595.4 498.3 595.9 498.5 596.4 498.6 596.9 498.1 597.5 498.6 598.0 498.9 598.5 498.8 599.0 498.7 599.5 498.2 600.1 498.6 600.6 498.5 601.1 498.9 601.6 498.7 602.2 498.6 602.7 498.4 603.2 498.9 603.8 498.7 604.3 498.8 604.8 499.0 605.3 498.9 605.9 498.9 606.4 499.3 606.9 498.8 607.4 498.8 607.9 499.0 608.5 499.2 609.0 498.6 609.5 498.9 610.0 498.8 610.6 498.7 611.1 499.1 611.6 498.8 612.1 499.1 612.7 499.0 613.2 499.1 613.7 499.0 614.2 498.8 614.8 499.0 615.3 499.1 615.8 499.1 616.3 499.0 616.9 499.3 617.4 499.2 617.9 499.1 618.4 499.2 619.0 499.2 619.5 499.3 620.0 498.8 620.5 498.9 621.1 499.1 621.6 499.2 622.1 498.8 622.6 499.1 623.2 499.2 623.7 499.1 624.2 499.1 624.8 498.9 625.3 499.2 625.8 498.8 626.3 499.4 626.8 499.1 627.4 499.4 627.9 498.9 628.4 499.3 628.9 499.3 629.5 499.1 630.0 499.0 630.5 499.5 631.0 499.3 631.6 499.5 632.1 499.3 632.6 499.3 633.1 499.4 633.7 499.4 634.2 499.4 634.7 499.4 635.2 499.2 635.8 499.0 636.3 499.7 636.8 499.1 637.3 499.3 637.9 499.8 638.4 501.0 638.9 499.8 639.4 501.0 640.0 499.2 640.5 499.3 641.0 500.6 641.5 498.8 642.1 498.8 642.6 499.6 643.1 498.1 643.6 498.0 644.2 500.3 644.7 498.5 645.2 498.8 645.8 499.3 646.3 498.9 646.8 499.6 647.3 499.5 647.8 500.1 648.4 500.1 648.9 499.6 649.4 500.5 649.9 500.4 650.5 499.0 651.0 499.7 651.5 499.4 652.0 500.6 652.6 500.1 653.1 499.8 653.6 499.3 654.1 499.7 654.7 498.8 655.2 499.5 655.7 499.6 656.2 499.1 656.8 498.8 657.3 500.0 657.8 498.6 658.3 499.0 658.9 499.2 659.4 499.1 659.9 498.8 660.4 498.8 661.0 498.8 661.5 499.4 662.0 498.8 662.5 499.3 663.1 498.1 663.6 499.5 664.1 501.3 664.6 498.6 665.2 499.4 665.7 500.5 666.2 499.8 666.8 500.2 667.3 497.9 667.8 499.2" fill="none" stroke="#4a57b2" stroke-width="1.25" stroke-linejoin="round" /><path d="M405.3 455.7 405.8 456.5 406.4 457.2 406.9 457.8 407.4 458.3 407.9 458.8 408.4 459.2 409.0 459.5 409.5 459.8 410.0 460.0 410.6 460.1 411.1 460.2 411.6 460.3 412.1 460.3 412.7 460.3 413.2 460.2 413.7 460.1 414.2 460.0 414.8 459.8 415.3 459.7 415.8 459.5 416.3 459.2 416.9 459.0 417.4 458.7 417.9 458.5 418.4 458.2 418.9 457.9 419.5 457.6 420.0 457.3 420.5 456.9 421.1 456.6 421.6 456.3 422.1 455.9 422.6 455.6 423.2 455.3 423.7 455.0 424.2 454.6 424.7 454.3 425.2 454.0 425.8 453.7 426.3 453.4 426.8 453.1 427.4 452.8 427.9 452.5 428.4 452.3 428.9 452.0 429.4 451.8 430.0 451.5 430.5 451.3 431.0 451.1 431.6 450.9 432.1 450.7 432.6 450.6 433.1 450.4 433.6 450.3 434.2 450.2 434.7 450.1 435.2 450.0 435.8 450.0 436.3 449.9 436.8 449.9 437.3 449.9 437.9 449.9 438.4 449.9 438.9 450.0 439.4 450.0 439.9 450.1 440.5 450.2 441.0 450.3 441.5 450.4 442.1 450.6 442.6 450.7 443.1 450.9 443.6 451.1 444.1 451.3 444.7 451.5 445.2 451.7 445.7 451.9 446.2 452.2 446.8 452.5 447.3 452.8 447.8 453.1 448.4 453.4 448.9 453.7 449.4 454.0 449.9 454.4 450.4 454.8 451.0 455.1 451.5 455.5 452.0 455.9 452.6 456.3 453.1 456.8 453.6 457.2 454.1 457.6 454.6 458.1 455.2 458.5 455.7 459.0 456.2 459.5 456.8 460.0 457.3 460.4 457.8 460.9 458.3 461.5 458.9 462.0 459.4 462.5 459.9 463.0 460.4 463.5 460.9 464.1 461.5 464.6 462.0 465.1 462.5 465.7 463.1 466.2 463.6 466.8 464.1 467.3 464.6 467.9 465.1 468.4 465.7 469.0 466.2 469.5 466.7 470.1 467.2 470.6 467.8 471.2 468.3 471.7 468.8 472.2 469.4 472.8 469.9 473.3 470.4 473.9 470.9 474.4 471.4 474.9 472.0 475.5 472.5 476.0 473.0 476.5 473.6 477.0 474.1 477.5 474.6 478.1 475.1 478.6 475.6 479.0 476.2 479.5 476.7 480.0 477.2 480.5 477.8 481.0 478.3 481.4 478.8 481.9 479.3 482.4 479.9 482.8 480.4 483.2 480.9 483.7 481.4 484.1 481.9 484.5 482.5 484.9 483.0 485.3 483.5 485.7 484.1 486.1 484.6 486.5 485.1 486.8 485.6 487.2 486.1 487.6 486.7 487.9 487.2 488.2 487.7 488.6 488.2 488.9 488.8 489.2 489.3 489.5 489.8 489.5 490.4 489.8 490.9 490.2 491.4 491.2 491.9 490.7 492.4 491.6 493.0 491.7 493.5 491.5 494.0 492.0 494.6 491.9 495.1 491.3 495.6 492.3 496.1 492.5 496.6 493.2 497.2 493.3 497.7 493.6 498.2 493.6 498.8 494.0 499.3 494.0 499.8 494.0 500.3 494.4 500.9 494.6 501.4 494.7 501.9 494.3 502.4 494.5 502.9 494.3 503.5 494.4 504.0 494.9 504.5 494.7 505.1 495.3 505.6 494.3 506.1 494.7 506.6 495.1 507.1 495.4 507.7 494.9 508.2 495.6 508.7 495.2 509.2 494.8 509.8 494.9 510.3 495.0 510.8 494.5 511.3 494.9 511.9 494.4 512.4 494.5 512.9 494.4 513.5 493.8 514.0 494.0 514.5 492.8 515.0 493.3 515.5 492.2 516.1 492.8 516.6 491.9 517.1 492.0 517.6 491.6 518.2 490.6 518.7 489.9 519.2 490.0 519.8 488.5 520.3 488.6 520.8 487.6 521.3 486.7 521.9 485.8 522.4 485.9 522.9 483.7 523.4 483.2 524.0 482.6 524.5 481.8 525.0 481.1 525.5 479.8 526.0 477.9 526.6 477.1 527.1 476.2 527.6 474.7 528.1 472.4 528.7 472.0 529.2 470.7 529.7 468.4 530.2 467.4 530.8 466.2 531.3 465.1 531.8 464.1 532.4 462.5 532.9 460.7 533.4 459.1 533.9 457.3 534.5 455.7 535.0 454.5 535.5 453.1 536.0 452.4 536.5 451.8 537.1 449.5 537.6 448.6 538.1 447.2 538.6 445.8 539.2 445.4 539.7 444.3 540.2 442.7 540.8 441.8 541.3 441.5 541.8 440.1 542.3 440.0 542.9 440.1 543.4 439.0 543.9 437.6 544.4 439.1 545.0 437.8 545.5 437.8 546.0 437.8 546.5 439.6 547.0 438.1 547.6 439.8 548.1 440.6 548.6 441.2 549.1 441.4 549.7 442.5 550.2 443.5 550.7 443.5 551.2 445.7 551.8 446.9 552.3 446.9 552.8 448.1 553.4 449.0 553.9 451.5 554.4 451.4 554.9 453.0 555.5 453.5 556.0 456.5 556.5 457.0 557.0 458.5 557.5 460.5 558.1 461.3 558.6 461.6 559.1 463.7 559.6 465.1 560.2 465.5 560.7 466.7 561.2 467.9 561.8 470.0 562.3 470.8 562.8 471.4 563.3 473.3 563.9 474.4 564.4 474.8 564.9 475.5 565.4 477.7 566.0 479.3 566.5 479.7 567.0 480.4 567.5 480.9 568.0 481.5 568.6 482.6 569.1 483.6 569.6 484.1 570.1 485.2 570.7 485.6 571.2 486.5 571.7 485.9 572.2 487.2 572.8 488.4 573.3 489.0 573.8 489.3 574.4 490.3 574.9 490.4 575.4 490.9 575.9 490.8 576.5 491.6 577.0 492.1 577.5 492.7 578.0 493.0 578.5 493.0 579.1 493.4 579.6 493.3 580.1 494.1 580.6 493.8 581.2 494.3 581.7 494.7 582.2 495.4 582.8 495.5 583.3 495.1 583.8 495.1 584.3 495.6 584.9 495.6 585.4 496.1 585.9 496.3 586.4 496.5 587.0 496.2 587.5 496.5 588.0 496.7 588.5 496.9 589.0 496.8 589.6 496.9 590.1 497.3 590.6 496.8 591.1 497.2 591.7 497.3 592.2 497.1 592.7 497.2 593.2 497.6 593.8 497.5 594.3 497.9 594.8 497.9 595.4 498.3 595.9 497.6 596.4 498.3 596.9 497.8 597.5 498.2 598.0 498.3 598.5 498.1 599.0 498.1 599.5 498.0 600.1 497.8 600.6 498.1 601.1 498.1 601.6 498.4 602.2 498.2 602.7 498.3 603.2 498.5 603.8 498.4 604.3 498.4 604.8 498.4 605.3 498.4 605.9 498.6 606.4 498.7 606.9 498.4 607.4 498.9 607.9 498.7 608.5 498.3 609.0 499.2 609.5 498.8 610.0 498.5 610.6 499.0 611.1 498.1 611.6 499.2 612.1 498.4 612.7 498.4 613.2 498.6 613.7 498.8 614.2 498.7 614.8 499.0 615.3 498.6 615.8 499.1 616.3 498.9 616.9 498.7 617.4 499.1 617.9 499.0 618.4 498.9 619.0 499.2 619.5 498.7 620.0 498.9 620.5 499.2 621.1 499.0 621.6 499.1 622.1 499.1 622.6 499.0 623.2 499.1 623.7 498.8 624.2 499.2 624.8 498.8 625.3 499.0 625.8 498.9 626.3 499.2 626.8 499.2 627.4 499.3 627.9 499.0 628.4 498.9 628.9 498.7 629.5 498.9 630.0 499.1 630.5 499.2 631.0 499.1 631.6 499.1 632.1 498.9 632.6 499.0 633.1 499.3 633.7 499.3 634.2 498.9 634.7 499.1 635.2 499.2 635.8 499.0 636.3 499.3 636.8 500.8 637.3 500.0 637.9 498.3 638.4 499.3 638.9 500.4 639.4 499.4 640.0 499.5 640.5 499.2 641.0 499.6 641.5 499.5 642.1 499.9 642.6 499.1 643.1 500.1 643.6 499.4 644.2 499.3 644.7 498.4 645.2 498.7 645.8 499.3 646.3 498.8 646.8 499.0 647.3 498.6 647.8 498.8 648.4 497.9 648.9 498.6 649.4 499.2 649.9 499.6 650.5 498.6 651.0 498.9 651.5 499.7 652.0 500.6 652.6 500.3 653.1 499.1 653.6 499.1 654.1 498.8 654.7 500.4 655.2 499.0 655.7 500.2 656.2 499.4 656.8 499.1 657.3 500.0 657.8 499.9 658.3 500.8 658.9 500.0 659.4 501.1 659.9 499.2 660.4 499.5 661.0 499.0 661.5 499.3 662.0 499.9 662.5 499.3 663.1 500.0 663.6 499.1 664.1 498.9 664.6 500.4 665.2 499.8 665.7 499.4 666.2 499.6 666.8 498.8 667.3 498.5 667.8 499.6" fill="none" stroke="#b3b0e0" stroke-width="1.25" stroke-linejoin="round" /><path d="M405.3 483.0 405.8 483.9 406.4 484.7 406.9 485.4 407.4 486.1 407.9 486.6 408.4 487.1 409.0 487.6 409.5 488.0 410.0 488.4 410.6 488.7 411.1 489.0 411.6 489.2 412.1 489.5 412.7 489.7 413.2 489.9 413.7 490.1 414.2 490.3 414.8 490.4 415.3 490.6 415.8 490.7 416.3 490.9 416.9 491.0 417.4 491.1 417.9 491.2 418.4 491.3 418.9 491.4 419.5 491.5 420.0 491.6 420.5 491.7 421.1 491.8 421.6 491.9 422.1 492.0 422.6 492.1 423.2 492.2 423.7 492.3 424.2 492.3 424.7 492.4 425.2 492.5 425.8 492.6 426.3 492.6 426.8 492.7 427.4 492.8 427.9 492.9 428.4 492.9 428.9 493.0 429.4 493.1 430.0 493.1 430.5 493.2 431.0 493.3 431.6 493.3 432.1 493.4 432.6 493.5 433.1 493.5 433.6 493.6 434.2 493.6 434.7 493.7 435.2 493.8 435.8 493.8 436.3 493.9 436.8 493.9 437.3 494.0 437.9 494.0 438.4 494.1 438.9 494.1 439.4 494.2 439.9 494.3 440.5 494.3 441.0 494.4 441.5 494.4 442.1 494.5 442.6 494.5 443.1 494.6 443.6 494.6 444.1 494.7 444.7 494.7 445.2 494.7 445.7 494.8 446.2 494.8 446.8 494.9 447.3 494.9 447.8 495.0 448.4 495.0 448.9 495.0 449.4 495.1 449.9 495.1 450.4 495.2 451.0 495.2 451.5 495.2 452.0 495.3 452.6 495.3 453.1 495.4 453.6 495.4 454.1 495.4 454.6 495.5 455.2 495.5 455.7 495.5 456.2 495.6 456.8 495.6 457.3 495.6 457.8 495.6 458.3 495.7 458.9 495.7 459.4 495.7 459.9 495.8 460.4 495.8 460.9 495.8 461.5 495.8 462.0 495.9 462.5 495.9 463.1 495.9 463.6 495.9 464.1 496.0 464.6 496.0 465.1 496.0 465.7 496.0 466.2 496.0 466.7 496.1 467.2 496.1 467.8 496.1 468.3 496.1 468.8 496.1 469.4 496.1 469.9 496.1 470.4 496.2 470.9 496.2 471.4 496.2 472.0 496.2 472.5 496.2 473.0 496.2 473.6 496.2 474.1 496.2 474.6 496.2 475.1 496.2 475.6 496.2 476.2 496.2 476.7 496.2 477.2 496.2 477.8 496.2 478.3 496.2 478.8 496.2 479.3 496.2 479.9 496.2 480.4 496.2 480.9 496.2 481.4 496.2 481.9 496.2 482.5 496.2 483.0 496.2 483.5 496.2 484.1 496.2 484.6 496.2 485.1 496.1 485.6 496.1 486.1 496.1 486.7 496.1 487.2 496.1 487.7 496.0 488.2 496.0 488.8 496.0 489.3 496.0 489.8 496.0 490.4 496.3 490.9 495.7 491.4 495.6 491.9 495.2 492.4 495.3 493.0 495.5 493.5 495.7 494.0 495.8 494.6 495.7 495.1 495.7 495.6 495.5 496.1 496.1 496.6 495.3 497.2 495.3 497.7 494.5 498.2 494.9 498.8 495.2 499.3 494.8 499.8 495.2 500.3 494.9 500.9 495.1 501.4 494.1 501.9 494.2 502.4 494.5 502.9 494.1 503.5 493.6 504.0 493.5 504.5 493.4 505.1 493.5 505.6 493.2 506.1 492.7 506.6 492.2 507.1 492.5 507.7 492.2 508.2 491.1 508.7 491.4 509.2 490.3 509.8 490.2 510.3 489.5 510.8 488.6 511.3 488.4 511.9 487.8 512.4 487.7 512.9 487.0 513.5 485.7 514.0 484.5 514.5 483.7 515.0 482.4 515.5 482.2 516.1 481.2 516.6 479.7 517.1 479.0 517.6 477.7 518.2 476.9 518.7 474.5 519.2 474.0 519.8 471.7 520.3 471.0 520.8 468.0 521.3 467.3 521.9 464.5 522.4 463.8 522.9 461.1 523.4 458.1 524.0 457.1 524.5 454.3 525.0 452.3 525.5 451.0 526.0 446.9 526.6 444.3 527.1 442.7 527.6 438.9 528.1 437.1 528.7 434.5 529.2 431.0 529.7 428.6 530.2 423.7 530.8 423.5 531.3 418.9 531.8 415.8 532.4 415.1 532.9 412.0 533.4 407.3 533.9 405.2 534.5 401.7 535.0 398.2 535.5 396.6 536.0 394.5 536.5 393.2 537.1 388.2 537.6 386.6 538.1 383.1 538.6 380.9 539.2 380.1 539.7 375.3 540.2 373.9 540.8 372.3 541.3 372.4 541.8 370.2 542.3 369.0 542.9 367.7 543.4 367.4 543.9 365.2 544.4 364.7 545.0 364.1 545.5 364.6 546.0 362.9 546.5 364.0 547.0 366.9 547.6 365.5 548.1 365.6 548.6 365.5 549.1 367.6 549.7 368.7 550.2 370.3 550.7 370.6 551.2 373.1 551.8 374.9 552.3 376.8 552.8 377.6 553.4 380.5 553.9 383.5 554.4 383.7 554.9 387.0 555.5 388.5 556.0 390.8 556.5 392.5 557.0 395.1 557.5 398.8 558.1 401.0 558.6 404.3 559.1 404.6 559.6 408.0 560.2 409.8 560.7 413.6 561.2 417.4 561.8 417.3 562.3 420.8 562.8 423.2 563.3 425.7 563.9 427.6 564.4 430.1 564.9 433.8 565.4 434.3 566.0 437.6 566.5 439.8 567.0 440.5 567.5 443.1 568.0 446.0 568.6 448.9 569.1 449.6 569.6 451.3 570.1 453.5 570.7 456.0 571.2 457.4 571.7 459.4 572.2 460.2 572.8 461.4 573.3 462.9 573.8 465.3 574.4 466.2 574.9 467.4 575.4 469.3 575.9 470.4 576.5 470.5 577.0 472.6 577.5 473.4 578.0 475.1 578.5 476.0 579.1 477.7 579.6 477.9 580.1 478.3 580.6 478.8 581.2 480.1 581.7 481.1 582.2 482.1 582.8 483.1 583.3 483.6 583.8 484.0 584.3 485.2 584.9 485.1 585.4 486.4 585.9 487.2 586.4 487.5 587.0 488.2 587.5 488.6 588.0 488.1 588.5 489.0 589.0 489.3 589.6 489.3 590.1 489.7 590.6 490.6 591.1 490.3 591.7 491.0 592.2 491.4 592.7 491.5 593.2 492.4 593.8 492.4 594.3 492.5 594.8 492.5 595.4 493.0 595.9 493.1 596.4 493.0 596.9 493.0 597.5 493.4 598.0 493.4 598.5 494.1 599.0 494.2 599.5 494.2 600.1 494.5 600.6 494.7 601.1 494.2 601.6 494.8 602.2 495.2 602.7 494.9 603.2 494.6 603.8 495.2 604.3 495.0 604.8 495.5 605.3 495.6 605.9 495.8 606.4 495.7 606.9 495.2 607.4 496.1 607.9 495.4 608.5 496.2 609.0 496.1 609.5 495.9 610.0 496.0 610.6 496.1 611.1 496.7 611.6 496.2 612.1 496.6 612.7 495.8 613.2 496.5 613.7 496.5 614.2 496.9 614.8 496.7 615.3 497.0 615.8 496.4 616.3 496.8 616.9 496.6 617.4 497.0 617.9 497.0 618.4 496.6 619.0 497.2 619.5 497.4 620.0 496.9 620.5 497.3 621.1 497.2 621.6 496.9 622.1 497.3 622.6 497.0 623.2 497.4 623.7 496.9 624.2 496.9 624.8 497.4 625.3 497.4 625.8 497.5 626.3 497.3 626.8 497.1 627.4 497.8 627.9 497.2 628.4 497.8 628.9 497.7 629.5 497.9 630.0 497.0 630.5 497.6 631.0 497.5 631.6 497.8 632.1 497.4 632.6 498.1 633.1 497.7 633.7 497.2 634.2 497.8 634.7 497.7 635.2 497.6 635.8 498.0 636.3 497.8 636.8 496.8 637.3 498.0 637.9 498.1 638.4 496.4 638.9 498.4 639.4 498.3 640.0 497.6 640.5 498.6 641.0 499.6 641.5 497.8 642.1 498.4 642.6 498.3 643.1 498.5 643.6 499.2 644.2 499.1 644.7 497.8 645.2 496.7 645.8 497.7 646.3 497.6 646.8 499.0 647.3 498.2 647.8 499.1 648.4 497.8 648.9 498.0 649.4 498.0 649.9 498.3 650.5 499.0 651.0 499.5 651.5 497.8 652.0 499.4 652.6 499.0 653.1 498.5 653.6 498.8 654.1 498.0 654.7 497.5 655.2 498.4 655.7 498.3 656.2 497.9 656.8 498.1 657.3 499.8 657.8 497.9 658.3 499.1 658.9 499.5 659.4 498.8 659.9 498.6 660.4 497.9 661.0 497.4 661.5 500.1 662.0 498.3 662.5 497.4 663.1 497.9 663.6 497.7 664.1 498.5 664.6 499.4 665.2 499.1 665.7 498.3 666.2 497.6 666.8 499.2 667.3 499.0 667.8 498.5" fill="none" stroke="#80ccf0" stroke-width="1.25" stroke-linejoin="round" /><path d="M405.3 493.5 405.8 493.6 406.4 493.6 406.9 493.7 407.4 493.8 407.9 493.8 408.4 493.9 409.0 493.9 409.5 494.0 410.0 494.1 410.6 494.1 411.1 494.2 411.6 494.2 412.1 494.3 412.7 494.3 413.2 494.4 413.7 494.5 414.2 494.5 414.8 494.6 415.3 494.6 415.8 494.7 416.3 494.7 416.9 494.8 417.4 494.8 417.9 494.9 418.4 494.9 418.9 495.0 419.5 495.0 420.0 495.0 420.5 495.1 421.1 495.1 421.6 495.2 422.1 495.2 422.6 495.3 423.2 495.3 423.7 495.3 424.2 495.4 424.7 495.4 425.2 495.5 425.8 495.5 426.3 495.5 426.8 495.6 427.4 495.6 427.9 495.6 428.4 495.7 428.9 495.7 429.4 495.8 430.0 495.8 430.5 495.8 431.0 495.9 431.6 495.9 432.1 495.9 432.6 496.0 433.1 496.0 433.6 496.0 434.2 496.0 434.7 496.1 435.2 496.1 435.8 496.1 436.3 496.2 436.8 496.2 437.3 496.2 437.9 496.2 438.4 496.3 438.9 496.3 439.4 496.3 439.9 496.3 440.5 496.4 441.0 496.4 441.5 496.4 442.1 496.4 442.6 496.4 443.1 496.5 443.6 496.5 444.1 496.5 444.7 496.5 445.2 496.5 445.7 496.6 446.2 496.6 446.8 496.6 447.3 496.6 447.8 496.6 448.4 496.6 448.9 496.7 449.4 496.7 449.9 496.7 450.4 496.7 451.0 496.7 451.5 496.7 452.0 496.7 452.6 496.7 453.1 496.8 453.6 496.8 454.1 496.8 454.6 496.8 455.2 496.8 455.7 496.8 456.2 496.8 456.8 496.8 457.3 496.8 457.8 496.8 458.3 496.8 458.9 496.8 459.4 496.8 459.9 496.8 460.4 496.8 460.9 496.8 461.5 496.8 462.0 496.8 462.5 496.8 463.1 496.8 463.6 496.8 464.1 496.8 464.6 496.8 465.1 496.8 465.7 496.8 466.2 496.8 466.7 496.8 467.2 496.8 467.8 496.8 468.3 496.8 468.8 496.8 469.4 496.8 469.9 496.8 470.4 496.8 470.9 496.7 471.4 496.7 472.0 496.7 472.5 496.7 473.0 496.7 473.6 496.7 474.1 496.7 474.6 496.6 475.1 496.6 475.6 496.6 476.2 496.6 476.7 496.6 477.2 496.5 477.8 496.5 478.3 496.5 478.8 496.5 479.3 496.4 479.9 496.4 480.4 496.4 480.9 496.3 481.4 496.3 481.9 496.3 482.5 496.2 483.0 496.2 483.5 496.2 484.1 496.1 484.6 496.1 485.1 496.1 485.6 496.0 486.1 496.0 486.7 495.9 487.2 495.9 487.7 495.8 488.2 495.8 488.8 495.7 489.3 495.6 489.8 495.7 490.4 495.9 490.9 495.8 491.4 495.3 491.9 495.1 492.4 495.1 493.0 495.1 493.5 495.2 494.0 494.9 494.6 495.3 495.1 494.8 495.6 494.2 496.1 494.2 496.6 494.6 497.2 494.4 497.7 493.7 498.2 493.5 498.8 494.3 499.3 493.8 499.8 493.4 500.3 492.9 500.9 493.3 501.4 492.6 501.9 492.7 502.4 491.5 502.9 491.9 503.5 491.7 504.0 491.5 504.5 490.6 505.1 490.4 505.6 490.6 506.1 489.7 506.6 489.7 507.1 489.0 507.7 488.7 508.2 488.1 508.7 487.2 509.2 486.7 509.8 485.4 510.3 484.5 510.8 484.1 511.3 483.5 511.9 481.8 512.4 482.0 512.9 480.9 513.5 478.7 514.0 477.5 514.5 476.2 515.0 475.4 515.5 474.5 516.1 472.7 516.6 470.7 517.1 469.8 517.6 468.1 518.2 466.7 518.7 464.8 519.2 461.8 519.8 460.1 520.3 458.9 520.8 456.8 521.3 454.3 521.9 451.4 522.4 450.1 522.9 447.1 523.4 445.9 524.0 442.8 524.5 439.2 525.0 436.2 525.5 434.9 526.0 431.9 526.6 428.0 527.1 426.0 527.6 423.2 528.1 419.5 528.7 416.8 529.2 413.1 529.7 410.4 530.2 408.4 530.8 405.1 531.3 402.0 531.8 400.0 532.4 396.8 532.9 392.2 533.4 391.4 533.9 386.3 534.5 384.1 535.0 381.6 535.5 378.3 536.0 375.7 536.5 372.4 537.1 371.3 537.6 368.8 538.1 366.5 538.6 362.3 539.2 361.1 539.7 360.8 540.2 358.4 540.8 357.1 541.3 354.8 541.8 353.2 542.3 350.0 542.9 352.8 543.4 349.2 543.9 349.0 544.4 349.5 545.0 348.5 545.5 348.6 546.0 348.0 546.5 347.2 547.0 349.8 547.6 347.6 548.1 349.8 548.6 348.7 549.1 350.6 549.7 350.9 550.2 352.7 550.7 353.6 551.2 356.0 551.8 358.3 552.3 358.6 552.8 360.4 553.4 361.0 553.9 366.7 554.4 367.1 554.9 368.1 555.5 372.4 556.0 373.8 556.5 374.0 557.0 377.0 557.5 381.4 558.1 381.9 558.6 384.6 559.1 387.4 559.6 390.3 560.2 392.9 560.7 396.4 561.2 398.6 561.8 400.2 562.3 403.2 562.8 404.4 563.3 408.5 563.9 412.6 564.4 413.5 564.9 415.5 565.4 417.8 566.0 420.4 566.5 423.4 567.0 424.1 567.5 427.9 568.0 429.2 568.6 432.1 569.1 434.9 569.6 435.2 570.1 439.9 570.7 440.8 571.2 442.0 571.7 444.4 572.2 445.6 572.8 448.0 573.3 450.0 573.8 450.2 574.4 453.3 574.9 454.9 575.4 457.1 575.9 458.4 576.5 459.2 577.0 460.7 577.5 462.4 578.0 464.1 578.5 464.7 579.1 467.3 579.6 467.8 580.1 468.9 580.6 470.4 581.2 471.0 581.7 472.5 582.2 473.6 582.8 473.3 583.3 474.8 583.8 475.5 584.3 476.9 584.9 477.4 585.4 478.3 585.9 478.9 586.4 479.1 587.0 481.0 587.5 481.4 588.0 482.2 588.5 484.3 589.0 484.0 589.6 484.0 590.1 484.3 590.6 485.3 591.1 485.2 591.7 485.6 592.2 486.7 592.7 486.5 593.2 486.8 593.8 487.7 594.3 488.6 594.8 488.1 595.4 489.0 595.9 489.4 596.4 489.6 596.9 490.1 597.5 489.9 598.0 490.3 598.5 490.4 599.0 490.9 599.5 491.6 600.1 491.6 600.6 491.5 601.1 492.1 601.6 491.2 602.2 492.4 602.7 492.7 603.2 492.4 603.8 492.7 604.3 493.1 604.8 493.3 605.3 493.2 605.9 493.3 606.4 493.4 606.9 493.9 607.4 493.8 607.9 493.8 608.5 493.9 609.0 495.2 609.5 494.6 610.0 494.7 610.6 494.6 611.1 494.6 611.6 494.5 612.1 494.7 612.7 495.0 613.2 495.0 613.7 494.6 614.2 495.3 614.8 495.2 615.3 494.9 615.8 495.3 616.3 496.0 616.9 495.4 617.4 495.7 617.9 495.7 618.4 495.4 619.0 495.6 619.5 495.9 620.0 495.6 620.5 495.8 621.1 495.9 621.6 495.9 622.1 496.0 622.6 496.2 623.2 496.3 623.7 496.2 624.2 496.5 624.8 496.6 625.3 496.0 625.8 496.4 626.3 496.4 626.8 496.5 627.4 496.5 627.9 496.5 628.4 496.5 628.9 496.8 629.5 496.4 630.0 496.8 630.5 496.4 631.0 497.2 631.6 497.0 632.1 496.5 632.6 496.8 633.1 497.0 633.7 496.8 634.2 497.2 634.7 496.9 635.2 497.5 635.8 497.1 636.3 497.2 636.8 497.7 637.3 497.1 637.9 497.7 638.4 496.5 638.9 498.6 639.4 497.1 640.0 497.2 640.5 497.0 641.0 498.2 641.5 497.4 642.1 497.8 642.6 497.2 643.1 497.1 643.6 496.8 644.2 497.2 644.7 496.4 645.2 499.6 645.8 497.9 646.3 497.2 646.8 498.6 647.3 496.6 647.8 498.4 648.4 497.2 648.9 498.2 649.4 498.0 649.9 497.3 650.5 497.8 651.0 497.6 651.5 495.9 652.0 497.6 652.6 498.2 653.1 496.9 653.6 497.2 654.1 496.6 654.7 496.5 655.2 498.3 655.7 497.2 656.2 496.9 656.8 497.7 657.3 497.8 657.8 500.0 658.3 498.4 658.9 496.4 659.4 499.3 659.9 498.2 660.4 497.3 661.0 497.4 661.5 497.1 662.0 499.2 662.5 497.7 663.1 497.4 663.6 498.7 664.1 497.9 664.6 496.6 665.2 497.1 665.7 497.8 666.2 499.9 666.8 498.1 667.3 497.7 667.8 498.2" fill="none" stroke="#1aa9e6" stroke-width="1.25" stroke-linejoin="round" /><path d="M405.3 496.2 405.8 496.2 406.4 496.2 406.9 496.3 407.4 496.3 407.9 496.3 408.4 496.4 409.0 496.4 409.5 496.5 410.0 496.5 410.6 496.5 411.1 496.6 411.6 496.6 412.1 496.6 412.7 496.7 413.2 496.7 413.7 496.7 414.2 496.8 414.8 496.8 415.3 496.8 415.8 496.8 416.3 496.9 416.9 496.9 417.4 496.9 417.9 497.0 418.4 497.0 418.9 497.0 419.5 497.0 420.0 497.1 420.5 497.1 421.1 497.1 421.6 497.1 422.1 497.2 422.6 497.2 423.2 497.2 423.7 497.2 424.2 497.3 424.7 497.3 425.2 497.3 425.8 497.3 426.3 497.3 426.8 497.4 427.4 497.4 427.9 497.4 428.4 497.4 428.9 497.4 429.4 497.5 430.0 497.5 430.5 497.5 431.0 497.5 431.6 497.5 432.1 497.5 432.6 497.6 433.1 497.6 433.6 497.6 434.2 497.6 434.7 497.6 435.2 497.6 435.8 497.6 436.3 497.7 436.8 497.7 437.3 497.7 437.9 497.7 438.4 497.7 438.9 497.7 439.4 497.7 439.9 497.7 440.5 497.7 441.0 497.7 441.5 497.8 442.1 497.8 442.6 497.8 443.1 497.8 443.6 497.8 444.1 497.8 444.7 497.8 445.2 497.8 445.7 497.8 446.2 497.8 446.8 497.8 447.3 497.8 447.8 497.8 448.4 497.8 448.9 497.8 449.4 497.8 449.9 497.8 450.4 497.8 451.0 497.8 451.5 497.8 452.0 497.8 452.6 497.8 453.1 497.8 453.6 497.8 454.1 497.8 454.6 497.8 455.2 497.8 455.7 497.8 456.2 497.8 456.8 497.8 457.3 497.8 457.8 497.8 458.3 497.8 458.9 497.8 459.4 497.8 459.9 497.8 460.4 497.8 460.9 497.8 461.5 497.8 462.0 497.7 462.5 497.7 463.1 497.7 463.6 497.7 464.1 497.7 464.6 497.7 465.1 497.7 465.7 497.7 466.2 497.6 466.7 497.6 467.2 497.6 467.8 497.6 468.3 497.6 468.8 497.6 469.4 497.5 469.9 497.5 470.4 497.5 470.9 497.5 471.4 497.5 472.0 497.4 472.5 497.4 473.0 497.4 473.6 497.4 474.1 497.4 474.6 497.3 475.1 497.3 475.6 497.3 476.2 497.2 476.7 497.2 477.2 497.2 477.8 497.1 478.3 497.1 478.8 497.1 479.3 497.0 479.9 497.0 480.4 497.0 480.9 496.9 481.4 496.9 481.9 496.9 482.5 496.8 483.0 496.8 483.5 496.7 484.1 496.7 484.6 496.6 485.1 496.6 485.6 496.5 486.1 496.5 486.7 496.4 487.2 496.4 487.7 496.3 488.2 496.2 488.8 496.2 489.3 496.1 489.8 496.0 490.4 496.2 490.9 495.6 491.4 495.8 491.9 495.7 492.4 495.5 493.0 495.5 493.5 495.5 494.0 495.2 494.6 495.3 495.1 495.1 495.6 495.1 496.1 495.2 496.6 494.9 497.2 494.7 497.7 494.4 498.2 493.8 498.8 494.5 499.3 493.8 499.8 494.2 500.3 493.7 500.9 493.3 501.4 493.5 501.9 493.1 502.4 492.2 502.9 491.9 503.5 491.6 504.0 491.5 504.5 490.1 505.1 490.5 505.6 490.2 506.1 488.9 506.6 488.7 507.1 488.5 507.7 487.4 508.2 487.1 508.7 486.2 509.2 485.7 509.8 485.4 510.3 483.8 510.8 483.3 511.3 482.8 511.9 481.8 512.4 480.1 512.9 479.6 513.5 478.2 514.0 476.8 514.5 475.8 515.0 475.2 515.5 472.9 516.1 471.3 516.6 469.8 517.1 467.9 517.6 466.9 518.2 464.9 518.7 462.7 519.2 461.9 519.8 458.9 520.3 456.9 520.8 455.4 521.3 452.7 521.9 451.2 522.4 450.0 522.9 446.5 523.4 444.7 524.0 442.2 524.5 440.0 525.0 436.7 525.5 434.7 526.0 433.0 526.6 429.5 527.1 426.7 527.6 425.1 528.1 422.2 528.7 419.4 529.2 416.8 529.7 413.4 530.2 410.1 530.8 406.7 531.3 404.4 531.8 401.8 532.4 398.9 532.9 396.1 533.4 394.7 533.9 391.2 534.5 388.9 535.0 386.7 535.5 384.4 536.0 382.0 536.5 379.4 537.1 377.9 537.6 374.2 538.1 372.5 538.6 370.3 539.2 368.2 539.7 366.0 540.2 365.4 540.8 363.3 541.3 363.2 541.8 362.4 542.3 360.9 542.9 356.6 543.4 358.8 543.9 355.8 544.4 354.2 545.0 355.5 545.5 353.2 546.0 352.8 546.5 353.5 547.0 352.3 547.6 354.1 548.1 355.7 548.6 355.1 549.1 356.6 549.7 358.2 550.2 359.1 550.7 356.8 551.2 360.6 551.8 361.4 552.3 363.3 552.8 364.1 553.4 366.0 553.9 367.8 554.4 370.3 554.9 372.3 555.5 373.5 556.0 374.6 556.5 375.1 557.0 378.0 557.5 379.5 558.1 382.8 558.6 385.5 559.1 388.7 559.6 389.9 560.2 393.9 560.7 394.7 561.2 395.4 561.8 398.8 562.3 400.5 562.8 404.0 563.3 407.0 563.9 408.7 564.4 410.9 564.9 411.9 565.4 413.6 566.0 417.9 566.5 419.8 567.0 421.9 567.5 424.2 568.0 426.9 568.6 428.1 569.1 430.0 569.6 432.0 570.1 435.1 570.7 436.4 571.2 439.4 571.7 439.5 572.2 442.6 572.8 444.0 573.3 445.9 573.8 447.7 574.4 449.7 574.9 451.7 575.4 451.3 575.9 453.7 576.5 455.3 577.0 455.7 577.5 458.4 578.0 459.5 578.5 461.1 579.1 461.9 579.6 463.5 580.1 464.9 580.6 466.4 581.2 467.3 581.7 468.0 582.2 470.7 582.8 470.8 583.3 472.0 583.8 472.9 584.3 474.6 584.9 474.3 585.4 475.9 585.9 476.5 586.4 477.4 587.0 478.7 587.5 479.0 588.0 480.3 588.5 480.6 589.0 481.0 589.6 481.6 590.1 482.2 590.6 482.8 591.1 482.5 591.7 483.8 592.2 484.9 592.7 485.2 593.2 485.7 593.8 486.0 594.3 486.6 594.8 487.2 595.4 486.6 595.9 487.6 596.4 488.2 596.9 488.5 597.5 488.8 598.0 488.6 598.5 489.2 599.0 489.3 599.5 491.1 600.1 490.2 600.6 490.2 601.1 490.2 601.6 491.1 602.2 491.9 602.7 491.4 603.2 492.0 603.8 492.5 604.3 492.4 604.8 492.0 605.3 492.2 605.9 492.5 606.4 493.2 606.9 492.3 607.4 493.6 607.9 493.4 608.5 493.9 609.0 493.2 609.5 493.6 610.0 493.6 610.6 494.0 611.1 494.1 611.6 494.2 612.1 494.9 612.7 494.2 613.2 494.3 613.7 494.8 614.2 494.7 614.8 494.7 615.3 494.5 615.8 494.9 616.3 495.1 616.9 495.3 617.4 495.6 617.9 495.5 618.4 495.3 619.0 495.5 619.5 495.5 620.0 495.4 620.5 495.5 621.1 495.6 621.6 495.6 622.1 495.7 622.6 495.9 623.2 495.8 623.7 496.4 624.2 495.7 624.8 496.4 625.3 495.9 625.8 496.1 626.3 495.9 626.8 496.2 627.4 496.5 627.9 496.0 628.4 496.3 628.9 496.4 629.5 496.4 630.0 496.2 630.5 496.3 631.0 496.5 631.6 497.0 632.1 496.7 632.6 496.6 633.1 496.2 633.7 496.6 634.2 496.8 634.7 496.5 635.2 496.8 635.8 496.8 636.3 496.8 636.8 496.4 637.3 496.5 637.9 497.2 638.4 498.2 638.9 497.4 639.4 496.3 640.0 496.9 640.5 497.5 641.0 496.9 641.5 497.9 642.1 497.5 642.6 497.3 643.1 497.9 643.6 498.0 644.2 497.1 644.7 497.5 645.2 497.4 645.8 497.2 646.3 497.3 646.8 498.1 647.3 497.7 647.8 496.9 648.4 496.4 648.9 496.3 649.4 498.8 649.9 496.9 650.5 497.0 651.0 497.5 651.5 497.6 652.0 496.6 652.6 496.2 653.1 498.5 653.6 497.1 654.1 497.8 654.7 498.0 655.2 496.7 655.7 497.2 656.2 498.7 656.8 498.0 657.3 497.6 657.8 499.0 658.3 496.8 658.9 498.1 659.4 497.3 659.9 497.3 660.4 496.8 661.0 497.8 661.5 497.8 662.0 496.7 662.5 498.5 663.1 498.2 663.6 498.4 664.1 497.5 664.6 497.6 665.2 497.6 665.7 497.9 666.2 498.1 666.8 498.6 667.3 498.3 667.8 497.6" fill="none" stroke="#a3cf93" stroke-width="1.25" stroke-linejoin="round" /><path d="M405.3 496.6 405.8 496.6 406.4 496.6 406.9 496.7 407.4 496.7 407.9 496.7 408.4 496.8 409.0 496.8 409.5 496.8 410.0 496.9 410.6 496.9 411.1 496.9 411.6 497.0 412.1 497.0 412.7 497.0 413.2 497.0 413.7 497.1 414.2 497.1 414.8 497.1 415.3 497.1 415.8 497.2 416.3 497.2 416.9 497.2 417.4 497.2 417.9 497.3 418.4 497.3 418.9 497.3 419.5 497.3 420.0 497.4 420.5 497.4 421.1 497.4 421.6 497.4 422.1 497.4 422.6 497.5 423.2 497.5 423.7 497.5 424.2 497.5 424.7 497.5 425.2 497.6 425.8 497.6 426.3 497.6 426.8 497.6 427.4 497.6 427.9 497.6 428.4 497.7 428.9 497.7 429.4 497.7 430.0 497.7 430.5 497.7 431.0 497.7 431.6 497.7 432.1 497.7 432.6 497.8 433.1 497.8 433.6 497.8 434.2 497.8 434.7 497.8 435.2 497.8 435.8 497.8 436.3 497.8 436.8 497.8 437.3 497.8 437.9 497.9 438.4 497.9 438.9 497.9 439.4 497.9 439.9 497.9 440.5 497.9 441.0 497.9 441.5 497.9 442.1 497.9 442.6 497.9 443.1 497.9 443.6 497.9 444.1 497.9 444.7 497.9 445.2 497.9 445.7 497.9 446.2 497.9 446.8 497.9 447.3 497.9 447.8 497.9 448.4 497.9 448.9 497.9 449.4 497.9 449.9 497.9 450.4 497.9 451.0 497.9 451.5 497.9 452.0 497.9 452.6 497.9 453.1 497.9 453.6 497.9 454.1 497.9 454.6 497.9 455.2 497.9 455.7 497.9 456.2 497.9 456.8 497.9 457.3 497.9 457.8 497.9 458.3 497.9 458.9 497.9 459.4 497.8 459.9 497.8 460.4 497.8 460.9 497.8 461.5 497.8 462.0 497.8 462.5 497.8 463.1 497.8 463.6 497.8 464.1 497.7 464.6 497.7 465.1 497.7 465.7 497.7 466.2 497.7 466.7 497.7 467.2 497.6 467.8 497.6 468.3 497.6 468.8 497.6 469.4 497.6 469.9 497.5 470.4 497.5 470.9 497.5 471.4 497.5 472.0 497.5 472.5 497.4 473.0 497.4 473.6 497.4 474.1 497.4 474.6 497.3 475.1 497.3 475.6 497.3 476.2 497.2 476.7 497.2 477.2 497.2 477.8 497.1 478.3 497.1 478.8 497.1 479.3 497.0 479.9 497.0 480.4 496.9 480.9 496.9 481.4 496.9 481.9 496.8 482.5 496.8 483.0 496.7 483.5 496.7 484.1 496.6 484.6 496.6 485.1 496.5 485.6 496.5 486.1 496.4 486.7 496.4 487.2 496.3 487.7 496.2 488.2 496.2 488.8 496.1 489.3 496.0 489.8 495.5 490.4 496.2 490.9 495.7 491.4 496.0 491.9 495.6 492.4 495.8 493.0 495.4 493.5 495.3 494.0 495.3 494.6 494.9 495.1 494.5 495.6 495.0 496.1 494.4 496.6 494.5 497.2 494.4 497.7 493.5 498.2 494.6 498.8 494.0 499.3 494.1 499.8 493.4 500.3 493.2 500.9 491.7 501.4 492.5 501.9 491.7 502.4 491.5 502.9 491.8 503.5 491.1 504.0 490.3 504.5 490.4 505.1 489.9 505.6 489.4 506.1 489.5 506.6 488.8 507.1 487.8 507.7 487.1 508.2 487.0 508.7 486.1 509.2 485.2 509.8 484.5 510.3 483.3 510.8 482.7 511.3 481.7 511.9 481.4 512.4 480.2 512.9 478.6 513.5 478.3 514.0 476.2 514.5 475.4 515.0 474.2 515.5 472.1 516.1 471.3 516.6 469.9 517.1 468.2 517.6 466.2 518.2 463.1 518.7 463.9 519.2 461.0 519.8 459.2 520.3 456.6 520.8 455.3 521.3 454.5 521.9 450.1 522.4 449.4 522.9 446.5 523.4 445.0 524.0 442.5 524.5 439.7 525.0 436.4 525.5 433.9 526.0 432.3 526.6 429.0 527.1 427.0 527.6 424.0 528.1 421.3 528.7 418.3 529.2 416.5 529.7 413.4 530.2 410.4 530.8 407.7 531.3 405.7 531.8 401.0 532.4 400.0 532.9 396.3 533.4 394.1 533.9 390.6 534.5 390.8 535.0 384.7 535.5 384.1 536.0 382.5 536.5 378.9 537.1 374.8 537.6 374.0 538.1 373.3 538.6 370.6 539.2 367.0 539.7 367.5 540.2 364.6 540.8 363.0 541.3 359.3 541.8 360.0 542.3 357.2 542.9 357.9 543.4 356.9 543.9 354.3 544.4 353.9 545.0 355.4 545.5 352.7 546.0 352.4 546.5 353.3 547.0 352.5 547.6 352.5 548.1 353.4 548.6 353.9 549.1 354.4 549.7 354.7 550.2 356.4 550.7 356.1 551.2 358.4 551.8 358.1 552.3 359.5 552.8 361.7 553.4 361.4 553.9 361.9 554.4 364.1 554.9 368.2 555.5 367.6 556.0 370.4 556.5 372.5 557.0 375.0 557.5 376.5 558.1 377.4 558.6 380.2 559.1 383.1 559.6 385.5 560.2 387.5 560.7 388.9 561.2 390.1 561.8 394.8 562.3 396.2 562.8 398.8 563.3 401.3 563.9 402.7 564.4 404.9 564.9 408.6 565.4 410.6 566.0 411.1 566.5 414.0 567.0 416.1 567.5 419.0 568.0 421.1 568.6 422.6 569.1 425.4 569.6 427.9 570.1 429.2 570.7 430.6 571.2 433.9 571.7 434.4 572.2 436.6 572.8 439.5 573.3 440.8 573.8 442.6 574.4 444.0 574.9 445.7 575.4 448.6 575.9 450.2 576.5 450.4 577.0 452.5 577.5 453.9 578.0 455.4 578.5 456.2 579.1 459.2 579.6 459.3 580.1 461.6 580.6 462.1 581.2 463.0 581.7 465.7 582.2 465.9 582.8 467.4 583.3 468.6 583.8 469.5 584.3 471.0 584.9 472.0 585.4 472.2 585.9 473.1 586.4 474.6 587.0 475.9 587.5 475.0 588.0 476.4 588.5 477.5 589.0 478.9 589.6 479.4 590.1 479.8 590.6 480.9 591.1 480.5 591.7 481.8 592.2 482.3 592.7 483.4 593.2 483.9 593.8 484.4 594.3 484.5 594.8 485.2 595.4 485.7 595.9 485.9 596.4 486.4 596.9 486.3 597.5 487.4 598.0 488.0 598.5 488.0 599.0 487.9 599.5 488.9 600.1 489.0 600.6 489.5 601.1 489.5 601.6 489.9 602.2 490.5 602.7 490.6 603.2 490.4 603.8 490.6 604.3 490.9 604.8 491.2 605.3 491.8 605.9 492.0 606.4 491.8 606.9 492.6 607.4 492.5 607.9 493.2 608.5 492.9 609.0 493.2 609.5 493.5 610.0 493.1 610.6 493.6 611.1 493.6 611.6 493.7 612.1 494.0 612.7 493.5 613.2 494.2 613.7 494.1 614.2 494.6 614.8 494.5 615.3 494.5 615.8 494.6 616.3 494.8 616.9 494.7 617.4 494.4 617.9 494.9 618.4 495.0 619.0 495.1 619.5 494.4 620.0 494.7 620.5 495.1 621.1 495.1 621.6 495.6 622.1 495.5 622.6 495.5 623.2 495.5 623.7 495.9 624.2 495.9 624.8 495.6 625.3 495.7 625.8 496.4 626.3 495.9 626.8 495.6 627.4 496.2 627.9 496.0 628.4 496.5 628.9 495.9 629.5 496.5 630.0 496.5 630.5 496.3 631.0 495.7 631.6 496.5 632.1 496.7 632.6 496.3 633.1 496.4 633.7 496.1 634.2 496.8 634.7 496.9 635.2 496.7 635.8 496.5 636.3 496.6 636.8 497.0 637.3 496.2 637.9 497.3 638.4 496.2 638.9 497.3 639.4 496.5 640.0 497.3 640.5 496.5 641.0 496.9 641.5 497.3 642.1 496.0 642.6 497.9 643.1 497.3 643.6 496.9 644.2 498.5 644.7 496.8 645.2 497.5 645.8 498.0 646.3 497.2 646.8 496.8 647.3 497.7 647.8 497.2 648.4 496.8 648.9 496.8 649.4 497.0 649.9 497.8 650.5 498.0 651.0 497.8 651.5 496.9 652.0 496.9 652.6 497.4 653.1 496.2 653.6 497.3 654.1 497.5 654.7 497.9 655.2 496.6 655.7 499.0 656.2 497.3 656.8 497.1 657.3 497.6 657.8 496.1 658.3 496.5 658.9 497.3 659.4 498.0 659.9 497.1 660.4 498.2 661.0 497.6 661.5 497.7 662.0 498.3 662.5 497.7 663.1 497.0 663.6 497.0 664.1 497.7 664.6 499.0 665.2 497.3 665.7 497.2 666.2 498.0 666.8 498.5 667.3 497.8 667.8 498.3" fill="none" stroke="#2ea852" stroke-width="1.25" stroke-linejoin="round" /><path d="M405.3 497.0 405.8 497.0 406.4 497.1 406.9 497.1 407.4 497.1 407.9 497.1 408.4 497.2 409.0 497.2 409.5 497.2 410.0 497.2 410.6 497.3 411.1 497.3 411.6 497.3 412.1 497.3 412.7 497.4 413.2 497.4 413.7 497.4 414.2 497.4 414.8 497.5 415.3 497.5 415.8 497.5 416.3 497.5 416.9 497.5 417.4 497.6 417.9 497.6 418.4 497.6 418.9 497.6 419.5 497.6 420.0 497.7 420.5 497.7 421.1 497.7 421.6 497.7 422.1 497.7 422.6 497.7 423.2 497.7 423.7 497.8 424.2 497.8 424.7 497.8 425.2 497.8 425.8 497.8 426.3 497.8 426.8 497.8 427.4 497.9 427.9 497.9 428.4 497.9 428.9 497.9 429.4 497.9 430.0 497.9 430.5 497.9 431.0 497.9 431.6 497.9 432.1 498.0 432.6 498.0 433.1 498.0 433.6 498.0 434.2 498.0 434.7 498.0 435.2 498.0 435.8 498.0 436.3 498.0 436.8 498.0 437.3 498.0 437.9 498.0 438.4 498.0 438.9 498.0 439.4 498.0 439.9 498.0 440.5 498.0 441.0 498.1 441.5 498.1 442.1 498.1 442.6 498.1 443.1 498.1 443.6 498.1 444.1 498.1 444.7 498.1 445.2 498.1 445.7 498.1 446.2 498.1 446.8 498.1 447.3 498.1 447.8 498.1 448.4 498.1 448.9 498.1 449.4 498.1 449.9 498.0 450.4 498.0 451.0 498.0 451.5 498.0 452.0 498.0 452.6 498.0 453.1 498.0 453.6 498.0 454.1 498.0 454.6 498.0 455.2 498.0 455.7 498.0 456.2 498.0 456.8 498.0 457.3 498.0 457.8 497.9 458.3 497.9 458.9 497.9 459.4 497.9 459.9 497.9 460.4 497.9 460.9 497.9 461.5 497.9 462.0 497.9 462.5 497.8 463.1 497.8 463.6 497.8 464.1 497.8 464.6 497.8 465.1 497.8 465.7 497.7 466.2 497.7 466.7 497.7 467.2 497.7 467.8 497.7 468.3 497.6 468.8 497.6 469.4 497.6 469.9 497.6 470.4 497.5 470.9 497.5 471.4 497.5 472.0 497.5 472.5 497.4 473.0 497.4 473.6 497.4 474.1 497.4 474.6 497.3 475.1 497.3 475.6 497.3 476.2 497.2 476.7 497.2 477.2 497.2 477.8 497.1 478.3 497.1 478.8 497.0 479.3 497.0 479.9 497.0 480.4 496.9 480.9 496.9 481.4 496.8 481.9 496.8 482.5 496.7 483.0 496.7 483.5 496.6 484.1 496.6 484.6 496.5 485.1 496.5 485.6 496.4 486.1 496.4 486.7 496.3 487.2 496.2 487.7 496.2 488.2 496.1 488.8 496.0 489.3 495.9 489.8 495.8 490.4 495.4 490.9 495.8 491.4 495.6 491.9 495.4 492.4 495.5 493.0 495.3 493.5 494.9 494.0 495.0 494.6 494.5 495.1 494.9 495.6 494.5 496.1 494.8 496.6 494.3 497.2 494.3 497.7 493.5 498.2 493.5 498.8 493.3 499.3 492.7 499.8 492.5 500.3 492.5 500.9 492.6 501.4 492.5 501.9 491.8 502.4 491.5 502.9 491.2 503.5 490.7 504.0 490.7 504.5 489.3 505.1 489.7 505.6 489.0 506.1 488.0 506.6 488.2 507.1 486.7 507.7 486.1 508.2 485.8 508.7 485.4 509.2 484.4 509.8 484.1 510.3 482.0 510.8 481.6 511.3 481.0 511.9 480.0 512.4 478.4 512.9 476.9 513.5 476.9 514.0 475.4 514.5 474.7 515.0 472.3 515.5 471.1 516.1 468.7 516.6 468.3 517.1 466.9 517.6 465.5 518.2 463.0 518.7 462.6 519.2 459.6 519.8 458.0 520.3 456.5 520.8 454.8 521.3 451.7 521.9 449.2 522.4 448.4 522.9 445.7 523.4 442.8 524.0 442.0 524.5 439.5 525.0 437.7 525.5 434.7 526.0 432.3 526.6 430.1 527.1 427.8 527.6 425.9 528.1 423.3 528.7 420.5 529.2 416.8 529.7 415.1 530.2 412.8 530.8 409.2 531.3 406.7 531.8 405.1 532.4 402.5 532.9 399.0 533.4 396.7 533.9 395.2 534.5 391.9 535.0 389.8 535.5 386.5 536.0 385.8 536.5 382.1 537.1 380.3 537.6 379.4 538.1 375.6 538.6 373.8 539.2 373.8 539.7 369.2 540.2 370.1 540.8 368.3 541.3 366.3 541.8 363.9 542.3 362.8 542.9 362.2 543.4 359.9 543.9 359.8 544.4 358.1 545.0 356.1 545.5 357.9 546.0 359.8 546.5 357.7 547.0 358.0 547.6 356.9 548.1 357.0 548.6 358.3 549.1 358.6 549.7 358.2 550.2 358.7 550.7 361.5 551.2 359.2 551.8 360.9 552.3 361.9 552.8 362.7 553.4 365.1 553.9 365.5 554.4 365.9 554.9 367.3 555.5 369.4 556.0 371.6 556.5 373.7 557.0 373.6 557.5 376.1 558.1 378.7 558.6 382.0 559.1 382.8 559.6 385.6 560.2 385.0 560.7 387.9 561.2 390.7 561.8 392.4 562.3 392.2 562.8 395.4 563.3 399.5 563.9 400.6 564.4 403.6 564.9 406.0 565.4 406.7 566.0 407.1 566.5 409.9 567.0 413.1 567.5 415.4 568.0 417.1 568.6 418.5 569.1 422.3 569.6 424.6 570.1 423.9 570.7 427.0 571.2 428.0 571.7 430.8 572.2 431.9 572.8 435.1 573.3 436.2 573.8 437.3 574.4 439.4 574.9 442.0 575.4 442.9 575.9 445.5 576.5 447.5 577.0 447.9 577.5 449.0 578.0 450.8 578.5 453.5 579.1 453.7 579.6 455.3 580.1 457.3 580.6 459.7 581.2 459.1 581.7 460.4 582.2 461.9 582.8 464.3 583.3 465.3 583.8 465.1 584.3 466.3 584.9 467.6 585.4 469.0 585.9 469.7 586.4 471.1 587.0 471.9 587.5 473.1 588.0 473.4 588.5 474.6 589.0 474.8 589.6 475.7 590.1 477.2 590.6 476.8 591.1 478.8 591.7 478.8 592.2 479.2 592.7 479.8 593.2 481.9 593.8 481.1 594.3 481.6 594.8 482.1 595.4 484.1 595.9 484.0 596.4 484.3 596.9 484.9 597.5 484.7 598.0 485.9 598.5 485.6 599.0 486.3 599.5 487.4 600.1 487.6 600.6 487.8 601.1 488.0 601.6 488.0 602.2 488.7 602.7 488.7 603.2 489.8 603.8 490.6 604.3 490.0 604.8 490.0 605.3 490.5 605.9 491.0 606.4 490.7 606.9 490.5 607.4 491.3 607.9 491.8 608.5 492.0 609.0 491.3 609.5 492.1 610.0 492.1 610.6 492.1 611.1 492.3 611.6 493.1 612.1 492.7 612.7 492.8 613.2 493.1 613.7 493.1 614.2 493.7 614.8 493.7 615.3 493.9 615.8 493.6 616.3 494.2 616.9 494.0 617.4 494.5 617.9 494.3 618.4 494.5 619.0 494.5 619.5 494.5 620.0 494.7 620.5 494.8 621.1 495.4 621.6 494.6 622.1 495.2 622.6 495.1 623.2 495.4 623.7 494.9 624.2 495.5 624.8 495.2 625.3 495.1 625.8 495.0 626.3 495.2 626.8 495.4 627.4 496.0 627.9 495.3 628.4 495.4 628.9 495.6 629.5 495.6 630.0 495.9 630.5 496.1 631.0 495.7 631.6 495.7 632.1 496.4 632.6 495.9 633.1 496.1 633.7 496.0 634.2 496.2 634.7 496.0 635.2 496.1 635.8 496.1 636.3 496.7 636.8 496.1 637.3 497.3 637.9 497.5 638.4 495.9 638.9 496.2 639.4 495.8 640.0 495.6 640.5 496.7 641.0 497.5 641.5 497.1 642.1 497.8 642.6 497.4 643.1 497.6 643.6 496.7 644.2 496.8 644.7 498.2 645.2 496.1 645.8 496.3 646.3 497.7 646.8 496.5 647.3 496.5 647.8 497.0 648.4 496.4 648.9 496.8 649.4 496.5 649.9 496.8 650.5 497.0 651.0 496.8 651.5 496.5 652.0 496.9 652.6 497.8 653.1 497.7 653.6 497.2 654.1 497.8 654.7 497.6 655.2 497.2 655.7 497.6 656.2 496.9 656.8 497.3 657.3 496.3 657.8 496.7 658.3 497.8 658.9 497.3 659.4 497.9 659.9 497.6 660.4 497.9 661.0 497.6 661.5 498.7 662.0 499.3 662.5 497.6 663.1 497.1 663.6 497.8 664.1 497.8 664.6 497.6 665.2 497.8 665.7 498.2 666.2 497.3 666.8 498.3 667.3 499.6 667.8 497.3" fill="none" stroke="#f29240" stroke-width="1.25" stroke-linejoin="round" /><path d="M405.3 497.4 405.8 497.5 406.4 497.5 406.9 497.5 407.4 497.5 407.9 497.6 408.4 497.6 409.0 497.6 409.5 497.6 410.0 497.6 410.6 497.7 411.1 497.7 411.6 497.7 412.1 497.7 412.7 497.7 413.2 497.8 413.7 497.8 414.2 497.8 414.8 497.8 415.3 497.8 415.8 497.8 416.3 497.9 416.9 497.9 417.4 497.9 417.9 497.9 418.4 497.9 418.9 497.9 419.5 497.9 420.0 498.0 420.5 498.0 421.1 498.0 421.6 498.0 422.1 498.0 422.6 498.0 423.2 498.0 423.7 498.0 424.2 498.1 424.7 498.1 425.2 498.1 425.8 498.1 426.3 498.1 426.8 498.1 427.4 498.1 427.9 498.1 428.4 498.1 428.9 498.1 429.4 498.1 430.0 498.1 430.5 498.2 431.0 498.2 431.6 498.2 432.1 498.2 432.6 498.2 433.1 498.2 433.6 498.2 434.2 498.2 434.7 498.2 435.2 498.2 435.8 498.2 436.3 498.2 436.8 498.2 437.3 498.2 437.9 498.2 438.4 498.2 438.9 498.2 439.4 498.2 439.9 498.2 440.5 498.2 441.0 498.2 441.5 498.2 442.1 498.2 442.6 498.2 443.1 498.2 443.6 498.2 444.1 498.2 444.7 498.2 445.2 498.2 445.7 498.2 446.2 498.2 446.8 498.2 447.3 498.2 447.8 498.2 448.4 498.2 448.9 498.2 449.4 498.2 449.9 498.2 450.4 498.2 451.0 498.2 451.5 498.2 452.0 498.2 452.6 498.2 453.1 498.1 453.6 498.1 454.1 498.1 454.6 498.1 455.2 498.1 455.7 498.1 456.2 498.1 456.8 498.1 457.3 498.1 457.8 498.1 458.3 498.0 458.9 498.0 459.4 498.0 459.9 498.0 460.4 498.0 460.9 498.0 461.5 498.0 462.0 497.9 462.5 497.9 463.1 497.9 463.6 497.9 464.1 497.9 464.6 497.9 465.1 497.8 465.7 497.8 466.2 497.8 466.7 497.8 467.2 497.8 467.8 497.7 468.3 497.7 468.8 497.7 469.4 497.7 469.9 497.6 470.4 497.6 470.9 497.6 471.4 497.6 472.0 497.5 472.5 497.5 473.0 497.5 473.6 497.5 474.1 497.4 474.6 497.4 475.1 497.4 475.6 497.3 476.2 497.3 476.7 497.3 477.2 497.2 477.8 497.2 478.3 497.1 478.8 497.1 479.3 497.1 479.9 497.0 480.4 497.0 480.9 496.9 481.4 496.9 481.9 496.8 482.5 496.8 483.0 496.7 483.5 496.7 484.1 496.6 484.6 496.6 485.1 496.5 485.6 496.5 486.1 496.4 486.7 496.3 487.2 496.3 487.7 496.2 488.2 496.1 488.8 496.0 489.3 496.0 489.8 495.7 490.4 496.0 490.9 495.6 491.4 495.5 491.9 495.5 492.4 495.9 493.0 495.6 493.5 495.3 494.0 494.5 494.6 495.1 495.1 494.8 495.6 494.9 496.1 494.5 496.6 494.1 497.2 494.6 497.7 494.6 498.2 493.4 498.8 493.3 499.3 493.3 499.8 492.5 500.3 492.2 500.9 492.9 501.4 492.0 501.9 491.2 502.4 491.4 502.9 490.9 503.5 490.1 504.0 490.1 504.5 489.9 505.1 489.3 505.6 489.0 506.1 487.8 506.6 488.0 507.1 486.4 507.7 486.7 508.2 485.4 508.7 485.3 509.2 484.0 509.8 482.7 510.3 481.8 510.8 480.8 511.3 480.4 511.9 479.4 512.4 478.3 512.9 477.0 513.5 476.3 514.0 474.5 514.5 473.6 515.0 471.9 515.5 470.9 516.1 469.4 516.6 468.7 517.1 467.0 517.6 466.0 518.2 463.8 518.7 462.1 519.2 459.9 519.8 459.3 520.3 455.0 520.8 455.0 521.3 452.3 521.9 450.5 522.4 450.6 522.9 447.3 523.4 444.1 524.0 444.4 524.5 440.3 525.0 439.2 525.5 436.7 526.0 433.9 526.6 433.1 527.1 429.4 527.6 427.6 528.1 425.4 528.7 422.0 529.2 417.6 529.7 417.5 530.2 414.9 530.8 413.0 531.3 411.1 531.8 408.0 532.4 404.7 532.9 403.4 533.4 400.5 533.9 399.1 534.5 394.6 535.0 395.7 535.5 391.7 536.0 389.6 536.5 387.7 537.1 386.8 537.6 384.8 538.1 382.1 538.6 380.0 539.2 379.3 539.7 377.5 540.2 374.4 540.8 372.4 541.3 372.4 541.8 371.1 542.3 369.9 542.9 365.9 543.4 366.6 543.9 366.1 544.4 364.3 545.0 362.4 545.5 362.7 546.0 364.6 546.5 363.0 547.0 363.0 547.6 362.7 548.1 363.5 548.6 362.8 549.1 363.6 549.7 362.6 550.2 363.2 550.7 365.0 551.2 365.9 551.8 365.5 552.3 365.3 552.8 366.3 553.4 367.8 553.9 371.8 554.4 370.4 554.9 371.9 555.5 372.8 556.0 375.0 556.5 375.7 557.0 377.5 557.5 376.1 558.1 379.5 558.6 381.9 559.1 383.5 559.6 385.3 560.2 386.8 560.7 389.1 561.2 390.7 561.8 391.7 562.3 393.7 562.8 396.1 563.3 397.2 563.9 400.0 564.4 402.9 564.9 405.4 565.4 406.6 566.0 408.0 566.5 409.6 567.0 411.1 567.5 414.3 568.0 416.4 568.6 417.1 569.1 418.7 569.6 421.8 570.1 423.1 570.7 424.2 571.2 426.8 571.7 428.9 572.2 432.1 572.8 431.5 573.3 433.8 573.8 435.8 574.4 437.9 574.9 440.1 575.4 441.0 575.9 442.6 576.5 443.4 577.0 446.4 577.5 446.3 578.0 448.7 578.5 449.4 579.1 452.2 579.6 452.8 580.1 453.7 580.6 455.6 581.2 457.8 581.7 458.5 582.2 459.2 582.8 461.5 583.3 462.7 583.8 463.0 584.3 464.7 584.9 464.9 585.4 467.0 585.9 468.3 586.4 468.8 587.0 468.6 587.5 470.8 588.0 471.3 588.5 472.0 589.0 473.5 589.6 473.3 590.1 474.6 590.6 475.2 591.1 477.0 591.7 477.7 592.2 478.9 592.7 478.4 593.2 479.1 593.8 479.4 594.3 479.7 594.8 481.0 595.4 481.6 595.9 481.9 596.4 482.0 596.9 483.5 597.5 483.4 598.0 484.2 598.5 484.7 599.0 484.7 599.5 485.8 600.1 486.3 600.6 486.1 601.1 486.7 601.6 487.2 602.2 487.5 602.7 487.6 603.2 488.3 603.8 488.2 604.3 488.6 604.8 488.6 605.3 488.9 605.9 489.4 606.4 490.0 606.9 490.2 607.4 490.6 607.9 489.7 608.5 491.0 609.0 491.0 609.5 490.9 610.0 492.0 610.6 492.0 611.1 492.1 611.6 492.4 612.1 492.7 612.7 492.6 613.2 492.2 613.7 492.6 614.2 492.9 614.8 493.1 615.3 493.7 615.8 493.2 616.3 493.4 616.9 494.0 617.4 493.7 617.9 493.9 618.4 494.1 619.0 494.4 619.5 494.4 620.0 494.6 620.5 494.3 621.1 494.4 621.6 494.5 622.1 494.7 622.6 494.9 623.2 494.3 623.7 495.4 624.2 494.7 624.8 495.0 625.3 495.1 625.8 495.4 626.3 495.3 626.8 495.7 627.4 495.8 627.9 495.5 628.4 496.0 628.9 495.4 629.5 495.3 630.0 496.6 630.5 496.2 631.0 495.7 631.6 495.8 632.1 495.9 632.6 495.8 633.1 495.8 633.7 495.8 634.2 495.6 634.7 496.1 635.2 495.9 635.8 496.6 636.3 496.3 636.8 497.1 637.3 496.0 637.9 495.4 638.4 495.9 638.9 495.6 639.4 495.9 640.0 498.3 640.5 496.7 641.0 497.7 641.5 496.6 642.1 496.8 642.6 497.2 643.1 497.6 643.6 496.7 644.2 496.6 644.7 495.7 645.2 496.9 645.8 496.7 646.3 495.6 646.8 497.0 647.3 496.5 647.8 497.6 648.4 496.9 648.9 495.8 649.4 496.1 649.9 496.7 650.5 497.5 651.0 497.5 651.5 498.1 652.0 496.9 652.6 496.3 653.1 499.0 653.6 498.7 654.1 496.3 654.7 498.2 655.2 497.0 655.7 498.2 656.2 496.7 656.8 496.8 657.3 496.7 657.8 496.7 658.3 497.4 658.9 497.0 659.4 495.9 659.9 496.6 660.4 497.9 661.0 498.0 661.5 497.6 662.0 497.5 662.5 497.3 663.1 498.3 663.6 497.3 664.1 498.1 664.6 497.1 665.2 497.3 665.7 496.8 666.2 498.4 666.8 496.2 667.3 497.4 667.8 497.3" fill="none" stroke="#e8b186" stroke-width="1.25" stroke-linejoin="round" /><path d="M405.3 497.9 405.8 497.9 406.4 497.9 406.9 497.9 407.4 498.0 407.9 498.0 408.4 498.0 409.0 498.0 409.5 498.0 410.0 498.0 410.6 498.0 411.1 498.1 411.6 498.1 412.1 498.1 412.7 498.1 413.2 498.1 413.7 498.1 414.2 498.1 414.8 498.2 415.3 498.2 415.8 498.2 416.3 498.2 416.9 498.2 417.4 498.2 417.9 498.2 418.4 498.2 418.9 498.2 419.5 498.3 420.0 498.3 420.5 498.3 421.1 498.3 421.6 498.3 422.1 498.3 422.6 498.3 423.2 498.3 423.7 498.3 424.2 498.3 424.7 498.3 425.2 498.3 425.8 498.4 426.3 498.4 426.8 498.4 427.4 498.4 427.9 498.4 428.4 498.4 428.9 498.4 429.4 498.4 430.0 498.4 430.5 498.4 431.0 498.4 431.6 498.4 432.1 498.4 432.6 498.4 433.1 498.4 433.6 498.4 434.2 498.4 434.7 498.4 435.2 498.4 435.8 498.4 436.3 498.4 436.8 498.4 437.3 498.4 437.9 498.4 438.4 498.4 438.9 498.4 439.4 498.4 439.9 498.4 440.5 498.4 441.0 498.4 441.5 498.4 442.1 498.4 442.6 498.4 443.1 498.4 443.6 498.4 444.1 498.4 444.7 498.4 445.2 498.4 445.7 498.4 446.2 498.4 446.8 498.4 447.3 498.4 447.8 498.4 448.4 498.4 448.9 498.4 449.4 498.4 449.9 498.3 450.4 498.3 451.0 498.3 451.5 498.3 452.0 498.3 452.6 498.3 453.1 498.3 453.6 498.3 454.1 498.3 454.6 498.3 455.2 498.3 455.7 498.2 456.2 498.2 456.8 498.2 457.3 498.2 457.8 498.2 458.3 498.2 458.9 498.2 459.4 498.2 459.9 498.1 460.4 498.1 460.9 498.1 461.5 498.1 462.0 498.1 462.5 498.1 463.1 498.0 463.6 498.0 464.1 498.0 464.6 498.0 465.1 498.0 465.7 497.9 466.2 497.9 466.7 497.9 467.2 497.9 467.8 497.9 468.3 497.8 468.8 497.8 469.4 497.8 469.9 497.8 470.4 497.7 470.9 497.7 471.4 497.7 472.0 497.7 472.5 497.6 473.0 497.6 473.6 497.6 474.1 497.5 474.6 497.5 475.1 497.5 475.6 497.4 476.2 497.4 476.7 497.4 477.2 497.3 477.8 497.3 478.3 497.2 478.8 497.2 479.3 497.2 479.9 497.1 480.4 497.1 480.9 497.0 481.4 497.0 481.9 496.9 482.5 496.9 483.0 496.8 483.5 496.8 484.1 496.7 484.6 496.7 485.1 496.6 485.6 496.5 486.1 496.5 486.7 496.4 487.2 496.3 487.7 496.3 488.2 496.2 488.8 496.1 489.3 496.0 489.8 495.8 490.4 495.8 490.9 495.5 491.4 495.7 491.9 495.8 492.4 495.9 493.0 495.3 493.5 495.4 494.0 494.8 494.6 494.4 495.1 495.3 495.6 494.9 496.1 494.2 496.6 493.8 497.2 493.8 497.7 493.6 498.2 493.3 498.8 493.0 499.3 492.5 499.8 492.5 500.3 492.8 500.9 492.2 501.4 491.7 501.9 491.7 502.4 491.1 502.9 490.8 503.5 490.4 504.0 489.5 504.5 489.4 505.1 489.2 505.6 488.5 506.1 487.7 506.6 486.3 507.1 486.4 507.7 485.3 508.2 485.0 508.7 485.3 509.2 483.5 509.8 483.2 510.3 482.6 510.8 481.6 511.3 479.5 511.9 480.0 512.4 478.6 512.9 476.7 513.5 475.8 514.0 475.8 514.5 473.9 515.0 472.9 515.5 471.5 516.1 469.7 516.6 469.0 517.1 467.5 517.6 465.1 518.2 465.3 518.7 463.0 519.2 461.0 519.8 460.3 520.3 458.3 520.8 457.0 521.3 454.4 521.9 453.1 522.4 450.5 522.9 448.5 523.4 447.2 524.0 445.5 524.5 443.1 525.0 441.3 525.5 440.1 526.0 436.6 526.6 435.1 527.1 432.6 527.6 432.0 528.1 428.3 528.7 425.3 529.2 424.2 529.7 423.6 530.2 420.4 530.8 418.3 531.3 416.0 531.8 414.2 532.4 411.5 532.9 410.2 533.4 407.6 533.9 406.2 534.5 403.6 535.0 400.9 535.5 400.1 536.0 397.2 536.5 396.6 537.1 394.3 537.6 392.4 538.1 389.4 538.6 389.4 539.2 386.1 539.7 386.8 540.2 384.3 540.8 381.9 541.3 380.8 541.8 381.0 542.3 380.0 542.9 377.1 543.4 377.9 543.9 375.4 544.4 375.5 545.0 374.3 545.5 371.7 546.0 371.8 546.5 372.0 547.0 373.6 547.6 371.8 548.1 371.9 548.6 372.0 549.1 370.8 549.7 373.6 550.2 372.1 550.7 372.6 551.2 373.8 551.8 372.1 552.3 375.4 552.8 374.9 553.4 375.6 553.9 378.5 554.4 378.7 554.9 379.3 555.5 378.9 556.0 379.9 556.5 381.4 557.0 382.9 557.5 386.3 558.1 385.6 558.6 387.6 559.1 387.6 559.6 389.0 560.2 389.8 560.7 392.6 561.2 394.1 561.8 397.2 562.3 398.0 562.8 400.7 563.3 400.7 563.9 404.0 564.4 405.0 564.9 407.2 565.4 408.6 566.0 409.6 566.5 412.1 567.0 413.3 567.5 415.9 568.0 415.9 568.6 419.1 569.1 419.6 569.6 420.5 570.1 425.5 570.7 426.2 571.2 427.3 571.7 428.0 572.2 430.8 572.8 431.8 573.3 434.2 573.8 434.9 574.4 437.7 574.9 437.9 575.4 441.9 575.9 442.7 576.5 441.8 577.0 444.3 577.5 446.4 578.0 445.9 578.5 448.0 579.1 449.4 579.6 451.6 580.1 452.3 580.6 453.7 581.2 456.2 581.7 456.1 582.2 457.8 582.8 458.1 583.3 459.3 583.8 461.5 584.3 462.6 584.9 463.2 585.4 464.0 585.9 465.6 586.4 466.5 587.0 467.1 587.5 468.1 588.0 468.7 588.5 470.0 589.0 471.5 589.6 472.8 590.1 472.3 590.6 473.7 591.1 474.5 591.7 475.2 592.2 476.5 592.7 476.7 593.2 478.4 593.8 478.1 594.3 478.9 594.8 478.4 595.4 479.6 595.9 480.5 596.4 480.9 596.9 481.2 597.5 482.4 598.0 482.7 598.5 483.2 599.0 482.5 599.5 484.0 600.1 485.3 600.6 484.6 601.1 484.3 601.6 486.1 602.2 484.8 602.7 486.6 603.2 486.5 603.8 487.5 604.3 487.7 604.8 488.4 605.3 488.7 605.9 489.4 606.4 488.5 606.9 489.6 607.4 489.3 607.9 489.6 608.5 490.2 609.0 490.2 609.5 490.5 610.0 490.9 610.6 490.9 611.1 491.1 611.6 491.7 612.1 492.0 612.7 492.0 613.2 491.9 613.7 491.7 614.2 491.8 614.8 492.4 615.3 492.3 615.8 492.8 616.3 492.6 616.9 493.0 617.4 493.1 617.9 493.5 618.4 493.5 619.0 493.0 619.5 494.1 620.0 493.9 620.5 494.2 621.1 493.8 621.6 493.6 622.1 494.4 622.6 495.2 623.2 494.3 623.7 494.4 624.2 495.2 624.8 494.8 625.3 494.9 625.8 495.6 626.3 494.8 626.8 494.9 627.4 495.1 627.9 495.5 628.4 495.5 628.9 495.5 629.5 495.3 630.0 495.8 630.5 495.1 631.0 495.5 631.6 496.3 632.1 495.2 632.6 495.7 633.1 496.0 633.7 495.8 634.2 496.4 634.7 495.9 635.2 496.7 635.8 496.3 636.3 495.7 636.8 495.5 637.3 497.3 637.9 498.1 638.4 496.4 638.9 496.5 639.4 497.4 640.0 496.2 640.5 496.5 641.0 495.8 641.5 495.9 642.1 495.6 642.6 497.2 643.1 496.7 643.6 496.4 644.2 497.2 644.7 495.5 645.2 496.0 645.8 496.8 646.3 497.1 646.8 494.1 647.3 496.7 647.8 496.8 648.4 496.2 648.9 496.2 649.4 496.8 649.9 496.5 650.5 497.6 651.0 496.6 651.5 498.4 652.0 497.1 652.6 497.2 653.1 497.9 653.6 495.5 654.1 498.3 654.7 496.5 655.2 497.5 655.7 496.6 656.2 497.9 656.8 495.4 657.3 496.2 657.8 496.4 658.3 496.9 658.9 496.8 659.4 497.4 659.9 497.0 660.4 496.7 661.0 497.2 661.5 497.8 662.0 498.2 662.5 497.5 663.1 497.1 663.6 497.9 664.1 497.6 664.6 497.6 665.2 498.1 665.7 497.9 666.2 498.0 666.8 497.6 667.3 497.9 667.8 496.9" fill="none" stroke="#f9d22e" stroke-width="1.25" stroke-linejoin="round" /><path d="M405.3 497.9 405.8 497.9 406.4 497.9 406.9 497.9 407.4 498.0 407.9 498.0 408.4 498.0 409.0 498.0 409.5 498.0 410.0 498.0 410.6 498.1 411.1 498.1 411.6 498.1 412.1 498.1 412.7 498.1 413.2 498.1 413.7 498.1 414.2 498.2 414.8 498.2 415.3 498.2 415.8 498.2 416.3 498.2 416.9 498.2 417.4 498.2 417.9 498.2 418.4 498.3 418.9 498.3 419.5 498.3 420.0 498.3 420.5 498.3 421.1 498.3 421.6 498.3 422.1 498.3 422.6 498.3 423.2 498.3 423.7 498.3 424.2 498.4 424.7 498.4 425.2 498.4 425.8 498.4 426.3 498.4 426.8 498.4 427.4 498.4 427.9 498.4 428.4 498.4 428.9 498.4 429.4 498.4 430.0 498.4 430.5 498.4 431.0 498.4 431.6 498.4 432.1 498.4 432.6 498.4 433.1 498.4 433.6 498.4 434.2 498.4 434.7 498.4 435.2 498.4 435.8 498.4 436.3 498.4 436.8 498.5 437.3 498.5 437.9 498.5 438.4 498.5 438.9 498.5 439.4 498.5 439.9 498.5 440.5 498.5 441.0 498.4 441.5 498.4 442.1 498.4 442.6 498.4 443.1 498.4 443.6 498.4 444.1 498.4 444.7 498.4 445.2 498.4 445.7 498.4 446.2 498.4 446.8 498.4 447.3 498.4 447.8 498.4 448.4 498.4 448.9 498.4 449.4 498.4 449.9 498.4 450.4 498.4 451.0 498.4 451.5 498.4 452.0 498.4 452.6 498.3 453.1 498.3 453.6 498.3 454.1 498.3 454.6 498.3 455.2 498.3 455.7 498.3 456.2 498.3 456.8 498.3 457.3 498.3 457.8 498.2 458.3 498.2 458.9 498.2 459.4 498.2 459.9 498.2 460.4 498.2 460.9 498.2 461.5 498.1 462.0 498.1 462.5 498.1 463.1 498.1 463.6 498.1 464.1 498.1 464.6 498.0 465.1 498.0 465.7 498.0 466.2 498.0 466.7 498.0 467.2 497.9 467.8 497.9 468.3 497.9 468.8 497.9 469.4 497.9 469.9 497.8 470.4 497.8 470.9 497.8 471.4 497.8 472.0 497.7 472.5 497.7 473.0 497.7 473.6 497.6 474.1 497.6 474.6 497.6 475.1 497.6 475.6 497.5 476.2 497.5 476.7 497.5 477.2 497.4 477.8 497.4 478.3 497.3 478.8 497.3 479.3 497.3 479.9 497.2 480.4 497.2 480.9 497.1 481.4 497.1 481.9 497.0 482.5 497.0 483.0 496.9 483.5 496.9 484.1 496.8 484.6 496.8 485.1 496.7 485.6 496.7 486.1 496.6 486.7 496.5 487.2 496.5 487.7 496.4 488.2 496.3 488.8 496.2 489.3 496.1 489.8 496.1 490.4 495.6 490.9 495.7 491.4 496.1 491.9 495.5 492.4 495.8 493.0 495.3 493.5 494.9 494.0 494.5 494.6 494.9 495.1 494.6 495.6 494.5 496.1 494.2 496.6 495.0 497.2 494.1 497.7 493.7 498.2 493.4 498.8 493.5 499.3 492.8 499.8 492.4 500.3 492.4 500.9 492.2 501.4 491.9 501.9 491.4 502.4 490.7 502.9 490.2 503.5 490.5 504.0 490.2 504.5 489.7 505.1 488.5 505.6 488.3 506.1 487.7 506.6 487.1 507.1 486.5 507.7 486.1 508.2 485.8 508.7 485.0 509.2 483.9 509.8 483.1 510.3 482.6 510.8 481.8 511.3 480.2 511.9 480.1 512.4 478.8 512.9 478.1 513.5 477.3 514.0 476.6 514.5 475.1 515.0 474.1 515.5 472.1 516.1 471.9 516.6 470.3 517.1 468.5 517.6 467.6 518.2 465.9 518.7 464.4 519.2 464.3 519.8 462.2 520.3 461.0 520.8 458.2 521.3 457.4 521.9 455.5 522.4 453.2 522.9 452.7 523.4 450.8 524.0 448.9 524.5 447.6 525.0 444.9 525.5 443.4 526.0 441.5 526.6 440.3 527.1 438.7 527.6 436.9 528.1 435.0 528.7 434.1 529.2 430.8 529.7 428.6 530.2 427.4 530.8 425.8 531.3 423.6 531.8 421.6 532.4 419.7 532.9 416.8 533.4 417.0 533.9 414.2 534.5 412.2 535.0 411.0 535.5 409.5 536.0 408.4 536.5 406.4 537.1 403.8 537.6 401.6 538.1 401.8 538.6 399.4 539.2 397.9 539.7 396.2 540.2 395.5 540.8 394.1 541.3 392.5 541.8 393.1 542.3 391.0 542.9 391.5 543.4 390.8 543.9 389.0 544.4 388.8 545.0 386.4 545.5 385.4 546.0 385.9 546.5 385.3 547.0 385.0 547.6 384.8 548.1 384.2 548.6 383.9 549.1 384.6 549.7 384.9 550.2 384.8 550.7 383.9 551.2 385.2 551.8 384.0 552.3 385.8 552.8 385.0 553.4 387.7 553.9 387.9 554.4 387.7 554.9 388.4 555.5 389.8 556.0 388.9 556.5 391.5 557.0 392.3 557.5 394.0 558.1 393.3 558.6 395.1 559.1 396.7 559.6 399.5 560.2 399.2 560.7 401.1 561.2 401.8 561.8 402.7 562.3 405.4 562.8 406.1 563.3 407.0 563.9 409.0 564.4 410.8 564.9 412.8 565.4 414.0 566.0 415.9 566.5 415.7 567.0 417.9 567.5 420.3 568.0 421.0 568.6 423.4 569.1 426.3 569.6 424.6 570.1 426.1 570.7 429.5 571.2 430.4 571.7 431.3 572.2 433.1 572.8 434.9 573.3 436.1 573.8 437.3 574.4 438.9 574.9 439.8 575.4 441.5 575.9 443.2 576.5 444.0 577.0 446.4 577.5 445.8 578.0 449.0 578.5 449.3 579.1 450.3 579.6 451.5 580.1 452.8 580.6 453.4 581.2 456.0 581.7 456.5 582.2 457.5 582.8 459.0 583.3 460.1 583.8 460.1 584.3 462.3 584.9 463.1 585.4 464.0 585.9 465.0 586.4 465.7 587.0 466.8 587.5 467.5 588.0 468.5 588.5 469.2 589.0 469.6 589.6 471.5 590.1 471.1 590.6 472.9 591.1 473.1 591.7 474.1 592.2 475.0 592.7 476.5 593.2 475.6 593.8 477.3 594.3 477.9 594.8 477.8 595.4 478.8 595.9 478.6 596.4 479.3 596.9 480.3 597.5 481.0 598.0 481.3 598.5 482.7 599.0 482.6 599.5 483.1 600.1 483.8 600.6 484.0 601.1 485.1 601.6 484.6 602.2 484.9 602.7 486.2 603.2 486.1 603.8 485.9 604.3 486.7 604.8 487.6 605.3 487.9 605.9 487.6 606.4 487.5 606.9 488.9 607.4 488.8 607.9 489.4 608.5 489.5 609.0 489.5 609.5 489.9 610.0 490.4 610.6 489.7 611.1 490.7 611.6 490.9 612.1 490.7 612.7 491.3 613.2 491.6 613.7 491.4 614.2 492.2 614.8 491.8 615.3 491.9 615.8 492.2 616.3 492.6 616.9 492.7 617.4 493.4 617.9 493.1 618.4 493.1 619.0 493.1 619.5 493.4 620.0 493.7 620.5 494.0 621.1 493.8 621.6 493.9 622.1 493.7 622.6 494.2 623.2 494.4 623.7 494.4 624.2 494.6 624.8 494.6 625.3 495.3 625.8 495.2 626.3 495.2 626.8 494.8 627.4 495.0 627.9 495.1 628.4 494.9 628.9 495.5 629.5 495.0 630.0 495.3 630.5 495.6 631.0 495.1 631.6 496.0 632.1 495.9 632.6 495.8 633.1 495.7 633.7 495.9 634.2 496.4 634.7 496.0 635.2 496.0 635.8 495.4 636.3 495.7 636.8 497.4 637.3 495.0 637.9 495.1 638.4 495.7 638.9 497.4 639.4 496.1 640.0 496.2 640.5 496.3 641.0 496.3 641.5 497.3 642.1 496.3 642.6 497.2 643.1 496.9 643.6 496.6 644.2 497.2 644.7 496.8 645.2 496.8 645.8 496.4 646.3 496.0 646.8 496.9 647.3 496.1 647.8 497.6 648.4 497.0 648.9 496.0 649.4 497.9 649.9 497.4 650.5 497.8 651.0 495.8 651.5 497.7 652.0 497.7 652.6 496.3 653.1 496.2 653.6 496.9 654.1 496.0 654.7 497.4 655.2 497.2 655.7 497.6 656.2 497.5 656.8 497.8 657.3 497.2 657.8 497.4 658.3 497.6 658.9 496.8 659.4 497.5 659.9 498.2 660.4 498.1 661.0 498.4 661.5 498.7 662.0 497.1 662.5 498.8 663.1 498.4 663.6 498.1 664.1 497.3 664.6 498.0 665.2 496.7 665.7 497.9 666.2 498.1 666.8 496.8 667.3 497.4 667.8 497.8" fill="none" stroke="#eee09c" stroke-width="1.25" stroke-linejoin="round" /><path d="M405.3 498.4 405.8 498.4 406.4 498.4 406.9 498.4 407.4 498.4 407.9 498.4 408.4 498.4 409.0 498.4 409.5 498.4 410.0 498.5 410.6 498.5 411.1 498.5 411.6 498.5 412.1 498.5 412.7 498.5 413.2 498.5 413.7 498.5 414.2 498.5 414.8 498.5 415.3 498.6 415.8 498.6 416.3 498.6 416.9 498.6 417.4 498.6 417.9 498.6 418.4 498.6 418.9 498.6 419.5 498.6 420.0 498.6 420.5 498.6 421.1 498.6 421.6 498.6 422.1 498.6 422.6 498.6 423.2 498.6 423.7 498.7 424.2 498.7 424.7 498.7 425.2 498.7 425.8 498.7 426.3 498.7 426.8 498.7 427.4 498.7 427.9 498.7 428.4 498.7 428.9 498.7 429.4 498.7 430.0 498.7 430.5 498.7 431.0 498.7 431.6 498.7 432.1 498.7 432.6 498.7 433.1 498.7 433.6 498.7 434.2 498.7 434.7 498.7 435.2 498.7 435.8 498.7 436.3 498.7 436.8 498.7 437.3 498.7 437.9 498.7 438.4 498.7 438.9 498.7 439.4 498.7 439.9 498.7 440.5 498.7 441.0 498.7 441.5 498.7 442.1 498.7 442.6 498.7 443.1 498.7 443.6 498.7 444.1 498.7 444.7 498.7 445.2 498.6 445.7 498.6 446.2 498.6 446.8 498.6 447.3 498.6 447.8 498.6 448.4 498.6 448.9 498.6 449.4 498.6 449.9 498.6 450.4 498.6 451.0 498.6 451.5 498.6 452.0 498.6 452.6 498.6 453.1 498.5 453.6 498.5 454.1 498.5 454.6 498.5 455.2 498.5 455.7 498.5 456.2 498.5 456.8 498.5 457.3 498.5 457.8 498.4 458.3 498.4 458.9 498.4 459.4 498.4 459.9 498.4 460.4 498.4 460.9 498.4 461.5 498.3 462.0 498.3 462.5 498.3 463.1 498.3 463.6 498.3 464.1 498.3 464.6 498.2 465.1 498.2 465.7 498.2 466.2 498.2 466.7 498.2 467.2 498.2 467.8 498.1 468.3 498.1 468.8 498.1 469.4 498.1 469.9 498.0 470.4 498.0 470.9 498.0 471.4 498.0 472.0 498.0 472.5 497.9 473.0 497.9 473.6 497.9 474.1 497.8 474.6 497.8 475.1 497.8 475.6 497.8 476.2 497.7 476.7 497.7 477.2 497.7 477.8 497.6 478.3 497.6 478.8 497.6 479.3 497.5 479.9 497.5 480.4 497.4 480.9 497.4 481.4 497.3 481.9 497.3 482.5 497.2 483.0 497.2 483.5 497.1 484.1 497.1 484.6 497.0 485.1 497.0 485.6 496.9 486.1 496.8 486.7 496.8 487.2 496.7 487.7 496.6 488.2 496.6 488.8 496.5 489.3 496.4 489.8 496.2 490.4 496.6 490.9 496.2 491.4 495.9 491.9 496.1 492.4 495.6 493.0 495.8 493.5 495.6 494.0 495.4 494.6 494.6 495.1 495.1 495.6 495.0 496.1 494.5 496.6 494.6 497.2 494.2 497.7 494.7 498.2 493.7 498.8 493.6 499.3 493.7 499.8 492.7 500.3 492.9 500.9 492.6 501.4 492.6 501.9 492.4 502.4 491.7 502.9 491.7 503.5 490.6 504.0 490.1 504.5 490.2 505.1 490.1 505.6 489.2 506.1 489.0 506.6 488.0 507.1 487.5 507.7 487.2 508.2 486.4 508.7 485.5 509.2 484.6 509.8 484.8 510.3 483.6 510.8 483.3 511.3 482.9 511.9 481.2 512.4 480.8 512.9 480.1 513.5 479.2 514.0 478.6 514.5 478.1 515.0 475.9 515.5 475.3 516.1 474.7 516.6 473.3 517.1 472.2 517.6 471.8 518.2 470.4 518.7 469.7 519.2 468.1 519.8 467.4 520.3 464.9 520.8 465.1 521.3 463.5 521.9 462.2 522.4 461.4 522.9 459.4 523.4 458.7 524.0 457.6 524.5 456.0 525.0 455.1 525.5 452.6 526.0 451.6 526.6 449.9 527.1 449.9 527.6 447.6 528.1 446.8 528.7 444.8 529.2 442.7 529.7 441.9 530.2 440.7 530.8 438.4 531.3 437.1 531.8 435.1 532.4 436.1 532.9 433.3 533.4 432.4 533.9 431.3 534.5 429.2 535.0 428.8 535.5 428.2 536.0 425.9 536.5 424.2 537.1 421.4 537.6 422.0 538.1 421.1 538.6 420.5 539.2 418.1 539.7 416.9 540.2 415.5 540.8 415.6 541.3 414.1 541.8 414.3 542.3 411.5 542.9 411.9 543.4 412.0 543.9 408.2 544.4 408.0 545.0 407.4 545.5 406.7 546.0 407.2 546.5 405.0 547.0 406.2 547.6 403.5 548.1 404.4 548.6 405.7 549.1 403.3 549.7 402.3 550.2 403.9 550.7 402.8 551.2 403.7 551.8 404.1 552.3 405.7 552.8 402.9 553.4 404.4 553.9 404.0 554.4 405.4 554.9 405.6 555.5 404.5 556.0 406.1 556.5 406.6 557.0 407.8 557.5 407.2 558.1 407.4 558.6 409.0 559.1 409.5 559.6 411.1 560.2 409.9 560.7 412.2 561.2 412.7 561.8 412.2 562.3 414.5 562.8 416.4 563.3 416.9 563.9 417.5 564.4 416.9 564.9 419.1 565.4 420.4 566.0 420.7 566.5 421.4 567.0 424.0 567.5 423.5 568.0 425.0 568.6 426.4 569.1 429.5 569.6 428.8 570.1 429.1 570.7 431.4 571.2 430.8 571.7 433.4 572.2 435.3 572.8 435.4 573.3 436.7 573.8 437.5 574.4 439.3 574.9 439.4 575.4 441.7 575.9 442.4 576.5 444.4 577.0 445.2 577.5 445.6 578.0 447.2 578.5 448.2 579.1 449.1 579.6 449.8 580.1 450.6 580.6 451.6 581.2 452.5 581.7 453.9 582.2 455.4 582.8 456.9 583.3 457.2 583.8 458.4 584.3 459.9 584.9 458.9 585.4 461.7 585.9 461.4 586.4 462.2 587.0 463.5 587.5 462.8 588.0 465.0 588.5 466.2 589.0 465.7 589.6 467.9 590.1 468.9 590.6 469.5 591.1 470.0 591.7 470.4 592.2 471.0 592.7 472.6 593.2 472.4 593.8 472.2 594.3 474.2 594.8 474.6 595.4 474.8 595.9 475.2 596.4 476.7 596.9 477.4 597.5 478.0 598.0 477.6 598.5 478.3 599.0 480.2 599.5 480.7 600.1 480.8 600.6 481.4 601.1 481.0 601.6 481.6 602.2 481.3 602.7 482.3 603.2 483.0 603.8 483.0 604.3 484.2 604.8 484.8 605.3 484.7 605.9 484.7 606.4 486.1 606.9 485.4 607.4 485.8 607.9 486.7 608.5 486.8 609.0 487.2 609.5 487.4 610.0 487.5 610.6 488.4 611.1 488.0 611.6 488.3 612.1 488.6 612.7 489.9 613.2 490.1 613.7 489.4 614.2 490.1 614.8 490.4 615.3 490.6 615.8 491.1 616.3 490.9 616.9 491.3 617.4 491.4 617.9 491.3 618.4 492.0 619.0 491.4 619.5 492.7 620.0 491.3 620.5 492.8 621.1 492.3 621.6 492.4 622.1 492.8 622.6 492.7 623.2 493.1 623.7 493.8 624.2 493.3 624.8 493.1 625.3 493.8 625.8 494.3 626.3 494.1 626.8 493.9 627.4 494.0 627.9 493.9 628.4 494.2 628.9 494.3 629.5 495.1 630.0 494.0 630.5 494.7 631.0 494.6 631.6 495.0 632.1 495.0 632.6 495.0 633.1 494.7 633.7 494.8 634.2 495.1 634.7 494.8 635.2 495.5 635.8 495.4 636.3 495.7 636.8 495.9 637.3 496.4 637.9 494.9 638.4 497.2 638.9 497.2 639.4 493.9 640.0 495.4 640.5 497.1 641.0 496.7 641.5 495.6 642.1 496.4 642.6 496.4 643.1 496.9 643.6 495.3 644.2 496.5 644.7 495.6 645.2 495.9 645.8 496.3 646.3 495.6 646.8 496.8 647.3 496.7 647.8 497.4 648.4 496.9 648.9 496.9 649.4 497.6 649.9 496.7 650.5 495.7 651.0 495.7 651.5 495.9 652.0 497.3 652.6 495.6 653.1 496.2 653.6 495.7 654.1 498.0 654.7 495.6 655.2 497.4 655.7 496.5 656.2 497.8 656.8 496.7 657.3 496.9 657.8 498.7 658.3 497.2 658.9 497.5 659.4 497.3 659.9 498.6 660.4 498.3 661.0 497.8 661.5 497.8 662.0 497.6 662.5 498.2 663.1 498.5 663.6 497.4 664.1 498.2 664.6 496.8 665.2 497.9 665.7 497.2 666.2 498.3 666.8 497.9 667.3 497.1 667.8 497.4" fill="none" stroke="#f29fc8" stroke-width="1.25" stroke-linejoin="round" /><path d="M405.3 498.6 405.8 498.6 406.4 498.6 406.9 498.7 407.4 498.7 407.9 498.7 408.4 498.7 409.0 498.7 409.5 498.7 410.0 498.7 410.6 498.7 411.1 498.7 411.6 498.7 412.1 498.7 412.7 498.7 413.2 498.7 413.7 498.7 414.2 498.8 414.8 498.8 415.3 498.8 415.8 498.8 416.3 498.8 416.9 498.8 417.4 498.8 417.9 498.8 418.4 498.8 418.9 498.8 419.5 498.8 420.0 498.8 420.5 498.8 421.1 498.8 421.6 498.8 422.1 498.8 422.6 498.8 423.2 498.8 423.7 498.8 424.2 498.8 424.7 498.8 425.2 498.8 425.8 498.8 426.3 498.8 426.8 498.8 427.4 498.8 427.9 498.8 428.4 498.8 428.9 498.9 429.4 498.9 430.0 498.9 430.5 498.9 431.0 498.9 431.6 498.9 432.1 498.9 432.6 498.9 433.1 498.9 433.6 498.8 434.2 498.8 434.7 498.8 435.2 498.8 435.8 498.8 436.3 498.8 436.8 498.8 437.3 498.8 437.9 498.8 438.4 498.8 438.9 498.8 439.4 498.8 439.9 498.8 440.5 498.8 441.0 498.8 441.5 498.8 442.1 498.8 442.6 498.8 443.1 498.8 443.6 498.8 444.1 498.8 444.7 498.8 445.2 498.8 445.7 498.8 446.2 498.8 446.8 498.8 447.3 498.8 447.8 498.7 448.4 498.7 448.9 498.7 449.4 498.7 449.9 498.7 450.4 498.7 451.0 498.7 451.5 498.7 452.0 498.7 452.6 498.7 453.1 498.7 453.6 498.7 454.1 498.6 454.6 498.6 455.2 498.6 455.7 498.6 456.2 498.6 456.8 498.6 457.3 498.6 457.8 498.6 458.3 498.6 458.9 498.5 459.4 498.5 459.9 498.5 460.4 498.5 460.9 498.5 461.5 498.5 462.0 498.5 462.5 498.4 463.1 498.4 463.6 498.4 464.1 498.4 464.6 498.4 465.1 498.4 465.7 498.3 466.2 498.3 466.7 498.3 467.2 498.3 467.8 498.3 468.3 498.2 468.8 498.2 469.4 498.2 469.9 498.2 470.4 498.2 470.9 498.1 471.4 498.1 472.0 498.1 472.5 498.1 473.0 498.0 473.6 498.0 474.1 498.0 474.6 497.9 475.1 497.9 475.6 497.9 476.2 497.8 476.7 497.8 477.2 497.7 477.8 497.7 478.3 497.7 478.8 497.6 479.3 497.6 479.9 497.5 480.4 497.5 480.9 497.4 481.4 497.4 481.9 497.3 482.5 497.2 483.0 497.2 483.5 497.1 484.1 497.0 484.6 497.0 485.1 496.9 485.6 496.8 486.1 496.7 486.7 496.6 487.2 496.5 487.7 496.4 488.2 496.3 488.8 496.2 489.3 496.1 489.8 495.8 490.4 495.9 490.9 496.1 491.4 495.3 491.9 495.5 492.4 494.9 493.0 495.0 493.5 494.6 494.0 494.5 494.6 494.3 495.1 494.5 495.6 493.9 496.1 493.9 496.6 494.1 497.2 493.6 497.7 493.4 498.2 492.9 498.8 492.5 499.3 492.8 499.8 492.0 500.3 491.9 500.9 491.9 501.4 491.0 501.9 491.2 502.4 491.0 502.9 490.0 503.5 489.6 504.0 489.7 504.5 488.7 505.1 488.4 505.6 488.5 506.1 487.1 506.6 487.4 507.1 486.9 507.7 487.4 508.2 485.8 508.7 485.7 509.2 484.8 509.8 485.1 510.3 483.5 510.8 482.8 511.3 482.1 511.9 483.4 512.4 481.4 512.9 480.9 513.5 481.7 514.0 480.1 514.5 479.2 515.0 477.9 515.5 478.2 516.1 477.0 516.6 476.5 517.1 475.6 517.6 475.2 518.2 473.9 518.7 473.1 519.2 473.5 519.8 471.5 520.3 471.6 520.8 470.6 521.3 469.2 521.9 468.9 522.4 467.8 522.9 466.9 523.4 466.2 524.0 466.0 524.5 465.4 525.0 463.7 525.5 462.8 526.0 462.2 526.6 461.6 527.1 460.2 527.6 459.9 528.1 459.8 528.7 458.0 529.2 457.1 529.7 456.1 530.2 456.2 530.8 455.3 531.3 453.8 531.8 453.4 532.4 452.4 532.9 451.0 533.4 450.5 533.9 448.8 534.5 449.0 535.0 447.3 535.5 446.9 536.0 445.3 536.5 446.1 537.1 445.4 537.6 443.8 538.1 444.2 538.6 443.5 539.2 442.4 539.7 441.6 540.2 442.1 540.8 440.4 541.3 440.2 541.8 439.4 542.3 438.7 542.9 438.4 543.4 437.1 543.9 436.9 544.4 436.9 545.0 436.3 545.5 435.2 546.0 434.9 546.5 434.2 547.0 434.8 547.6 434.3 548.1 432.7 548.6 433.8 549.1 432.4 549.7 432.7 550.2 433.4 550.7 433.9 551.2 432.3 551.8 433.1 552.3 433.0 552.8 433.6 553.4 431.7 553.9 432.4 554.4 432.4 554.9 432.2 555.5 432.4 556.0 432.6 556.5 432.4 557.0 433.1 557.5 434.8 558.1 432.8 558.6 433.2 559.1 433.7 559.6 432.9 560.2 435.2 560.7 436.5 561.2 433.9 561.8 434.9 562.3 436.7 562.8 436.2 563.3 435.9 563.9 437.6 564.4 436.8 564.9 436.3 565.4 437.2 566.0 438.6 566.5 438.9 567.0 440.2 567.5 440.0 568.0 440.8 568.6 441.8 569.1 442.5 569.6 441.0 570.1 442.8 570.7 444.0 571.2 444.2 571.7 443.6 572.2 444.2 572.8 446.1 573.3 446.2 573.8 446.4 574.4 447.8 574.9 448.9 575.4 449.4 575.9 449.5 576.5 450.5 577.0 451.5 577.5 451.5 578.0 451.4 578.5 452.2 579.1 453.4 579.6 452.8 580.1 455.0 580.6 455.2 581.2 456.6 581.7 456.0 582.2 457.1 582.8 458.6 583.3 458.7 583.8 457.9 584.3 459.1 584.9 460.1 585.4 460.3 585.9 462.2 586.4 462.4 587.0 463.3 587.5 463.6 588.0 463.9 588.5 464.0 589.0 464.4 589.6 465.0 590.1 464.7 590.6 466.9 591.1 467.2 591.7 467.5 592.2 468.7 592.7 469.0 593.2 469.1 593.8 470.3 594.3 470.2 594.8 470.3 595.4 472.0 595.9 473.0 596.4 472.4 596.9 473.4 597.5 473.3 598.0 474.1 598.5 474.2 599.0 474.3 599.5 474.9 600.1 475.9 600.6 476.7 601.1 477.7 601.6 478.0 602.2 477.9 602.7 477.9 603.2 478.6 603.8 479.0 604.3 479.8 604.8 480.2 605.3 480.7 605.9 480.1 606.4 481.5 606.9 480.8 607.4 481.8 607.9 481.6 608.5 482.0 609.0 482.2 609.5 482.3 610.0 483.5 610.6 483.9 611.1 484.0 611.6 484.4 612.1 484.2 612.7 484.8 613.2 485.0 613.7 485.2 614.2 485.8 614.8 485.5 615.3 486.9 615.8 486.3 616.3 486.5 616.9 487.2 617.4 487.5 617.9 487.1 618.4 487.8 619.0 488.6 619.5 488.7 620.0 488.1 620.5 488.9 621.1 488.4 621.6 488.6 622.1 489.3 622.6 489.3 623.2 490.0 623.7 490.0 624.2 490.3 624.8 490.1 625.3 490.9 625.8 490.7 626.3 490.8 626.8 490.8 627.4 491.8 627.9 491.9 628.4 491.8 628.9 491.7 629.5 491.7 630.0 491.9 630.5 491.5 631.0 492.0 631.6 492.2 632.1 492.7 632.6 492.4 633.1 492.6 633.7 492.7 634.2 493.1 634.7 493.0 635.2 492.8 635.8 493.6 636.3 494.2 636.8 494.2 637.3 494.0 637.9 493.2 638.4 494.0 638.9 493.2 639.4 493.3 640.0 493.9 640.5 495.0 641.0 494.2 641.5 495.9 642.1 494.7 642.6 494.4 643.1 496.1 643.6 493.8 644.2 493.6 644.7 495.0 645.2 494.5 645.8 494.5 646.3 495.1 646.8 494.9 647.3 495.2 647.8 497.0 648.4 496.3 648.9 496.3 649.4 494.5 649.9 495.7 650.5 495.0 651.0 496.6 651.5 497.1 652.0 494.6 652.6 494.5 653.1 495.5 653.6 496.4 654.1 495.3 654.7 496.9 655.2 496.5 655.7 497.1 656.2 496.2 656.8 496.2 657.3 496.4 657.8 496.9 658.3 497.6 658.9 497.2 659.4 495.8 659.9 496.7 660.4 495.9 661.0 497.8 661.5 496.8 662.0 497.2 662.5 496.9 663.1 496.4 663.6 497.9 664.1 496.8 664.6 496.8 665.2 496.9 665.7 497.3 666.2 497.2 666.8 496.7 667.3 497.6 667.8 497.6" fill="none" stroke="#d9404f" stroke-width="1.25" stroke-linejoin="round" /><path d="M405.3 498.9 405.8 498.9 406.4 498.9 406.9 499.0 407.4 499.0 407.9 499.0 408.4 499.0 409.0 499.0 409.5 499.0 410.0 499.0 410.6 499.0 411.1 499.0 411.6 499.0 412.1 499.0 412.7 499.0 413.2 499.0 413.7 499.1 414.2 499.1 414.8 499.1 415.3 499.1 415.8 499.1 416.3 499.1 416.9 499.1 417.4 499.1 417.9 499.1 418.4 499.1 418.9 499.1 419.5 499.1 420.0 499.1 420.5 499.1 421.1 499.1 421.6 499.1 422.1 499.1 422.6 499.1 423.2 499.1 423.7 499.1 424.2 499.2 424.7 499.2 425.2 499.2 425.8 499.2 426.3 499.2 426.8 499.2 427.4 499.2 427.9 499.2 428.4 499.2 428.9 499.2 429.4 499.2 430.0 499.2 430.5 499.2 431.0 499.2 431.6 499.2 432.1 499.2 432.6 499.2 433.1 499.2 433.6 499.2 434.2 499.2 434.7 499.2 435.2 499.2 435.8 499.2 436.3 499.2 436.8 499.2 437.3 499.2 437.9 499.2 438.4 499.2 438.9 499.2 439.4 499.2 439.9 499.2 440.5 499.2 441.0 499.2 441.5 499.2 442.1 499.2 442.6 499.2 443.1 499.2 443.6 499.2 444.1 499.2 444.7 499.2 445.2 499.2 445.7 499.2 446.2 499.2 446.8 499.2 447.3 499.2 447.8 499.2 448.4 499.2 448.9 499.2 449.4 499.2 449.9 499.2 450.4 499.2 451.0 499.2 451.5 499.2 452.0 499.2 452.6 499.2 453.1 499.1 453.6 499.1 454.1 499.1 454.6 499.1 455.2 499.1 455.7 499.1 456.2 499.1 456.8 499.1 457.3 499.1 457.8 499.1 458.3 499.1 458.9 499.1 459.4 499.1 459.9 499.1 460.4 499.1 460.9 499.1 461.5 499.0 462.0 499.0 462.5 499.0 463.1 499.0 463.6 499.0 464.1 499.0 464.6 499.0 465.1 499.0 465.7 499.0 466.2 499.0 466.7 498.9 467.2 498.9 467.8 498.9 468.3 498.9 468.8 498.9 469.4 498.9 469.9 498.8 470.4 498.8 470.9 498.8 471.4 498.8 472.0 498.8 472.5 498.8 473.0 498.7 473.6 498.7 474.1 498.7 474.6 498.7 475.1 498.6 475.6 498.6 476.2 498.6 476.7 498.5 477.2 498.5 477.8 498.5 478.3 498.4 478.8 498.4 479.3 498.4 479.9 498.3 480.4 498.3 480.9 498.2 481.4 498.2 481.9 498.1 482.5 498.1 483.0 498.0 483.5 498.0 484.1 497.9 484.6 497.9 485.1 497.8 485.6 497.8 486.1 497.7 486.7 497.6 487.2 497.6 487.7 497.5 488.2 497.4 488.8 497.3 489.3 497.2 489.8 497.0 490.4 497.5 490.9 496.7 491.4 496.9 491.9 496.9 492.4 496.4 493.0 496.6 493.5 496.5 494.0 496.1 494.6 496.3 495.1 495.9 495.6 496.0 496.1 495.7 496.6 495.6 497.2 495.4 497.7 495.8 498.2 494.9 498.8 495.3 499.3 494.6 499.8 495.1 500.3 494.8 500.9 494.7 501.4 494.1 501.9 494.4 502.4 494.0 502.9 494.4 503.5 493.9 504.0 493.5 504.5 493.4 505.1 493.8 505.6 492.9 506.1 493.1 506.6 492.1 507.1 492.5 507.7 491.5 508.2 491.8 508.7 491.7 509.2 491.7 509.8 491.4 510.3 491.0 510.8 491.5 511.3 490.4 511.9 490.8 512.4 490.3 512.9 490.9 513.5 489.6 514.0 489.2 514.5 489.1 515.0 488.9 515.5 488.9 516.1 488.4 516.6 487.8 517.1 488.1 517.6 487.5 518.2 487.2 518.7 487.2 519.2 486.8 519.8 486.5 520.3 486.5 520.8 485.2 521.3 486.0 521.9 484.9 522.4 484.9 522.9 485.7 523.4 484.6 524.0 484.0 524.5 483.8 525.0 484.2 525.5 483.5 526.0 483.8 526.6 483.4 527.1 482.8 527.6 482.4 528.1 481.6 528.7 481.8 529.2 481.2 529.7 481.9 530.2 481.6 530.8 481.0 531.3 479.8 531.8 480.8 532.4 480.7 532.9 479.8 533.4 479.0 533.9 479.9 534.5 479.1 535.0 479.3 535.5 477.9 536.0 478.0 536.5 477.9 537.1 477.8 537.6 477.6 538.1 477.3 538.6 477.4 539.2 477.3 539.7 477.1 540.2 476.4 540.8 476.6 541.3 475.6 541.8 476.8 542.3 475.4 542.9 475.2 543.4 474.7 543.9 475.2 544.4 475.6 545.0 475.2 545.5 474.1 546.0 474.6 546.5 474.5 547.0 474.4 547.6 474.1 548.1 474.0 548.6 474.5 549.1 473.9 549.7 473.1 550.2 472.8 550.7 473.4 551.2 473.5 551.8 472.6 552.3 473.2 552.8 473.6 553.4 473.1 553.9 472.6 554.4 472.2 554.9 473.1 555.5 472.6 556.0 473.0 556.5 472.3 557.0 472.7 557.5 472.7 558.1 473.2 558.6 473.0 559.1 473.0 559.6 474.5 560.2 472.5 560.7 472.9 561.2 473.0 561.8 473.2 562.3 473.0 562.8 473.0 563.3 473.8 563.9 473.2 564.4 473.3 564.9 473.4 565.4 474.2 566.0 473.7 566.5 474.3 567.0 473.6 567.5 473.3 568.0 473.6 568.6 474.3 569.1 474.5 569.6 474.7 570.1 474.4 570.7 475.0 571.2 475.0 571.7 476.1 572.2 475.5 572.8 475.6 573.3 475.6 573.8 475.0 574.4 476.3 574.9 476.5 575.4 475.8 575.9 476.6 576.5 476.5 577.0 476.5 577.5 476.7 578.0 477.2 578.5 476.7 579.1 476.6 579.6 477.9 580.1 477.7 580.6 477.4 581.2 478.1 581.7 478.6 582.2 478.6 582.8 478.2 583.3 479.2 583.8 478.8 584.3 479.0 584.9 479.6 585.4 479.3 585.9 479.4 586.4 479.5 587.0 479.7 587.5 480.9 588.0 480.1 588.5 480.5 589.0 480.5 589.6 481.4 590.1 480.9 590.6 481.3 591.1 482.2 591.7 481.4 592.2 482.4 592.7 482.7 593.2 482.3 593.8 482.9 594.3 482.7 594.8 483.1 595.4 483.1 595.9 483.1 596.4 483.6 596.9 483.5 597.5 483.7 598.0 484.5 598.5 484.0 599.0 484.3 599.5 484.7 600.1 484.5 600.6 484.5 601.1 485.0 601.6 486.0 602.2 485.5 602.7 485.9 603.2 486.1 603.8 486.0 604.3 486.5 604.8 485.9 605.3 486.6 605.9 486.8 606.4 486.7 606.9 486.9 607.4 486.9 607.9 487.3 608.5 487.7 609.0 487.8 609.5 488.7 610.0 488.7 610.6 487.9 611.1 488.6 611.6 488.0 612.1 488.1 612.7 489.3 613.2 489.0 613.7 488.2 614.2 489.6 614.8 489.4 615.3 489.7 615.8 489.9 616.3 490.0 616.9 490.1 617.4 489.9 617.9 490.6 618.4 490.3 619.0 490.8 619.5 490.6 620.0 490.8 620.5 491.2 621.1 491.1 621.6 491.5 622.1 491.6 622.6 491.1 623.2 492.2 623.7 491.5 624.2 491.6 624.8 492.1 625.3 491.7 625.8 491.9 626.3 492.7 626.8 492.2 627.4 492.4 627.9 492.8 628.4 492.5 628.9 492.6 629.5 493.1 630.0 493.6 630.5 493.0 631.0 493.4 631.6 493.8 632.1 493.5 632.6 494.2 633.1 493.7 633.7 493.3 634.2 494.6 634.7 493.7 635.2 494.2 635.8 494.2 636.3 494.4 636.8 494.5 637.3 494.3 637.9 494.0 638.4 495.9 638.9 495.8 639.4 495.0 640.0 495.6 640.5 496.8 641.0 495.2 641.5 494.7 642.1 494.9 642.6 494.3 643.1 496.6 643.6 494.8 644.2 494.3 644.7 494.3 645.2 496.0 645.8 496.4 646.3 495.0 646.8 496.5 647.3 496.0 647.8 496.9 648.4 495.5 648.9 495.6 649.4 494.7 649.9 495.7 650.5 496.4 651.0 495.6 651.5 497.5 652.0 496.4 652.6 496.2 653.1 495.9 653.6 495.3 654.1 497.4 654.7 495.7 655.2 496.1 655.7 497.2 656.2 495.3 656.8 496.9 657.3 494.8 657.8 495.9 658.3 496.2 658.9 496.5 659.4 496.2 659.9 497.7 660.4 497.6 661.0 498.6 661.5 496.3 662.0 497.4 662.5 496.3 663.1 496.9 663.6 498.5 664.1 496.8 664.6 497.1 665.2 496.9 665.7 496.7 666.2 497.0 666.8 497.0 667.3 496.5 667.8 498.1" fill="none" stroke="#7c1e2a" stroke-width="1.25" stroke-linejoin="round" /><line x1="407.6" y1="296.3" x2="432.7" y2="296.3" stroke="#4a57b2" stroke-width="1.6" /><text x="435.7" y="300.6" font-size="12" text-anchor="start" font-weight="bold" fill="#000" font-family='"Liberation Serif", serif' >78 K</text><line x1="407.6" y1="311.4" x2="432.7" y2="311.4" stroke="#b3b0e0" stroke-width="1.6" /><text x="435.7" y="315.7" font-size="12" text-anchor="start" font-weight="bold" fill="#000" font-family='"Liberation Serif", serif' >100 K</text><line x1="407.6" y1="326.5" x2="432.7" y2="326.5" stroke="#80ccf0" stroke-width="1.6" /><text x="435.7" y="330.8" font-size="12" text-anchor="start" font-weight="bold" fill="#000" font-family='"Liberation Serif", serif' >125 K</text><line x1="407.6" y1="341.6" x2="432.7" y2="341.6" stroke="#1aa9e6" stroke-width="1.6" /><text x="435.7" y="345.9" font-size="12" text-anchor="start" font-weight="bold" fill="#000" font-family='"Liberation Serif", serif' >150 K</text><line x1="407.6" y1="356.7" x2="432.7" y2="356.7" stroke="#a3cf93" stroke-width="1.6" /><text x="435.7" y="361" font-size="12" text-anchor="start" font-weight="bold" fill="#000" font-family='"Liberation Serif", serif' >175 K</text><line x1="407.6" y1="371.8" x2="432.7" y2="371.8" stroke="#2ea852" stroke-width="1.6" /><text x="435.7" y="376.1" font-size="12" text-anchor="start" font-weight="bold" fill="#000" font-family='"Liberation Serif", serif' >200 K</text><line x1="407.6" y1="386.9" x2="432.7" y2="386.9" stroke="#f29240" stroke-width="1.6" /><text x="435.7" y="391.2" font-size="12" text-anchor="start" font-weight="bold" fill="#000" font-family='"Liberation Serif", serif' >225 K</text><line x1="468" y1="296.3" x2="493.3" y2="296.3" stroke="#e8b186" stroke-width="1.6" /><text x="496.2" y="300.6" font-size="12" text-anchor="start" font-weight="bold" fill="#000" font-family='"Liberation Serif", serif' >250 K</text><line x1="468" y1="311.4" x2="493.3" y2="311.4" stroke="#f9d22e" stroke-width="1.6" /><text x="496.2" y="315.7" font-size="12" text-anchor="start" font-weight="bold" fill="#000" font-family='"Liberation Serif", serif' >275 K</text><line x1="468" y1="326.5" x2="493.3" y2="326.5" stroke="#eee09c" stroke-width="1.6" /><text x="496.2" y="330.8" font-size="12" text-anchor="start" font-weight="bold" fill="#000" font-family='"Liberation Serif", serif' >300 K</text><line x1="468" y1="341.6" x2="493.3" y2="341.6" stroke="#f29fc8" stroke-width="1.6" /><text x="496.2" y="345.9" font-size="12" text-anchor="start" font-weight="bold" fill="#000" font-family='"Liberation Serif", serif' >350 K</text><line x1="468" y1="356.7" x2="493.3" y2="356.7" stroke="#d9404f" stroke-width="1.6" /><text x="496.2" y="361" font-size="12" text-anchor="start" font-weight="bold" fill="#000" font-family='"Liberation Serif", serif' >400 K</text><line x1="468" y1="371.8" x2="493.3" y2="371.8" stroke="#7c1e2a" stroke-width="1.6" /><text x="496.2" y="376.1" font-size="12" text-anchor="start" font-weight="bold" fill="#000" font-family='"Liberation Serif", serif' >450 K</text><rect x="52.6" y="560.8" width="265" height="212" fill="none" stroke="#000" stroke-width="1.55"/><line x1="52.9" y1="772.8" x2="52.9" y2="776.8" stroke="#000" stroke-width="1.4" /><line x1="79.3" y1="772.8" x2="79.3" y2="775.3" stroke="#000" stroke-width="1.4" /><line x1="105.6" y1="772.8" x2="105.6" y2="776.8" stroke="#000" stroke-width="1.4" /><line x1="131.9" y1="772.8" x2="131.9" y2="775.3" stroke="#000" stroke-width="1.4" /><line x1="158.3" y1="772.8" x2="158.3" y2="776.8" stroke="#000" stroke-width="1.4" /><line x1="184.7" y1="772.8" x2="184.7" y2="775.3" stroke="#000" stroke-width="1.4" /><line x1="211" y1="772.8" x2="211" y2="776.8" stroke="#000" stroke-width="1.4" /><line x1="237.3" y1="772.8" x2="237.3" y2="775.3" stroke="#000" stroke-width="1.4" /><line x1="263.7" y1="772.8" x2="263.7" y2="776.8" stroke="#000" stroke-width="1.4" /><line x1="290.1" y1="772.8" x2="290.1" y2="775.3" stroke="#000" stroke-width="1.4" /><line x1="316.4" y1="772.8" x2="316.4" y2="776.8" stroke="#000" stroke-width="1.4" /><text x="52.9" y="793" font-size="15.6" text-anchor="middle" font-weight="bold" fill="#000" font-family='"Liberation Serif", serif' >0.0020</text><text x="105.6" y="793" font-size="15.6" text-anchor="middle" font-weight="bold" fill="#000" font-family='"Liberation Serif", serif' >0.0025</text><text x="158.3" y="793" font-size="15.6" text-anchor="middle" font-weight="bold" fill="#000" font-family='"Liberation Serif", serif' >0.0030</text><text x="211" y="793" font-size="15.6" text-anchor="middle" font-weight="bold" fill="#000" font-family='"Liberation Serif", serif' >0.0035</text><text x="263.7" y="793" font-size="15.6" text-anchor="middle" font-weight="bold" fill="#000" font-family='"Liberation Serif", serif' >0.0040</text><text x="316.4" y="793" font-size="15.6" text-anchor="middle" font-weight="bold" fill="#000" font-family='"Liberation Serif", serif' >0.0045</text><text x="0" y="0" font-size="18" text-anchor="middle" font-weight="bold" fill="#000" font-family='"Liberation Serif", serif' transform="translate(16.8,675.6) rotate(-90)">Intergrated PL intensity</text><text x="185" y="819" font-size="18.3" text-anchor="middle" font-weight="bold" fill="#000" font-family='"Liberation Serif", serif' >1/<tspan font-style="italic">T</tspan> (K<tspan font-size="12" dy="-7">-1</tspan><tspan dy="7">)</tspan></text><text x="4.7" y="564.1" font-size="25.5" text-anchor="start" font-weight="bold" fill="#000" font-family='"Liberation Serif", serif' >e</text><circle cx="75.8" cy="749.5" r="5.1" fill="#8fd2f2"/><circle cx="89.7" cy="683.1" r="5.1" fill="#8fd2f2"/><circle cx="105.6" cy="651.2" r="5.1" fill="#8fd2f2"/><circle cx="123.2" cy="619.6" r="5.1" fill="#8fd2f2"/><circle cx="143.5" cy="600.5" r="5.1" fill="#8fd2f2"/><circle cx="166.5" cy="591.5" r="5.1" fill="#8fd2f2"/><circle cx="193.5" cy="586" r="5.1" fill="#8fd2f2"/><circle cx="225.6" cy="575.6" r="5.1" fill="#8fd2f2"/><circle cx="264" cy="575.3" r="5.1" fill="#8fd2f2"/><path d="M75.8 738.0 76.3 736.1 77.0 733.5 77.7 730.4 78.6 727.0 79.5 723.4 80.5 719.8 81.4 716.3 82.3 713.1 83.1 710.1 84.0 707.2 84.8 704.3 85.7 701.4 86.5 698.6 87.4 695.7 88.3 692.9 89.2 690.0 90.2 687.1 91.1 684.1 92.1 681.1 93.2 678.2 94.2 675.2 95.2 672.3 96.3 669.6 97.3 666.9 98.3 664.4 99.3 661.9 100.3 659.6 101.3 657.3 102.4 655.0 103.4 652.8 104.4 650.7 105.4 648.5 106.4 646.4 107.4 644.3 108.4 642.3 109.4 640.3 110.4 638.3 111.4 636.3 112.4 634.3 113.5 632.3 114.6 630.3 115.7 628.2 116.9 626.1 118.0 624.0 119.2 621.9 120.4 619.9 121.5 618.0 122.7 616.2 123.8 614.5 125.0 612.9 126.1 611.4 127.3 609.9 128.4 608.5 129.6 607.2 130.7 605.9 131.9 604.6 133.0 603.3 134.2 602.1 135.3 601.0 136.4 599.9 137.5 598.8 138.7 597.8 139.9 596.8 141.2 595.8 142.5 594.9 143.9 594.0 145.3 593.2 146.7 592.4 148.1 591.6 149.6 590.9 151.1 590.2 152.7 589.6 154.3 589.0 155.9 588.4 157.5 587.9 159.2 587.4 160.9 586.9 162.7 586.5 164.5 586.1 166.5 585.7 168.5 585.3 170.4 585.0 172.4 584.7 174.4 584.4 176.6 584.1 179.1 583.9 181.9 583.6 185.0 583.4 188.5 583.2 192.4 583.0 196.5 582.8 200.9 582.7 205.4 582.6 210.2 582.4 215.0 582.3 220.0 582.2 225.4 582.1 231.6 582.0 238.1 581.9 244.6 581.9 250.9 581.8 256.5 581.8 261.3 581.7 264.8 581.7" fill="none" stroke="#d9475a" stroke-width="1.4" stroke-linejoin="round" /><circle cx="186.8" cy="688.6" r="5.1" fill="#8fd2f2"/><text x="202.7" y="694" font-size="18" text-anchor="start" font-weight="bold" fill="#000" font-family='"Liberation Serif", serif' >Au<tspan font-size="11.5" dy="3">3</tspan><tspan dy="-3">-CD film</tspan></text><line x1="176" y1="714.7" x2="197.7" y2="714.7" stroke="#d9475a" stroke-width="1.4" /><text x="202.7" y="718.5" font-size="17.9" text-anchor="start" font-weight="bold" fill="#000" font-family='"Liberation Serif", serif' >Fitting Curve</text><text x="181" y="738" font-size="17.4" text-anchor="start" font-weight="bold" fill="#000" font-family='"Liberation Serif", serif' ><tspan font-style="italic">R</tspan><tspan font-size="11" dy="-7">2</tspan><tspan dy="7"> = 0.9820</tspan></text><text x="181" y="759" font-size="17.6" text-anchor="start" font-weight="bold" fill="#000" font-family='"Liberation Serif", serif' ><tspan font-style="italic">E</tspan><tspan font-size="11" dy="4">b</tspan><tspan dy="-4"> = 476.5 meV</tspan></text><path d="M458.67 805.58 L458.67 805.58 L458.66 805.58 L458.65 805.58 L458.64 805.58 L458.62 805.59 L458.61 805.60 L458.59 805.61 L458.57 805.61 L458.56 805.61 L458.54 805.61 L458.52 805.61 L458.50 805.61 L458.48 805.62 L458.46 805.63 L458.43 805.63 L458.41 805.64 L458.38 805.64 L458.36 805.64 L458.33 805.64 L458.31 805.64 L458.28 805.64 L458.24 805.64 L458.21 805.64 L458.17 805.64 L458.14 805.64 L458.10 805.65 L458.05 805.65 L458.01 805.64 L457.96 805.63 L457.90 805.61 L457.85 805.59 L457.78 805.56 L457.70 805.52 L457.61 805.47 L457.51 805.42 L457.41 805.36 L457.31 805.29 L457.20 805.22 L457.08 805.14 L456.95 805.05 L456.80 804.94 L456.64 804.83 L456.47 804.70 L456.29 804.56 L456.10 804.42 L455.90 804.26 L455.69 804.09 L455.46 803.91 L455.21 803.73 L454.95 803.53 L454.67 803.32 L454.36 803.09 L454.03 802.84 L453.67 802.58 L453.28 802.29 L452.87 801.99 L452.45 801.67 L452.00 801.33 L451.52 800.97 L451.02 800.57 L450.48 800.14 L449.92 799.67 L449.33 799.16 L448.70 798.59 L448.05 797.98 L447.38 797.34 L446.67 796.60 L445.88 795.70 L445.03 794.66 L444.12 793.50 L443.15 792.17 L442.11 790.63 L441.01 788.91 L439.85 787.02 L438.62 784.88 L437.31 782.42 L435.91 779.65 L434.44 776.61 L432.89 773.22 L431.24 769.42 L429.48 765.22 L427.60 760.65 L425.68 755.65 L423.76 750.16 L421.83 744.16 L419.88 737.69 L417.94 730.77 L416.04 723.46 L414.14 715.64 L412.25 707.35 L410.43 698.77 L408.78 690.12 L407.28 681.32 L405.89 672.30 L404.68 663.29 L403.72 654.53 L402.99 645.96 L402.48 637.51 L402.23 629.32 L402.29 621.56 L402.67 614.17 L403.34 607.09 L404.32 600.49 L405.60 594.54 L407.24 589.23 L409.22 584.49 L411.46 580.40 L413.89 577.04 L416.54 574.51 L419.44 572.73 L422.49 571.56 L425.61 570.87 L428.81 570.74 L432.11 571.20 L435.48 572.03 L438.83 573.02 L442.19 574.18 L445.57 575.60 L448.94 577.17 L452.24 578.77 L455.47 580.39 L458.65 582.09 L461.79 583.84 L464.90 585.65 L467.98 587.51 L471.02 589.42 L474.04 591.38 L477.06 593.38 L480.07 595.44 L483.07 597.55 L486.06 599.70 L489.05 601.88 L492.02 604.09 L494.99 606.35 L497.95 608.63 L500.90 610.94 L503.86 613.27 L506.82 615.63 L509.77 618.01 L512.73 620.40 L515.69 622.81 L518.66 625.24 L521.63 627.69 L524.59 630.14 L527.54 632.60 L530.49 635.07 L533.44 637.55 L536.38 640.03 L539.32 642.50 L542.26 644.97 L545.19 647.45 L548.11 649.91 L551.01 652.37 L553.89 654.82 L556.76 657.26 L559.60 659.68 L562.43 662.09 L565.23 664.48 L568.02 666.85 L570.77 669.19 L573.49 671.52 L576.18 673.81 L578.85 676.08 L581.46 678.31 L584.05 680.51 L586.60 682.67 L589.10 684.79 L591.54 686.87 L593.92 688.90 L596.25 690.90 L598.52 692.84 L600.71 694.71 L602.81 696.50 L604.84 698.23 L606.79 699.89 L608.69 701.51 L610.54 703.08 L612.34 704.61 L614.07 706.08 L615.72 707.48 L617.28 708.81 L618.77 710.07 L620.19 711.27 L621.55 712.41 L622.83 713.50 L624.04 714.54 L625.19 715.53 L626.28 716.46 L627.31 717.34 L628.28 718.17 L629.19 718.95 L630.06 719.69 L630.88 720.39 L631.65 721.04 L632.38 721.65 L633.07 722.24 L633.73 722.80 L634.34 723.32 L634.93 723.82 L635.49 724.31 L636.03 724.77 L636.55 725.21 L637.04 725.63 L637.51 726.03 L637.96 726.42 L638.38 726.78 L638.79 727.12 L639.17 727.45 L639.53 727.75 L639.87 728.04 L640.19 728.30 L640.49 728.55 L640.77 728.79 L641.03 729.01 L641.26 729.21 L641.49 729.40 L641.70 729.58 L641.90 729.75 L642.08 729.91 L642.25 730.05 L642.41 730.19 L642.56 730.32 L642.69 730.43 L642.81 730.54 L642.92 730.63 L643.01 730.71 L643.10 730.78 L643.18 730.85 L643.26 730.92 L643.33 730.98 L643.41 731.04 L643.48 731.10 L643.54 731.16 L643.60 731.21 L643.65 731.25 L643.71 731.30 L643.77 731.35 L643.82 731.40 L643.88 731.45 L643.94 731.50 L643.99 731.54 L644.04 731.59 L644.09 731.63 L644.14 731.67 L644.18 731.70 L644.21 731.73 L644.24 731.76 L644.27 731.78 L644.29 731.80 L644.31 731.82 L644.32 731.83 L644.34 731.84 L644.35 731.85 L644.36 731.86 L644.36 731.86 L644.37 731.87Z" fill="none" stroke="#000" stroke-width="1.2" stroke-linejoin="round"/><line x1="458.7" y1="805.6" x2="458.7" y2="809.1" stroke="#000" stroke-width="0.9"/><line x1="458.6" y1="805.6" x2="459.6" y2="808.9" stroke="#000" stroke-width="0.9"/><line x1="458.6" y1="805.6" x2="459.3" y2="809.0" stroke="#000" stroke-width="0.9"/><line x1="458.5" y1="805.6" x2="459.1" y2="809.1" stroke="#000" stroke-width="0.9"/><line x1="458.4" y1="805.6" x2="458.9" y2="809.1" stroke="#000" stroke-width="0.9"/><line x1="458.3" y1="805.6" x2="458.3" y2="809.1" stroke="#000" stroke-width="0.9"/><line x1="458.2" y1="805.6" x2="458.2" y2="809.1" stroke="#000" stroke-width="0.9"/><line x1="458.0" y1="805.6" x2="457.3" y2="809.1" stroke="#000" stroke-width="0.9"/><line x1="457.8" y1="805.6" x2="456.3" y2="808.7" stroke="#000" stroke-width="0.9"/><line x1="457.4" y1="805.4" x2="455.6" y2="808.3" stroke="#000" stroke-width="0.9"/><line x1="456.9" y1="805.0" x2="454.9" y2="807.9" stroke="#000" stroke-width="0.9"/><line x1="456.3" y1="804.6" x2="454.2" y2="807.4" stroke="#000" stroke-width="0.9"/><line x1="455.5" y1="803.9" x2="453.3" y2="806.7" stroke="#000" stroke-width="0.9"/><line x1="454.4" y1="803.1" x2="452.3" y2="805.9" stroke="#000" stroke-width="0.9"/><line x1="452.9" y1="802.0" x2="450.8" y2="804.8" stroke="#000" stroke-width="0.9"/><line x1="451.0" y1="800.6" x2="448.8" y2="803.3" stroke="#000" stroke-width="0.9"/><line x1="448.7" y1="798.6" x2="446.3" y2="801.1" stroke="#000" stroke-width="0.9"/><line x1="445.9" y1="795.7" x2="443.2" y2="797.9" stroke="#000" stroke-width="0.9"/><line x1="442.1" y1="790.6" x2="439.2" y2="792.5" stroke="#000" stroke-width="0.9"/><line x1="437.3" y1="782.4" x2="434.2" y2="784.0" stroke="#000" stroke-width="0.9"/><line x1="431.2" y1="769.4" x2="428.0" y2="770.8" stroke="#000" stroke-width="0.9"/><line x1="423.8" y1="750.2" x2="420.4" y2="751.3" stroke="#000" stroke-width="0.9"/><line x1="416.0" y1="723.5" x2="412.6" y2="724.3" stroke="#000" stroke-width="0.9"/><line x1="408.8" y1="690.1" x2="405.3" y2="690.7" stroke="#000" stroke-width="0.9"/><line x1="403.7" y1="654.5" x2="400.2" y2="654.9" stroke="#000" stroke-width="0.9"/><line x1="402.3" y1="621.6" x2="398.8" y2="621.5" stroke="#000" stroke-width="0.9"/><line x1="405.6" y1="594.5" x2="402.2" y2="593.7" stroke="#000" stroke-width="0.9"/><line x1="413.9" y1="577.0" x2="411.2" y2="574.8" stroke="#000" stroke-width="0.9"/><line x1="425.6" y1="570.9" x2="425.1" y2="567.4" stroke="#000" stroke-width="0.9"/><line x1="438.8" y1="573.0" x2="439.8" y2="569.7" stroke="#000" stroke-width="0.9"/><line x1="452.2" y1="578.8" x2="453.8" y2="575.6" stroke="#000" stroke-width="0.9"/><line x1="464.9" y1="585.7" x2="466.7" y2="582.6" stroke="#000" stroke-width="0.9"/><line x1="477.1" y1="593.4" x2="479.0" y2="590.5" stroke="#000" stroke-width="0.9"/><line x1="489.0" y1="601.9" x2="491.1" y2="599.1" stroke="#000" stroke-width="0.9"/><line x1="500.9" y1="610.9" x2="503.1" y2="608.2" stroke="#000" stroke-width="0.9"/><line x1="512.7" y1="620.4" x2="514.9" y2="617.7" stroke="#000" stroke-width="0.9"/><line x1="524.6" y1="630.1" x2="526.8" y2="627.4" stroke="#000" stroke-width="0.9"/><line x1="536.4" y1="640.0" x2="538.6" y2="637.3" stroke="#000" stroke-width="0.9"/><line x1="548.1" y1="649.9" x2="550.4" y2="647.2" stroke="#000" stroke-width="0.9"/><line x1="559.6" y1="659.7" x2="561.9" y2="657.0" stroke="#000" stroke-width="0.9"/><line x1="570.8" y1="669.2" x2="573.0" y2="666.5" stroke="#000" stroke-width="0.9"/><line x1="581.5" y1="678.3" x2="583.7" y2="675.6" stroke="#000" stroke-width="0.9"/><line x1="591.5" y1="686.9" x2="593.8" y2="684.2" stroke="#000" stroke-width="0.9"/><line x1="600.7" y1="694.7" x2="603.0" y2="692.0" stroke="#000" stroke-width="0.9"/><line x1="608.7" y1="701.5" x2="611.0" y2="698.8" stroke="#000" stroke-width="0.9"/><line x1="615.7" y1="707.5" x2="618.0" y2="704.8" stroke="#000" stroke-width="0.9"/><line x1="621.5" y1="712.4" x2="623.8" y2="709.7" stroke="#000" stroke-width="0.9"/><line x1="626.3" y1="716.5" x2="628.6" y2="713.8" stroke="#000" stroke-width="0.9"/><line x1="630.1" y1="719.7" x2="632.3" y2="717.0" stroke="#000" stroke-width="0.9"/><line x1="633.1" y1="722.2" x2="635.3" y2="719.6" stroke="#000" stroke-width="0.9"/><line x1="635.5" y1="724.3" x2="637.8" y2="721.6" stroke="#000" stroke-width="0.9"/><line x1="637.5" y1="726.0" x2="639.8" y2="723.4" stroke="#000" stroke-width="0.9"/><line x1="639.2" y1="727.4" x2="641.4" y2="724.8" stroke="#000" stroke-width="0.9"/><line x1="640.5" y1="728.6" x2="642.7" y2="725.9" stroke="#000" stroke-width="0.9"/><line x1="641.5" y1="729.4" x2="643.8" y2="726.7" stroke="#000" stroke-width="0.9"/><line x1="642.2" y1="730.1" x2="644.5" y2="727.4" stroke="#000" stroke-width="0.9"/><line x1="642.8" y1="730.5" x2="645.1" y2="727.9" stroke="#000" stroke-width="0.9"/><line x1="643.2" y1="730.8" x2="645.5" y2="728.2" stroke="#000" stroke-width="0.9"/><line x1="643.5" y1="731.1" x2="645.7" y2="728.4" stroke="#000" stroke-width="0.9"/><line x1="643.7" y1="731.3" x2="646.0" y2="728.6" stroke="#000" stroke-width="0.9"/><line x1="643.9" y1="731.5" x2="646.2" y2="728.8" stroke="#000" stroke-width="0.9"/><line x1="644.1" y1="731.7" x2="646.4" y2="729.0" stroke="#000" stroke-width="0.9"/><line x1="644.3" y1="731.8" x2="646.5" y2="729.1" stroke="#000" stroke-width="0.9"/><line x1="644.3" y1="731.8" x2="646.6" y2="729.2" stroke="#000" stroke-width="0.9"/><line x1="644.4" y1="731.9" x2="646.6" y2="729.2" stroke="#000" stroke-width="0.9"/><text x="424.6" y="565.4" font-size="11" text-anchor="middle" fill="#3a22dc" font-family='"Liberation Serif", serif'>520</text><text x="487.1" y="589" font-size="11" text-anchor="middle" fill="#3a22dc" font-family='"Liberation Serif", serif'>540</text><text x="535" y="626" font-size="11" text-anchor="middle" fill="#3a22dc" font-family='"Liberation Serif", serif'>560</text><text x="581.8" y="666" font-size="11" text-anchor="middle" fill="#3a22dc" font-family='"Liberation Serif", serif'>580</text><text x="619.6" y="698.5" font-size="11" text-anchor="middle" fill="#3a22dc" font-family='"Liberation Serif", serif'>600</text><text x="640.5" y="715.2" font-size="11" text-anchor="middle" fill="#3a22dc" font-family='"Liberation Serif", serif'>620</text><text x="657.5" y="735.8" font-size="11" text-anchor="middle" fill="#3a22dc" font-family='"Liberation Serif", serif'>700</text><text x="389" y="659" font-size="11" text-anchor="middle" fill="#3a22dc" font-family='"Liberation Serif", serif'>500</text><text x="408.4" y="732.8" font-size="11" text-anchor="middle" fill="#3a22dc" font-family='"Liberation Serif", serif'>490</text><text x="417.2" y="775" font-size="11" text-anchor="middle" fill="#3a22dc" font-family='"Liberation Serif", serif'>480</text><text x="428.4" y="796.1" font-size="11" text-anchor="middle" fill="#3a22dc" font-family='"Liberation Serif", serif'>470</text><text x="435.3" y="807.4" font-size="12.5" text-anchor="middle" fill="#3a22dc" font-family='"Liberation Serif", serif'>460</text><text x="470.5" y="810.4" font-size="11" text-anchor="middle" fill="#3a22dc" font-family='"Liberation Serif", serif'>380</text><rect x="573.5" y="552.2" width="92.8" height="104.1" fill="#fff"/><rect x="574.9" y="553.4" width="27.8" height="11.4" fill="#000"/><rect x="603.7" y="553.4" width="61.6" height="11.4" fill="#000"/><text x="588.8" y="562.2" font-size="9" text-anchor="middle" font-weight="bold" fill="#fff" font-family='"Liberation Serif", serif' >No.</text><text x="634.5" y="562.2" font-size="9" text-anchor="middle" font-weight="bold" fill="#fff" font-family='"Liberation Serif", serif' >Temp. / K</text><rect x="574.9" y="566.2" width="27.8" height="12" fill="#c9c9c9"/><rect x="603.7" y="566.2" width="61.6" height="12" fill="#c9c9c9"/><text x="588.8" y="575.4" font-size="9" text-anchor="middle" font-weight="normal" fill="#333" font-family='"Liberation Serif", serif' >1</text><text x="634.5" y="575.4" font-size="9" text-anchor="middle" font-weight="normal" fill="#333" font-family='"Liberation Serif", serif' >78</text><rect x="574.9" y="579.1" width="27.8" height="12" fill="#e3e3e3"/><rect x="603.7" y="579.1" width="61.6" height="12" fill="#e3e3e3"/><text x="588.8" y="588.3" font-size="9" text-anchor="middle" font-weight="normal" fill="#333" font-family='"Liberation Serif", serif' >2</text><text x="634.5" y="588.3" font-size="9" text-anchor="middle" font-weight="normal" fill="#333" font-family='"Liberation Serif", serif' >100</text><rect x="574.9" y="592.1" width="27.8" height="12" fill="#c9c9c9"/><rect x="603.7" y="592.1" width="61.6" height="12" fill="#c9c9c9"/><text x="588.8" y="601.3" font-size="9" text-anchor="middle" font-weight="normal" fill="#333" font-family='"Liberation Serif", serif' >3</text><text x="634.5" y="601.3" font-size="9" text-anchor="middle" font-weight="normal" fill="#333" font-family='"Liberation Serif", serif' >125</text><rect x="574.9" y="605.0" width="27.8" height="12" fill="#e3e3e3"/><rect x="603.7" y="605.0" width="61.6" height="12" fill="#e3e3e3"/><text x="588.8" y="614.2" font-size="9" text-anchor="middle" font-weight="normal" fill="#333" font-family='"Liberation Serif", serif' >4</text><text x="634.5" y="614.2" font-size="9" text-anchor="middle" font-weight="normal" fill="#333" font-family='"Liberation Serif", serif' >150</text><rect x="574.9" y="617.9" width="27.8" height="12" fill="#c9c9c9"/><rect x="603.7" y="617.9" width="61.6" height="12" fill="#c9c9c9"/><text x="588.8" y="627.1" font-size="9" text-anchor="middle" font-weight="normal" fill="#333" font-family='"Liberation Serif", serif' >6</text><text x="634.5" y="627.1" font-size="9" text-anchor="middle" font-weight="normal" fill="#333" font-family='"Liberation Serif", serif' >200</text><rect x="574.9" y="630.9" width="27.8" height="12" fill="#e3e3e3"/><rect x="603.7" y="630.9" width="61.6" height="12" fill="#e3e3e3"/><text x="588.8" y="640.1" font-size="9" text-anchor="middle" font-weight="normal" fill="#333" font-family='"Liberation Serif", serif' >5</text><text x="634.5" y="640.1" font-size="9" text-anchor="middle" font-weight="normal" fill="#333" font-family='"Liberation Serif", serif' >300</text><rect x="574.9" y="643.8" width="27.8" height="12" fill="#c9c9c9"/><rect x="603.7" y="643.8" width="61.6" height="12" fill="#c9c9c9"/><text x="588.8" y="653" font-size="9" text-anchor="middle" font-weight="normal" fill="#333" font-family='"Liberation Serif", serif' >6</text><text x="634.5" y="653" font-size="9" text-anchor="middle" font-weight="normal" fill="#333" font-family='"Liberation Serif", serif' >450</text><path d="M441.5 724.6 L551 698.2 Q559 696 559.6 690.5" fill="none" stroke="#000" stroke-width="3.9" stroke-linecap="butt"/><path d="M558.3 684.6 L563.4 689.2 L554.4 690.4 Z" fill="#000"/><text x="0" y="0" font-size="16" text-anchor="start" font-weight="normal" fill="#000" font-family='"Liberation Serif", serif' transform="translate(463.8,695.6) rotate(-14)">Increasing</text><text x="0" y="0" font-size="16" text-anchor="start" font-weight="normal" fill="#000" font-family='"Liberation Serif", serif' transform="translate(463.2,712) rotate(-13.8)">temperature</text><g transform="translate(461,735) rotate(-13)"><text x="0" y="0" font-size="15.8" font-family='"Liberation Serif", serif'>78 K</text><text x="56" y="0" font-size="15.8" font-family='"Liberation Serif", serif'>450 K</text><path d="M36 -4.3H50.5" stroke="#000" stroke-width="1.1"/><path d="M46.5 -6.8L51 -4.3L46.5 -1.8" fill="none" stroke="#000" stroke-width="1.1"/></g><circle cx="455.3" cy="759.6" r="1.1" fill="#000"/><text x="454.8" y="773.8" font-size="12.5" text-anchor="middle" font-weight="bold" fill="#000" font-family='"Liberation Sans", sans-serif' stroke="#000" stroke-width="0.5" textLength="7.8" lengthAdjust="spacingAndGlyphs">1</text><circle cx="473.6" cy="751.6" r="1.1" fill="#000"/><text x="474.5" y="765.6" font-size="12.5" text-anchor="middle" font-weight="bold" fill="#000" font-family='"Liberation Sans", sans-serif' stroke="#000" stroke-width="0.5" textLength="7.8" lengthAdjust="spacingAndGlyphs">2</text><circle cx="556.4" cy="739.3" r="1.1" fill="#000"/><text x="553" y="754.1" font-size="12.5" text-anchor="middle" font-weight="bold" fill="#000" font-family='"Liberation Sans", sans-serif' stroke="#000" stroke-width="0.5" textLength="7.8" lengthAdjust="spacingAndGlyphs">3</text><circle cx="597.2" cy="730.8" r="1.1" fill="#000"/><text x="591.7" y="744.1" font-size="12.5" text-anchor="middle" font-weight="bold" fill="#000" font-family='"Liberation Sans", sans-serif' stroke="#000" stroke-width="0.5" textLength="7.8" lengthAdjust="spacingAndGlyphs">4</text><circle cx="611.4" cy="723" r="1.1" fill="#000"/><text x="610.2" y="736.9" font-size="12.5" text-anchor="middle" font-weight="bold" fill="#000" font-family='"Liberation Sans", sans-serif' stroke="#000" stroke-width="0.5" textLength="7.8" lengthAdjust="spacingAndGlyphs">5</text><circle cx="613.6" cy="711.5" r="1.1" fill="#000"/><text x="619.6" y="722.8" font-size="12.5" text-anchor="middle" font-weight="bold" fill="#000" font-family='"Liberation Sans", sans-serif' stroke="#000" stroke-width="0.5" textLength="7.8" lengthAdjust="spacingAndGlyphs">6</text><circle cx="599.9" cy="708.9" r="1.1" fill="#000"/><text x="600.8" y="723.1" font-size="12.5" text-anchor="middle" font-weight="bold" fill="#000" font-family='"Liberation Sans", sans-serif' stroke="#000" stroke-width="0.5" textLength="7.8" lengthAdjust="spacingAndGlyphs">7</text><text x="346.2" y="573" font-size="25.5" text-anchor="start" font-weight="bold" fill="#000" font-family='"Liberation Serif", serif' >f</text></svg>
</body></html>
